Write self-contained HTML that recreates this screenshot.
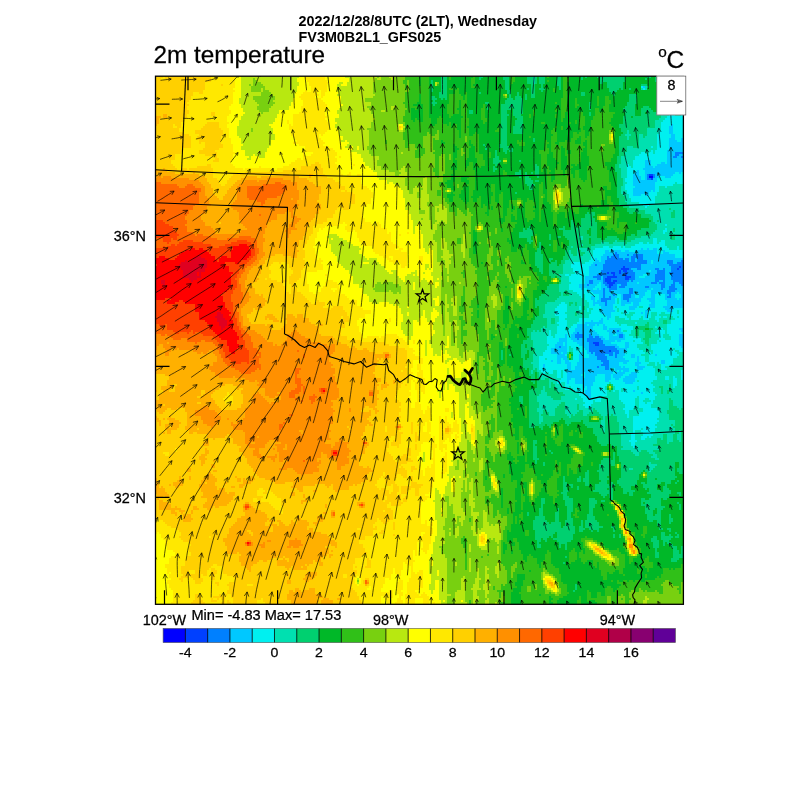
<!DOCTYPE html><html><head><meta charset="utf-8"><title>2m temperature</title><style>
html,body{margin:0;padding:0;background:#fff}body{width:800px;height:800px;overflow:hidden}svg{display:block}text{font-family:"Liberation Sans",sans-serif;fill:#000}
</style></head><body>
<svg width="800" height="800" viewBox="0 0 800 800">
<rect width="800" height="800" fill="#fff"/>
<defs><clipPath id="c"><rect x="155.5" y="76.2" width="527.9" height="528.1"/></clipPath></defs>
<g clip-path="url(#c)">
<g transform="translate(155 76)" shape-rendering="crispEdges">
<path fill="#0000ff" d="M494 100h4v2h-4z"/>
<path fill="#0040ff" d="M494 98h4v2h-4zM496 102h2v2h-2zM468 190h2v2h-2zM524 190h2v2h-2zM522 192h2v2h-2zM466 192h8v2h-8zM468 194h4v2h-4zM464 194h2v4h-2zM456 196h4v2h-4zM452 196h2v2h-2zM470 196h2v4h-2zM458 198h2v2h-2zM470 200h6v2h-6zM452 200h10v2h-10zM470 202h4v2h-4zM450 202h6v4h-6zM458 204h4v2h-4zM452 206h8v2h-8zM454 208h4v2h-4zM454 210h2v2h-2zM438 266h6v2h-6zM440 268h4v2h-4zM454 274h2v2h-2z"/>
<path fill="#0080ff" d="M520 76h8v2h-8zM520 78h4v2h-4zM518 80h4v2h-4zM526 80h2v2h-2zM498 98h2v4h-2zM492 98h2v4h-2zM492 102h4v2h-4zM460 176h2v2h-2zM478 178h10v2h-10zM458 178h6v2h-6zM472 178h2v2h-2zM456 180h8v2h-8zM452 180h2v2h-2zM476 180h12v2h-12zM452 182h16v2h-16zM470 182h4v2h-4zM482 182h6v2h-6zM476 182h4v4h-4zM450 184h24v2h-24zM526 184h4v2h-4zM482 184h10v2h-10zM512 184h6v4h-6zM522 186h8v2h-8zM450 186h42v2h-42zM448 188h38v2h-38zM440 188h2v2h-2zM514 188h16v2h-16zM516 190h8v2h-8zM526 190h4v2h-4zM448 190h20v2h-20zM470 190h16v2h-16zM482 192h4v2h-4zM448 192h18v2h-18zM500 192h4v2h-4zM508 192h2v2h-2zM516 192h6v2h-6zM524 192h6v2h-6zM474 192h2v2h-2zM446 194h18v2h-18zM472 194h6v2h-6zM516 194h14v2h-14zM466 194h2v2h-2zM502 194h8v4h-8zM466 196h4v2h-4zM446 196h6v2h-6zM454 196h2v2h-2zM460 196h4v2h-4zM514 196h16v2h-16zM472 196h8v4h-8zM460 198h10v2h-10zM442 198h16v2h-16zM448 200h4v2h-4zM476 200h4v2h-4zM462 200h8v2h-8zM438 200h8v2h-8zM516 198h14v6h-14zM500 198h10v6h-10zM442 202h4v2h-4zM456 202h14v2h-14zM474 202h6v2h-6zM448 202h2v4h-2zM500 204h4v2h-4zM456 204h2v2h-2zM508 204h2v2h-2zM518 204h12v2h-12zM462 204h12v2h-12zM476 204h2v2h-2zM434 204h4v4h-4zM496 206h6v2h-6zM448 206h4v2h-4zM518 206h2v2h-2zM460 206h12v2h-12zM504 206h6v2h-6zM524 206h4v2h-4zM526 208h4v2h-4zM450 208h4v2h-4zM458 208h4v2h-4zM432 208h2v2h-2zM466 208h6v2h-6zM516 208h4v2h-4zM506 208h4v4h-4zM514 210h6v2h-6zM528 210h2v2h-2zM452 210h2v2h-2zM456 210h6v2h-6zM464 210h6v2h-6zM490 210h4v2h-4zM506 212h2v2h-2zM514 212h8v2h-8zM454 212h8v2h-8zM454 214h2v2h-2zM512 214h8v2h-8zM474 212h4v6h-4zM512 216h4v2h-4zM458 218h2v2h-2zM514 218h2v2h-2zM448 212h2v10h-2zM468 218h8v4h-8zM454 220h2v2h-2zM512 220h4v2h-4zM468 222h6v2h-6zM446 222h10v2h-10zM446 224h6v2h-6zM472 224h2v2h-2zM450 226h2v4h-2zM462 254h2v2h-2zM422 256h2v2h-2zM434 258h2v2h-2zM464 258h4v4h-4zM420 258h8v4h-8zM434 260h4v2h-4zM440 260h4v2h-4zM432 262h14v2h-14zM422 262h2v2h-2zM432 264h16v2h-16zM434 266h4v2h-4zM444 266h4v2h-4zM444 268h6v2h-6zM434 268h6v2h-6zM434 270h26v2h-26zM404 270h2v2h-2zM434 272h28v2h-28zM456 274h8v2h-8zM434 274h20v2h-20zM436 276h2v2h-2zM440 276h18v2h-18zM460 276h4v2h-4zM440 278h10v2h-10zM454 278h4v2h-4zM460 278h2v4h-2zM442 280h10v4h-10zM446 284h8v2h-8zM448 286h6v2h-6zM446 288h8v2h-8zM442 290h2v2h-2zM450 290h4v4h-4z"/>
<path fill="#00c8ff" d="M488 10h2v2h-2zM516 48h2v2h-2zM514 50h4v8h-4zM516 58h4v4h-4zM514 62h6v2h-6zM526 62h4v4h-4zM514 64h8v2h-8zM514 66h16v8h-16zM512 74h18v2h-18zM528 76h2v2h-2zM512 76h8v4h-8zM524 78h6v2h-6zM528 80h2v2h-2zM522 80h4v2h-4zM512 80h6v2h-6zM512 82h18v6h-18zM506 86h4v2h-4zM490 84h6v6h-6zM502 88h28v2h-28zM500 90h30v2h-30zM490 90h8v2h-8zM488 92h42v2h-42zM482 94h2v2h-2zM490 94h40v2h-40zM524 96h2v2h-2zM480 96h4v2h-4zM490 96h30v2h-30zM478 98h6v2h-6zM500 98h18v2h-18zM500 100h4v2h-4zM510 100h6v2h-6zM490 98h2v6h-2zM478 100h8v4h-8zM498 102h4v2h-4zM478 104h24v2h-24zM478 106h22v4h-22zM480 110h20v2h-20zM478 112h22v2h-22zM478 114h18v2h-18zM498 114h2v2h-2zM478 116h16v2h-16zM478 118h8v2h-8zM490 118h4v2h-4zM498 172h4v2h-4zM492 172h2v2h-2zM486 172h2v2h-2zM508 174h2v2h-2zM470 174h4v2h-4zM450 174h4v2h-4zM480 174h22v2h-22zM456 174h10v2h-10zM508 176h6v2h-6zM462 176h40v2h-40zM450 176h10v2h-10zM448 178h10v2h-10zM464 178h8v2h-8zM474 178h4v2h-4zM488 178h32v4h-32zM464 180h12v2h-12zM454 180h2v2h-2zM446 180h6v4h-6zM468 182h2v2h-2zM440 182h2v2h-2zM488 182h42v2h-42zM474 182h2v4h-2zM480 182h2v4h-2zM446 184h4v2h-4zM518 184h8v2h-8zM440 184h4v2h-4zM498 184h14v4h-14zM492 184h4v4h-4zM438 186h12v2h-12zM518 186h4v2h-4zM436 188h4v2h-4zM486 188h28v2h-28zM442 188h6v2h-6zM486 190h30v2h-30zM434 190h14v4h-14zM476 192h6v2h-6zM486 192h14v2h-14zM504 192h4v2h-4zM510 192h6v4h-6zM478 194h16v2h-16zM496 194h6v2h-6zM434 194h12v4h-12zM480 196h22v2h-22zM510 196h4v2h-4zM492 198h8v2h-8zM480 198h8v2h-8zM434 198h8v2h-8zM430 200h8v2h-8zM490 200h10v2h-10zM480 200h4v2h-4zM510 198h6v6h-6zM446 200h2v4h-2zM430 202h12v2h-12zM480 202h20v2h-20zM438 204h10v2h-10zM474 204h2v2h-2zM478 204h22v2h-22zM504 204h4v2h-4zM510 204h8v4h-8zM430 204h4v4h-4zM438 206h6v2h-6zM528 206h2v2h-2zM484 206h12v2h-12zM472 206h10v2h-10zM502 206h2v2h-2zM520 206h4v2h-4zM446 206h2v2h-2zM462 208h4v2h-4zM424 208h8v2h-8zM520 208h6v2h-6zM446 208h4v2h-4zM434 208h8v2h-8zM472 208h34v2h-34zM510 208h6v2h-6zM510 210h4v2h-4zM470 210h20v2h-20zM424 210h16v2h-16zM494 210h12v2h-12zM462 210h2v2h-2zM520 210h8v2h-8zM446 210h6v2h-6zM478 212h18v2h-18zM426 212h2v2h-2zM508 212h6v2h-6zM522 212h8v2h-8zM462 212h12v2h-12zM432 212h6v2h-6zM498 212h8v2h-8zM442 212h2v2h-2zM446 212h2v2h-2zM450 212h4v4h-4zM436 214h12v2h-12zM456 214h18v2h-18zM520 214h10v2h-10zM496 214h16v2h-16zM478 214h14v2h-14zM438 216h10v2h-10zM516 216h6v2h-6zM478 216h12v2h-12zM524 216h6v2h-6zM450 216h24v2h-24zM496 216h6v2h-6zM504 216h8v2h-8zM510 218h4v2h-4zM450 218h8v2h-8zM484 218h6v2h-6zM460 218h2v2h-2zM476 218h4v4h-4zM496 218h4v4h-4zM444 218h4v4h-4zM516 218h4v4h-4zM526 218h4v4h-4zM484 220h4v2h-4zM450 220h4v2h-4zM456 220h6v2h-6zM510 220h2v2h-2zM466 218h2v6h-2zM436 220h4v4h-4zM492 222h8v2h-8zM524 222h6v2h-6zM510 222h12v2h-12zM456 222h4v2h-4zM444 222h2v2h-2zM474 222h12v4h-12zM442 224h4v2h-4zM466 224h6v2h-6zM494 224h6v2h-6zM438 224h2v2h-2zM452 224h8v4h-8zM496 226h4v2h-4zM466 226h10v2h-10zM438 226h12v2h-12zM512 224h18v6h-18zM478 226h6v4h-6zM444 228h6v2h-6zM466 228h4v2h-4zM452 228h6v2h-6zM438 228h2v2h-2zM494 228h6v4h-6zM508 230h20v2h-20zM474 230h8v2h-8zM446 230h12v4h-12zM510 232h8v2h-8zM474 232h6v2h-6zM446 234h14v2h-14zM490 234h4v2h-4zM512 234h6v2h-6zM446 236h10v2h-10zM486 236h2v2h-2zM450 238h6v2h-6zM490 236h2v6h-2zM452 240h4v2h-4zM452 242h2v2h-2zM446 242h2v2h-2zM444 244h4v2h-4zM436 244h2v2h-2zM430 246h18v2h-18zM434 248h6v2h-6zM422 248h10v2h-10zM448 248h2v2h-2zM442 248h2v2h-2zM422 250h16v2h-16zM448 250h4v4h-4zM420 252h18v2h-18zM524 252h4v2h-4zM454 252h12v2h-12zM464 254h2v2h-2zM452 254h10v2h-10zM420 254h20v2h-20zM526 254h2v2h-2zM454 256h14v2h-14zM418 256h4v2h-4zM424 256h18v2h-18zM436 258h8v2h-8zM454 258h4v2h-4zM462 258h2v2h-2zM410 258h2v4h-2zM416 258h4v4h-4zM524 258h4v4h-4zM428 258h6v4h-6zM468 258h2v4h-2zM454 260h10v2h-10zM444 260h4v2h-4zM438 260h2v2h-2zM424 262h8v2h-8zM446 262h4v2h-4zM454 262h16v2h-16zM416 262h6v2h-6zM404 262h8v4h-8zM462 264h4v2h-4zM448 264h12v2h-12zM418 264h14v2h-14zM448 266h8v2h-8zM402 266h6v2h-6zM422 266h12v2h-12zM524 262h6v8h-6zM410 266h2v4h-2zM450 268h12v2h-12zM400 268h8v2h-8zM424 268h10v2h-10zM470 266h4v6h-4zM460 270h4v2h-4zM400 270h4v2h-4zM526 270h4v2h-4zM428 270h6v2h-6zM406 270h6v2h-6zM528 272h2v2h-2zM430 272h4v2h-4zM462 272h10v2h-10zM396 272h16v4h-16zM432 274h2v2h-2zM464 274h8v2h-8zM432 276h4v2h-4zM426 276h2v2h-2zM464 276h6v2h-6zM408 276h4v2h-4zM396 276h10v2h-10zM438 276h2v2h-2zM458 276h2v4h-2zM434 278h6v2h-6zM402 278h8v2h-8zM450 278h4v2h-4zM462 278h8v2h-8zM500 278h2v2h-2zM424 278h4v4h-4zM476 278h4v4h-4zM402 280h10v2h-10zM452 280h8v2h-8zM434 280h8v2h-8zM462 280h6v2h-6zM452 282h18v2h-18zM408 282h4v2h-4zM424 282h18v2h-18zM482 280h2v6h-2zM424 284h22v2h-22zM410 284h4v2h-4zM396 284h2v2h-2zM454 284h20v2h-20zM402 282h4v6h-4zM506 284h4v4h-4zM468 286h4v2h-4zM410 286h6v2h-6zM480 286h6v2h-6zM422 286h26v2h-26zM454 286h10v4h-10zM480 288h4v2h-4zM422 288h24v2h-24zM388 288h2v4h-2zM420 290h22v2h-22zM454 290h12v2h-12zM444 290h6v2h-6zM482 290h8v2h-8zM468 290h2v2h-2zM412 288h4v6h-4zM460 292h14v2h-14zM482 292h6v2h-6zM420 292h30v2h-30zM454 292h2v2h-2zM464 294h2v2h-2zM412 294h46v2h-46zM460 294h2v2h-2zM468 294h6v2h-6zM412 296h16v2h-16zM460 296h10v2h-10zM430 296h28v2h-28zM476 296h6v2h-6zM430 298h12v2h-12zM412 298h14v2h-14zM474 298h8v2h-8zM458 298h10v2h-10zM412 300h16v2h-16zM470 300h12v2h-12zM458 300h8v2h-8zM430 300h10v2h-10zM450 298h6v6h-6zM460 302h4v2h-4zM412 302h4v2h-4zM420 302h20v4h-20zM468 302h12v4h-12zM450 304h4v2h-4zM412 304h2v4h-2zM470 306h8v2h-8zM420 306h18v2h-18zM428 308h10v2h-10zM428 310h2v2h-2zM432 310h4v4h-4zM478 314h2v2h-2zM486 316h2v2h-2zM430 314h6v6h-6zM432 320h4v2h-4zM434 322h2v2h-2z"/>
<path fill="#00f0f0" d="M486 10h2v2h-2zM488 12h2v2h-2zM516 36h2v2h-2zM514 38h6v2h-6zM526 38h2v2h-2zM512 40h18v2h-18zM510 42h20v2h-20zM508 44h22v2h-22zM506 46h24v2h-24zM506 48h10v2h-10zM506 50h8v4h-8zM518 48h12v10h-12zM504 54h10v4h-10zM520 58h10v4h-10zM502 58h14v4h-14zM520 62h6v2h-6zM522 64h4v2h-4zM496 70h2v2h-2zM502 62h12v12h-12zM496 74h2v2h-2zM500 74h12v4h-12zM486 76h4v2h-4zM494 76h4v2h-4zM494 78h18v2h-18zM484 78h8v2h-8zM480 80h32v4h-32zM496 84h16v2h-16zM510 86h2v2h-2zM496 86h10v2h-10zM496 88h6v2h-6zM472 88h2v2h-2zM478 84h12v8h-12zM472 90h4v2h-4zM498 90h2v2h-2zM472 92h16v2h-16zM472 94h10v2h-10zM472 96h8v2h-8zM520 96h4v2h-4zM526 96h4v2h-4zM484 94h6v6h-6zM518 98h12v2h-12zM472 98h6v4h-6zM516 100h14v2h-14zM504 100h6v2h-6zM486 100h4v4h-4zM502 102h28v4h-28zM470 102h8v4h-8zM472 106h6v2h-6zM500 106h20v2h-20zM522 106h6v2h-6zM500 108h18v2h-18zM470 108h8v2h-8zM510 110h2v2h-2zM470 110h10v2h-10zM470 112h8v2h-8zM500 110h4v6h-4zM496 114h2v2h-2zM472 114h6v4h-6zM494 116h8v4h-8zM474 118h4v2h-4zM486 118h4v2h-4zM474 120h26v2h-26zM476 122h24v4h-24zM484 126h16v2h-16zM488 128h6v2h-6zM490 130h2v2h-2zM510 148h2v2h-2zM510 152h2v2h-2zM508 154h4v2h-4zM508 156h2v2h-2zM506 164h4v2h-4zM498 162h4v6h-4zM492 166h2v2h-2zM504 166h6v2h-6zM484 166h4v2h-4zM480 168h30v2h-30zM458 170h8v2h-8zM448 170h6v2h-6zM476 170h36v2h-36zM468 170h2v2h-2zM522 170h2v4h-2zM502 172h12v2h-12zM440 172h46v2h-46zM528 172h2v2h-2zM494 172h4v2h-4zM488 172h4v2h-4zM474 174h6v2h-6zM510 174h20v2h-20zM466 174h4v2h-4zM454 174h2v2h-2zM438 174h12v4h-12zM502 174h6v4h-6zM514 176h16v2h-16zM438 178h10v2h-10zM520 178h10v4h-10zM436 180h10v2h-10zM436 182h4v2h-4zM442 182h4v2h-4zM444 184h2v2h-2zM434 184h6v2h-6zM496 184h2v4h-2zM418 186h8v2h-8zM430 186h8v2h-8zM416 188h20v2h-20zM416 190h18v2h-18zM418 192h16v4h-16zM494 194h2v2h-2zM420 196h14v2h-14zM410 198h4v2h-4zM416 198h18v2h-18zM488 198h4v2h-4zM484 200h6v2h-6zM414 200h16v6h-16zM482 206h2v2h-2zM444 206h2v2h-2zM416 206h14v2h-14zM442 208h4v2h-4zM414 208h10v4h-10zM440 210h6v2h-6zM428 212h4v2h-4zM438 212h4v2h-4zM444 212h2v2h-2zM496 212h2v2h-2zM414 212h12v2h-12zM418 214h18v2h-18zM492 214h4v2h-4zM522 216h2v2h-2zM502 216h2v2h-2zM422 216h16v2h-16zM490 216h6v4h-6zM430 218h14v2h-14zM424 218h4v2h-4zM520 218h6v4h-6zM462 218h4v4h-4zM480 218h4v4h-4zM488 220h8v2h-8zM426 220h2v2h-2zM500 218h10v6h-10zM430 220h6v4h-6zM440 220h4v4h-4zM522 222h2v2h-2zM486 222h6v2h-6zM440 224h2v2h-2zM432 224h6v2h-6zM486 224h8v2h-8zM460 222h2v6h-2zM464 222h2v6h-2zM476 226h2v2h-2zM406 226h4v2h-4zM484 226h12v2h-12zM500 224h12v6h-12zM434 226h4v4h-4zM458 228h8v2h-8zM484 228h10v2h-10zM404 228h8v2h-8zM440 228h4v2h-4zM470 228h8v2h-8zM482 230h2v2h-2zM402 230h10v2h-10zM458 230h2v2h-2zM488 230h6v2h-6zM434 230h12v2h-12zM528 230h2v2h-2zM500 230h8v2h-8zM462 230h12v2h-12zM424 230h2v4h-2zM480 232h30v2h-30zM438 232h8v2h-8zM518 232h12v2h-12zM458 232h4v2h-4zM464 232h10v2h-10zM432 232h2v4h-2zM400 232h12v4h-12zM464 234h26v2h-26zM460 234h2v2h-2zM518 234h4v2h-4zM494 234h18v2h-18zM436 234h10v4h-10zM524 234h6v4h-6zM510 236h12v2h-12zM480 236h6v2h-6zM488 236h2v2h-2zM456 236h10v2h-10zM468 236h6v2h-6zM400 236h10v2h-10zM502 236h4v2h-4zM516 238h14v2h-14zM456 238h14v2h-14zM502 238h2v2h-2zM400 238h12v2h-12zM434 238h16v2h-16zM478 238h12v2h-12zM492 236h4v6h-4zM434 240h18v2h-18zM500 240h6v2h-6zM508 240h4v2h-4zM476 240h10v2h-10zM464 240h8v2h-8zM456 240h4v2h-4zM488 240h2v2h-2zM404 240h8v2h-8zM518 240h4v2h-4zM524 240h6v2h-6zM488 242h6v2h-6zM520 242h8v2h-8zM424 242h22v2h-22zM454 242h6v2h-6zM448 242h4v2h-4zM500 242h4v2h-4zM470 242h4v2h-4zM476 242h8v2h-8zM404 242h6v2h-6zM502 244h2v2h-2zM404 244h8v2h-8zM438 244h6v2h-6zM424 244h12v2h-12zM448 244h12v2h-12zM516 244h12v4h-12zM402 246h10v2h-10zM448 246h14v2h-14zM480 246h2v2h-2zM422 246h8v2h-8zM432 248h2v2h-2zM440 248h2v2h-2zM466 248h6v2h-6zM418 248h4v2h-4zM404 248h8v2h-8zM450 248h14v2h-14zM444 248h4v2h-4zM512 248h18v4h-18zM402 250h10v2h-10zM500 250h2v2h-2zM452 250h26v2h-26zM416 250h6v2h-6zM438 250h10v4h-10zM414 252h6v2h-6zM506 252h2v2h-2zM452 252h2v2h-2zM466 252h12v2h-12zM512 252h12v2h-12zM402 252h8v2h-8zM528 252h2v4h-2zM502 254h8v2h-8zM466 254h2v2h-2zM472 254h4v2h-4zM512 254h14v2h-14zM402 254h18v2h-18zM440 254h12v2h-12zM402 256h16v2h-16zM442 256h12v2h-12zM468 256h8v2h-8zM500 256h10v2h-10zM512 256h18v2h-18zM394 254h2v6h-2zM514 258h10v2h-10zM444 258h10v2h-10zM470 258h4v2h-4zM458 258h4v2h-4zM504 258h4v4h-4zM528 258h2v4h-2zM400 258h10v4h-10zM448 260h6v2h-6zM470 260h8v2h-8zM392 260h6v2h-6zM412 258h4v6h-4zM516 260h8v4h-8zM504 262h6v2h-6zM450 262h4v2h-4zM470 262h16v2h-16zM392 262h12v4h-12zM412 264h6v2h-6zM502 264h2v2h-2zM480 264h6v2h-6zM460 264h2v2h-2zM466 264h12v2h-12zM506 264h18v2h-18zM392 266h10v2h-10zM412 266h10v2h-10zM456 266h14v2h-14zM474 266h14v2h-14zM502 266h22v2h-22zM408 266h2v4h-2zM496 268h28v2h-28zM412 268h12v2h-12zM394 268h6v2h-6zM462 268h8v2h-8zM474 268h8v4h-8zM496 270h30v2h-30zM416 270h12v2h-12zM392 270h8v2h-8zM464 270h6v2h-6zM418 272h12v2h-12zM392 272h4v2h-4zM520 272h8v2h-8zM472 272h12v2h-12zM496 272h22v2h-22zM412 270h2v6h-2zM498 274h22v2h-22zM418 274h14v2h-14zM390 274h6v2h-6zM472 274h16v2h-16zM524 274h6v2h-6zM428 276h4v2h-4zM470 276h20v2h-20zM494 276h2v2h-2zM406 276h2v2h-2zM418 276h8v2h-8zM498 276h24v2h-24zM388 276h8v2h-8zM528 276h2v4h-2zM410 278h2v2h-2zM470 278h6v2h-6zM388 278h14v2h-14zM480 278h6v2h-6zM494 278h6v2h-6zM502 278h22v2h-22zM428 278h6v4h-6zM468 280h8v2h-8zM384 280h18v2h-18zM494 280h28v2h-28zM480 280h2v2h-2zM418 278h6v6h-6zM392 282h10v2h-10zM384 282h6v2h-6zM494 282h24v2h-24zM406 282h2v2h-2zM470 282h12v2h-12zM484 280h6v6h-6zM414 284h10v2h-10zM494 284h12v2h-12zM474 284h8v2h-8zM384 284h12v2h-12zM398 284h4v2h-4zM510 284h8v4h-8zM406 284h4v4h-4zM504 286h2v2h-2zM384 286h18v2h-18zM472 286h8v2h-8zM464 286h4v2h-4zM486 286h8v2h-8zM500 286h2v4h-2zM416 286h6v4h-6zM464 288h16v2h-16zM484 288h8v2h-8zM506 288h10v2h-10zM384 288h4v4h-4zM390 288h22v4h-22zM466 290h2v2h-2zM490 290h8v2h-8zM506 290h4v2h-4zM470 290h12v2h-12zM416 290h4v4h-4zM488 292h12v2h-12zM456 292h4v2h-4zM474 292h8v2h-8zM506 292h6v2h-6zM384 292h28v2h-28zM466 294h2v2h-2zM462 294h2v2h-2zM386 294h12v2h-12zM474 294h26v2h-26zM458 294h2v4h-2zM394 296h4v2h-4zM388 296h2v2h-2zM470 296h6v2h-6zM428 296h2v2h-2zM482 296h18v4h-18zM442 298h8v2h-8zM426 298h4v2h-4zM468 298h6v2h-6zM408 294h4v8h-4zM402 294h4v8h-4zM456 298h2v4h-2zM518 300h2v2h-2zM428 300h2v2h-2zM466 300h4v2h-4zM482 300h20v2h-20zM526 294h4v10h-4zM510 300h4v4h-4zM416 302h4v2h-4zM456 302h4v2h-4zM464 302h4v2h-4zM406 302h6v2h-6zM480 302h22v2h-22zM440 300h10v6h-10zM402 304h10v2h-10zM484 304h14v2h-14zM480 304h2v2h-2zM528 304h2v2h-2zM454 304h14v2h-14zM414 304h6v4h-6zM410 306h2v2h-2zM456 306h14v2h-14zM438 306h16v2h-16zM402 306h4v2h-4zM478 306h18v2h-18zM518 302h4v8h-4zM410 308h18v2h-18zM458 308h40v2h-40zM438 308h14v2h-14zM484 310h16v2h-16zM518 310h2v2h-2zM416 310h12v2h-12zM430 310h2v2h-2zM460 310h22v2h-22zM436 310h14v4h-14zM410 310h4v4h-4zM418 312h14v2h-14zM484 312h14v2h-14zM460 312h6v2h-6zM468 312h14v2h-14zM458 314h2v2h-2zM468 314h10v2h-10zM464 314h2v2h-2zM480 314h18v2h-18zM420 314h10v2h-10zM488 316h12v2h-12zM464 316h22v2h-22zM436 314h16v6h-16zM424 316h6v4h-6zM464 318h38v2h-38zM484 320h16v2h-16zM464 320h18v2h-18zM426 320h6v2h-6zM436 320h10v4h-10zM484 322h6v2h-6zM428 322h6v2h-6zM494 322h6v2h-6zM464 322h16v2h-16zM420 322h2v2h-2zM440 324h6v2h-6zM466 324h14v2h-14zM496 324h2v2h-2zM428 324h10v2h-10zM484 324h4v2h-4zM468 326h12v2h-12zM484 326h6v2h-6zM492 326h6v2h-6zM430 326h8v2h-8zM428 328h8v2h-8zM470 328h10v4h-10zM484 328h12v4h-12zM430 330h6v2h-6zM488 332h14v2h-14zM468 332h10v2h-10zM488 334h16v2h-16zM470 334h4v4h-4zM484 336h20v4h-20zM472 338h2v4h-2zM478 340h26v2h-26zM478 342h24v2h-24zM478 344h26v2h-26zM478 346h24v2h-24zM478 348h22v2h-22zM478 350h24v2h-24zM488 352h12v2h-12zM478 352h8v2h-8zM486 354h14v2h-14zM478 354h2v4h-2zM488 356h8v2h-8zM488 358h10v2h-10zM494 360h2v2h-2zM486 360h6v2h-6zM476 358h4v6h-4zM486 362h4v2h-4zM474 364h8v2h-8zM476 366h4v4h-4zM478 370h2v2h-2z"/>
<path fill="#00e0b0" d="M378 0h2v8h-2zM490 10h2v4h-2zM486 12h2v2h-2zM514 28h6v2h-6zM510 30h20v2h-20zM508 32h22v4h-22zM518 36h12v2h-12zM506 36h10v2h-10zM528 38h2v2h-2zM506 38h8v2h-8zM520 38h6v2h-6zM506 40h6v2h-6zM504 42h6v2h-6zM500 44h8v2h-8zM500 46h6v6h-6zM492 52h14v2h-14zM472 54h2v4h-2zM492 54h12v4h-12zM492 58h10v2h-10zM470 58h6v2h-6zM484 58h4v4h-4zM490 60h12v2h-12zM472 60h2v4h-2zM484 62h18v8h-18zM484 70h12v2h-12zM472 70h6v2h-6zM498 70h4v2h-4zM472 72h30v2h-30zM472 74h24v2h-24zM498 74h2v4h-2zM470 76h16v2h-16zM490 76h4v2h-4zM470 78h14v2h-14zM492 78h2v2h-2zM466 80h14v4h-14zM466 84h12v4h-12zM474 88h4v2h-4zM464 88h8v4h-8zM476 90h2v2h-2zM466 92h6v10h-6zM468 102h2v4h-2zM528 106h2v2h-2zM468 106h4v2h-4zM520 106h2v2h-2zM468 108h2v2h-2zM518 108h12v2h-12zM512 110h18v2h-18zM504 110h6v2h-6zM466 110h4v4h-4zM504 112h26v4h-26zM466 114h6v4h-6zM502 116h28v4h-28zM468 118h6v2h-6zM470 120h4v2h-4zM470 122h6v4h-6zM500 120h30v8h-30zM472 126h12v2h-12zM472 128h16v2h-16zM494 128h36v2h-36zM474 130h16v2h-16zM492 130h38v2h-38zM484 132h30v2h-30zM516 132h14v2h-14zM490 134h28v2h-28zM490 136h26v2h-26zM496 138h20v2h-20zM520 134h10v8h-10zM498 140h18v2h-18zM498 142h32v2h-32zM504 144h26v2h-26zM498 144h4v2h-4zM500 146h30v2h-30zM512 148h18v2h-18zM502 148h8v2h-8zM502 150h28v2h-28zM502 152h8v2h-8zM512 152h6v4h-6zM520 152h10v4h-10zM500 154h8v2h-8zM498 156h10v2h-10zM510 156h20v2h-20zM496 158h20v2h-20zM424 160h4v2h-4zM486 160h30v2h-30zM520 158h10v6h-10zM502 162h14v2h-14zM426 162h2v2h-2zM480 162h18v2h-18zM460 164h2v2h-2zM476 164h22v2h-22zM502 164h4v2h-4zM472 166h12v2h-12zM446 166h8v2h-8zM488 166h4v2h-4zM494 166h4v2h-4zM458 166h12v2h-12zM502 166h2v2h-2zM510 164h20v6h-20zM440 168h40v2h-40zM426 168h2v2h-2zM416 170h2v2h-2zM524 170h6v2h-6zM466 170h2v2h-2zM436 170h12v2h-12zM454 170h4v2h-4zM512 170h10v2h-10zM470 170h6v2h-6zM422 172h12v2h-12zM514 172h8v2h-8zM436 172h4v2h-4zM524 172h4v2h-4zM426 174h12v2h-12zM414 174h2v4h-2zM430 176h8v2h-8zM422 174h2v6h-2zM414 178h4v2h-4zM428 178h10v2h-10zM414 180h22v4h-22zM410 184h24v2h-24zM410 186h8v2h-8zM426 186h4v2h-4zM408 188h8v4h-8zM408 192h10v4h-10zM408 196h12v2h-12zM404 198h6v2h-6zM414 198h2v2h-2zM406 200h8v6h-8zM406 206h10v2h-10zM404 208h10v6h-10zM404 214h6v2h-6zM412 214h6v2h-6zM414 216h8v2h-8zM406 216h2v4h-2zM414 218h10v2h-10zM428 218h2v4h-2zM404 220h22v2h-22zM402 222h28v2h-28zM400 224h32v2h-32zM462 222h2v6h-2zM410 226h4v2h-4zM418 226h2v2h-2zM392 226h14v2h-14zM422 226h12v4h-12zM390 228h14v2h-14zM412 228h2v2h-2zM416 228h4v2h-4zM430 230h4v2h-4zM460 230h2v2h-2zM484 230h4v2h-4zM390 230h12v2h-12zM412 230h12v4h-12zM426 230h2v4h-2zM434 232h4v2h-4zM430 232h2v2h-2zM462 232h2v4h-2zM412 234h20v2h-20zM434 234h2v2h-2zM390 232h10v6h-10zM522 234h2v4h-2zM410 236h10v2h-10zM422 236h4v2h-4zM506 236h4v2h-4zM428 236h8v2h-8zM466 236h2v2h-2zM474 236h6v2h-6zM496 236h6v4h-6zM412 238h8v2h-8zM422 238h12v2h-12zM504 238h12v2h-12zM470 238h8v2h-8zM388 238h12v2h-12zM472 240h4v2h-4zM506 240h2v2h-2zM496 240h4v2h-4zM388 240h16v2h-16zM460 240h4v2h-4zM512 240h6v2h-6zM486 240h2v2h-2zM412 240h22v2h-22zM522 240h2v2h-2zM410 242h14v2h-14zM494 242h6v2h-6zM484 242h4v2h-4zM460 242h10v2h-10zM504 242h16v2h-16zM474 242h2v2h-2zM400 242h4v4h-4zM412 244h12v2h-12zM460 244h42v2h-42zM504 244h4v2h-4zM392 242h4v6h-4zM528 242h2v6h-2zM512 244h4v4h-4zM400 246h2v2h-2zM462 246h18v2h-18zM494 246h14v2h-14zM412 246h10v2h-10zM482 246h10v2h-10zM392 248h12v2h-12zM464 248h2v2h-2zM412 248h6v2h-6zM494 248h18v2h-18zM472 248h18v2h-18zM412 250h4v2h-4zM494 250h6v2h-6zM502 250h10v2h-10zM392 250h10v2h-10zM388 250h2v2h-2zM478 250h2v4h-2zM386 252h16v2h-16zM410 252h4v2h-4zM508 252h4v2h-4zM498 252h8v2h-8zM386 254h8v2h-8zM496 254h6v2h-6zM382 254h2v2h-2zM484 254h4v2h-4zM468 254h4v2h-4zM378 254h2v2h-2zM510 254h2v4h-2zM476 254h4v4h-4zM396 254h6v4h-6zM496 256h4v2h-4zM484 256h6v4h-6zM376 256h18v4h-18zM396 258h4v2h-4zM508 258h6v2h-6zM474 258h6v2h-6zM496 258h8v4h-8zM398 260h2v2h-2zM508 260h8v2h-8zM478 260h12v2h-12zM376 260h16v4h-16zM494 262h10v2h-10zM510 262h6v2h-6zM486 262h2v2h-2zM486 264h4v2h-4zM504 264h2v2h-2zM478 264h2v2h-2zM494 264h8v4h-8zM378 264h14v4h-14zM488 266h2v2h-2zM378 268h16v2h-16zM482 268h10v2h-10zM494 268h2v2h-2zM414 270h2v2h-2zM378 270h14v2h-14zM482 270h14v2h-14zM484 272h12v2h-12zM380 272h12v2h-12zM518 272h2v2h-2zM414 272h4v4h-4zM380 274h10v2h-10zM520 274h4v2h-4zM488 274h10v2h-10zM496 276h2v2h-2zM412 276h2v2h-2zM380 276h8v2h-8zM490 276h4v2h-4zM522 276h6v2h-6zM486 278h8v2h-8zM524 278h4v2h-4zM378 278h10v2h-10zM522 280h8v2h-8zM390 282h2v2h-2zM412 282h2v2h-2zM518 282h12v2h-12zM378 280h6v6h-6zM490 280h4v6h-4zM518 284h10v4h-10zM494 286h6v2h-6zM376 286h8v2h-8zM502 286h2v2h-2zM492 288h8v2h-8zM502 288h4v2h-4zM516 288h14v2h-14zM378 288h6v4h-6zM510 290h20v2h-20zM498 290h8v2h-8zM512 292h18v2h-18zM382 292h2v2h-2zM378 292h2v2h-2zM500 292h6v2h-6zM382 294h4v2h-4zM376 294h2v4h-2zM398 294h4v4h-4zM384 296h4v2h-4zM390 296h4v2h-4zM500 294h26v6h-26zM406 294h2v8h-2zM384 298h18v4h-18zM520 300h6v2h-6zM514 300h4v4h-4zM502 300h8v4h-8zM522 302h4v2h-4zM386 302h4v2h-4zM394 302h12v2h-12zM498 304h20v2h-20zM482 304h2v2h-2zM394 304h8v2h-8zM522 304h6v2h-6zM454 306h2v2h-2zM496 306h22v2h-22zM398 306h4v2h-4zM406 306h4v2h-4zM522 306h8v4h-8zM498 308h16v2h-16zM394 306h2v6h-2zM400 308h10v4h-10zM516 308h2v4h-2zM500 310h4v2h-4zM508 310h6v2h-6zM414 310h2v2h-2zM520 310h10v2h-10zM450 310h2v4h-2zM458 310h2v4h-2zM482 310h2v4h-2zM388 310h2v4h-2zM414 312h4v2h-4zM402 312h8v2h-8zM508 312h22v2h-22zM466 312h2v4h-2zM498 312h8v4h-8zM402 314h18v2h-18zM452 314h2v2h-2zM456 314h2v2h-2zM516 314h14v2h-14zM460 314h4v2h-4zM386 314h4v2h-4zM508 314h4v4h-4zM408 316h16v2h-16zM386 316h6v2h-6zM514 316h16v2h-16zM500 316h6v2h-6zM452 316h12v4h-12zM410 318h14v2h-14zM502 318h28v2h-28zM384 318h8v2h-8zM500 320h30v2h-30zM482 320h2v2h-2zM382 320h14v2h-14zM406 320h20v2h-20zM446 320h18v4h-18zM500 322h14v2h-14zM382 322h16v2h-16zM406 322h14v2h-14zM516 322h14v2h-14zM490 322h4v2h-4zM422 322h6v2h-6zM446 324h20v2h-20zM438 324h2v2h-2zM382 324h46v2h-46zM488 324h8v2h-8zM498 324h16v4h-16zM438 326h30v2h-30zM384 326h22v2h-22zM490 326h2v2h-2zM410 326h20v2h-20zM518 324h12v6h-12zM424 328h4v2h-4zM384 328h20v2h-20zM480 322h4v10h-4zM496 328h18v4h-18zM436 328h34v4h-34zM522 330h8v2h-8zM384 330h18v2h-18zM424 330h6v2h-6zM410 328h12v6h-12zM424 332h14v2h-14zM478 332h10v2h-10zM528 332h2v2h-2zM524 332h2v2h-2zM502 332h12v2h-12zM382 332h18v2h-18zM440 332h28v2h-28zM474 334h14v2h-14zM442 334h28v2h-28zM410 334h14v2h-14zM428 334h10v2h-10zM392 334h8v2h-8zM382 334h6v2h-6zM504 334h8v4h-8zM428 336h6v2h-6zM384 336h4v2h-4zM410 336h12v2h-12zM444 336h26v2h-26zM394 336h6v4h-6zM474 336h10v4h-10zM412 338h4v2h-4zM458 338h14v2h-14zM446 338h6v2h-6zM454 338h2v2h-2zM418 338h2v2h-2zM384 338h2v2h-2zM428 338h4v2h-4zM504 338h10v4h-10zM462 340h10v2h-10zM474 340h4v2h-4zM414 340h2v2h-2zM448 340h2v4h-2zM502 342h12v2h-12zM384 340h4v6h-4zM528 340h2v6h-2zM462 342h16v4h-16zM504 344h16v2h-16zM502 346h18v2h-18zM384 346h2v2h-2zM446 344h4v6h-4zM500 348h16v2h-16zM518 348h2v2h-2zM502 350h16v2h-16zM486 352h2v2h-2zM448 350h2v6h-2zM500 352h20v4h-20zM480 354h6v2h-6zM464 346h14v12h-14zM524 354h2v4h-2zM496 356h24v2h-24zM480 356h8v4h-8zM498 358h10v2h-10zM496 360h12v2h-12zM492 360h2v2h-2zM522 358h4v6h-4zM466 358h10v6h-10zM480 360h6v4h-6zM506 362h2v2h-2zM490 362h12v2h-12zM512 358h6v8h-6zM466 364h8v2h-8zM524 364h2v2h-2zM482 364h20v2h-20zM480 366h22v2h-22zM512 366h2v2h-2zM466 366h10v4h-10zM480 368h18v2h-18zM480 370h24v2h-24zM468 370h10v2h-10zM466 372h38v2h-38zM492 374h6v2h-6zM476 374h10v2h-10zM494 376h6v2h-6zM478 376h6v2h-6zM480 378h4v2h-4zM498 378h4v2h-4zM496 380h6v2h-6zM500 382h4v2h-4zM494 386h2v2h-2zM494 388h8v2h-8zM494 390h6v2h-6zM474 392h4v2h-4zM494 392h4v2h-4zM494 394h2v2h-2z"/>
<path fill="#00d070" d="M492 0h4v2h-4zM430 0h2v2h-2zM506 0h4v2h-4zM442 0h28v2h-28zM324 0h4v2h-4zM348 0h6v4h-6zM500 0h4v4h-4zM426 0h2v4h-2zM506 2h2v2h-2zM490 2h2v2h-2zM324 2h2v2h-2zM522 0h8v6h-8zM512 0h6v6h-6zM444 2h26v4h-26zM500 4h2v2h-2zM384 0h6v8h-6zM380 0h2v8h-2zM372 0h6v8h-6zM506 4h4v4h-4zM514 6h4v2h-4zM444 6h4v2h-4zM520 6h10v2h-10zM402 0h4v10h-4zM520 8h6v2h-6zM486 8h6v2h-6zM452 6h16v6h-16zM386 8h2v4h-2zM506 8h2v4h-2zM492 10h2v2h-2zM350 4h4v10h-4zM512 8h6v6h-6zM404 10h2v4h-2zM454 12h10v2h-10zM474 12h2v2h-2zM466 12h2v2h-2zM384 12h6v2h-6zM372 12h2v2h-2zM286 0h6v16h-6zM276 4h2v12h-2zM386 14h2v2h-2zM516 14h2v2h-2zM454 14h8v2h-8zM352 14h4v4h-4zM324 16h2v2h-2zM456 16h4v2h-4zM514 16h4v4h-4zM362 16h2v4h-2zM426 16h4v4h-4zM458 18h2v2h-2zM376 8h4v14h-4zM284 16h8v6h-8zM354 18h2v4h-2zM276 20h4v2h-4zM360 20h6v2h-6zM512 20h8v2h-8zM370 18h2v6h-2zM528 22h2v2h-2zM276 22h6v2h-6zM360 22h8v2h-8zM508 22h14v2h-14zM290 22h2v2h-2zM286 22h2v2h-2zM352 22h6v2h-6zM474 18h8v8h-8zM278 24h2v2h-2zM506 24h24v4h-24zM350 24h18v4h-18zM276 26h6v2h-6zM472 26h10v2h-10zM330 26h4v2h-4zM278 28h2v2h-2zM520 28h10v2h-10zM506 28h8v2h-8zM472 28h8v2h-8zM346 28h22v4h-22zM504 30h6v2h-6zM470 30h10v2h-10zM488 30h6v2h-6zM434 26h2v8h-2zM332 28h2v6h-2zM486 32h10v2h-10zM346 32h10v2h-10zM468 32h12v4h-12zM502 32h6v4h-6zM486 34h12v2h-12zM358 32h10v6h-10zM314 34h4v4h-4zM346 34h6v4h-6zM486 36h4v2h-4zM492 36h14v2h-14zM434 36h2v4h-2zM470 36h10v4h-10zM358 38h8v2h-8zM346 38h8v2h-8zM486 38h20v2h-20zM360 40h8v2h-8zM468 40h8v2h-8zM478 40h28v2h-28zM468 42h36v2h-36zM362 42h6v2h-6zM468 44h32v4h-32zM360 44h8v6h-8zM464 48h36v4h-36zM466 52h26v2h-26zM466 54h6v2h-6zM358 50h10v8h-10zM474 54h18v4h-18zM468 56h4v2h-4zM476 58h8v2h-8zM488 58h4v2h-4zM466 58h4v2h-4zM488 60h2v2h-2zM474 60h10v4h-10zM464 60h8v4h-8zM378 62h2v4h-2zM346 40h6v28h-6zM464 64h20v6h-20zM344 68h8v2h-8zM328 68h2v2h-2zM344 70h10v2h-10zM478 70h6v2h-6zM330 70h2v4h-2zM348 72h6v2h-6zM356 72h2v2h-2zM464 70h8v6h-8zM354 74h4v2h-4zM348 74h4v2h-4zM350 76h2v2h-2zM340 74h2v6h-2zM464 76h6v4h-6zM340 80h4v2h-4zM338 82h6v2h-6zM338 84h8v2h-8zM364 84h2v2h-2zM462 80h4v8h-4zM338 86h6v2h-6zM340 88h2v2h-2zM380 88h2v2h-2zM460 88h4v4h-4zM338 90h2v2h-2zM338 92h4v2h-4zM460 92h6v4h-6zM338 94h2v2h-2zM364 94h2v2h-2zM376 96h2v2h-2zM380 90h4v10h-4zM370 96h2v4h-2zM360 96h6v4h-6zM462 96h4v6h-4zM382 100h2v2h-2zM370 100h4v2h-4zM364 100h2v2h-2zM370 102h6v2h-6zM380 104h4v2h-4zM370 104h8v4h-8zM462 102h6v8h-6zM372 108h8v2h-8zM374 110h4v4h-4zM462 110h4v8h-4zM360 116h2v2h-2zM462 118h6v2h-6zM462 120h8v2h-8zM464 122h6v4h-6zM464 126h8v4h-8zM468 130h6v2h-6zM514 132h2v2h-2zM472 132h12v2h-12zM518 134h2v2h-2zM472 134h18v2h-18zM432 136h2v2h-2zM436 136h4v2h-4zM474 136h4v2h-4zM482 136h8v2h-8zM430 138h10v2h-10zM486 138h10v2h-10zM516 136h4v6h-4zM486 140h12v2h-12zM430 140h8v2h-8zM494 142h4v2h-4zM426 142h14v4h-14zM416 144h2v2h-2zM502 144h2v2h-2zM496 144h2v2h-2zM494 146h6v2h-6zM416 146h4v4h-4zM426 146h16v4h-16zM494 148h8v4h-8zM416 150h6v2h-6zM374 150h2v2h-2zM408 150h2v2h-2zM424 150h18v2h-18zM372 152h4v2h-4zM404 152h6v2h-6zM416 152h18v2h-18zM486 152h16v2h-16zM368 152h2v2h-2zM518 152h2v4h-2zM482 154h18v2h-18zM368 154h10v2h-10zM408 154h24v4h-24zM482 156h16v2h-16zM436 152h6v8h-6zM364 156h14v4h-14zM476 158h4v2h-4zM408 158h26v2h-26zM482 158h14v2h-14zM402 160h4v2h-4zM452 160h10v2h-10zM472 160h14v2h-14zM364 160h12v2h-12zM410 160h14v2h-14zM428 160h14v2h-14zM516 158h4v6h-4zM394 158h2v6h-2zM450 162h14v2h-14zM372 162h4v2h-4zM412 162h14v2h-14zM472 162h8v2h-8zM428 162h6v2h-6zM436 162h10v2h-10zM372 164h6v2h-6zM436 164h24v2h-24zM462 164h14v2h-14zM414 164h20v4h-20zM374 166h2v2h-2zM470 166h2v2h-2zM454 166h4v2h-4zM436 166h10v2h-10zM414 168h12v2h-12zM428 168h12v2h-12zM394 168h2v2h-2zM384 166h2v6h-2zM418 170h18v2h-18zM412 170h4v2h-4zM434 172h2v2h-2zM412 172h10v2h-10zM382 172h4v4h-4zM424 174h2v2h-2zM416 174h6v4h-6zM380 176h6v2h-6zM424 176h6v2h-6zM410 174h4v6h-4zM424 178h4v2h-4zM418 178h4v2h-4zM408 180h6v4h-6zM394 182h4v2h-4zM400 184h2v2h-2zM394 184h2v2h-2zM406 184h4v4h-4zM396 186h6v2h-6zM380 178h8v12h-8zM394 188h8v2h-8zM404 188h4v2h-4zM382 190h6v2h-6zM384 192h4v4h-4zM394 190h14v8h-14zM386 196h2v2h-2zM394 198h10v2h-10zM402 200h4v2h-4zM396 200h4v2h-4zM404 202h2v2h-2zM404 206h2v2h-2zM394 208h10v2h-10zM392 210h12v4h-12zM410 214h2v2h-2zM390 214h14v2h-14zM390 216h16v2h-16zM408 216h6v4h-6zM386 218h20v2h-20zM384 220h20v2h-20zM380 222h2v2h-2zM384 222h18v2h-18zM380 224h20v2h-20zM380 226h12v2h-12zM414 226h4v2h-4zM420 226h2v4h-2zM414 228h2v2h-2zM380 228h10v2h-10zM380 230h2v2h-2zM428 230h2v4h-2zM384 230h6v8h-6zM426 236h2v2h-2zM420 236h2v4h-2zM384 238h4v2h-4zM380 240h8v2h-8zM380 242h12v2h-12zM396 242h4v6h-4zM378 244h14v4h-14zM508 244h4v4h-4zM492 246h2v2h-2zM376 248h16v2h-16zM490 248h4v2h-4zM480 250h14v2h-14zM390 250h2v2h-2zM376 250h12v2h-12zM494 252h4v2h-4zM372 252h14v2h-14zM480 252h10v2h-10zM384 254h2v2h-2zM488 254h8v2h-8zM380 254h2v2h-2zM372 254h6v2h-6zM480 254h4v6h-4zM372 256h4v4h-4zM490 256h6v6h-6zM374 260h2v2h-2zM372 262h4v2h-4zM488 262h6v2h-6zM490 264h4v4h-4zM368 264h10v4h-10zM492 268h2v2h-2zM372 268h6v4h-6zM366 268h4v4h-4zM366 272h14v2h-14zM366 274h6v4h-6zM374 274h6v4h-6zM416 276h2v2h-2zM354 278h2v2h-2zM412 278h2v4h-2zM374 278h4v4h-4zM366 278h4v4h-4zM346 274h2v10h-2zM416 280h2v4h-2zM372 282h6v2h-6zM368 282h2v2h-2zM368 284h10v2h-10zM528 284h2v4h-2zM368 286h8v2h-8zM368 288h10v4h-10zM370 292h2v2h-2zM380 292h2v2h-2zM374 292h4v2h-4zM378 294h4v2h-4zM374 294h2v4h-2zM378 296h2v2h-2zM374 298h6v2h-6zM382 296h2v6h-2zM384 302h2v2h-2zM390 302h4v2h-4zM376 300h4v6h-4zM378 306h2v2h-2zM396 306h2v2h-2zM382 304h12v6h-12zM452 308h2v2h-2zM456 308h2v2h-2zM514 308h2v4h-2zM396 308h4v4h-4zM382 310h6v2h-6zM390 310h4v2h-4zM504 310h4v2h-4zM380 312h8v2h-8zM376 312h2v2h-2zM390 312h12v4h-12zM454 314h2v2h-2zM512 314h4v2h-4zM506 312h2v6h-2zM374 314h12v4h-12zM392 316h16v2h-16zM512 316h2v2h-2zM374 318h10v2h-10zM392 318h18v2h-18zM396 320h10v2h-10zM398 322h8v2h-8zM514 322h2v2h-2zM364 320h4v6h-4zM374 320h8v6h-8zM366 326h2v2h-2zM406 326h4v2h-4zM514 324h4v6h-4zM404 328h6v2h-6zM374 326h10v6h-10zM402 330h8v2h-8zM514 330h8v2h-8zM422 328h2v6h-2zM438 332h2v2h-2zM526 332h2v2h-2zM514 332h10v2h-10zM374 332h8v4h-8zM424 334h4v2h-4zM438 334h4v2h-4zM388 334h4v2h-4zM400 332h10v6h-10zM512 334h18v4h-18zM434 336h10v2h-10zM422 336h6v2h-6zM388 336h6v2h-6zM452 338h2v2h-2zM456 338h2v2h-2zM514 338h16v2h-16zM386 338h8v2h-8zM400 338h12v2h-12zM420 338h8v2h-8zM432 338h14v2h-14zM416 338h2v2h-2zM388 340h26v2h-26zM416 340h18v2h-18zM444 340h4v2h-4zM514 340h14v4h-14zM446 342h2v2h-2zM408 342h26v2h-26zM388 342h18v2h-18zM450 340h12v6h-12zM410 344h16v2h-16zM388 344h16v2h-16zM428 344h6v2h-6zM444 344h2v2h-2zM520 344h8v2h-8zM374 336h10v12h-10zM428 346h18v2h-18zM410 346h6v2h-6zM386 346h12v2h-12zM520 346h10v4h-10zM374 348h16v2h-16zM412 348h2v2h-2zM516 348h2v2h-2zM430 348h16v2h-16zM392 348h4v2h-4zM518 350h12v2h-12zM374 350h6v2h-6zM432 350h16v2h-16zM384 350h4v2h-4zM394 350h2v2h-2zM386 352h2v2h-2zM520 352h10v2h-10zM450 346h14v10h-14zM438 352h10v4h-10zM520 354h4v4h-4zM438 356h26v2h-26zM440 358h26v2h-26zM508 358h4v6h-4zM518 358h4v6h-4zM502 362h4v2h-4zM526 354h4v12h-4zM442 360h24v6h-24zM518 364h6v2h-6zM378 364h4v4h-4zM502 364h10v4h-10zM444 366h22v2h-22zM514 366h16v2h-16zM498 368h32v2h-32zM456 368h10v2h-10zM378 368h2v2h-2zM446 368h6v2h-6zM462 370h6v2h-6zM458 370h2v2h-2zM504 370h26v4h-26zM462 372h4v2h-4zM498 374h32v2h-32zM486 374h6v2h-6zM462 374h14v2h-14zM394 374h2v2h-2zM500 376h30v2h-30zM462 376h16v2h-16zM396 376h2v2h-2zM484 376h10v2h-10zM484 378h14v2h-14zM462 378h18v2h-18zM378 370h4v12h-4zM502 378h28v4h-28zM464 380h32v2h-32zM458 376h2v8h-2zM448 382h8v2h-8zM464 382h36v2h-36zM378 382h6v2h-6zM504 382h26v2h-26zM464 384h66v2h-66zM446 384h14v4h-14zM380 384h2v4h-2zM496 386h24v2h-24zM388 386h2v4h-2zM456 388h4v2h-4zM502 388h18v2h-18zM524 386h6v6h-6zM466 386h28v6h-28zM500 390h20v2h-20zM444 388h10v6h-10zM478 392h16v2h-16zM498 392h22v2h-22zM466 392h8v2h-8zM522 392h6v4h-6zM490 394h4v2h-4zM432 394h2v2h-2zM442 394h12v2h-12zM496 394h24v2h-24zM466 394h22v2h-22zM466 396h20v2h-20zM524 396h4v2h-4zM444 396h10v4h-10zM492 396h28v4h-28zM430 396h4v6h-4zM466 398h18v4h-18zM492 400h30v2h-30zM444 400h8v2h-8zM424 400h2v2h-2zM444 402h10v2h-10zM492 402h8v2h-8zM464 402h20v2h-20zM502 402h18v2h-18zM408 400h2v6h-2zM422 402h4v4h-4zM428 402h6v4h-6zM522 404h2v2h-2zM492 404h24v2h-24zM446 404h6v2h-6zM462 404h20v4h-20zM486 406h4v2h-4zM456 406h2v2h-2zM520 406h2v2h-2zM444 406h8v2h-8zM492 406h14v2h-14zM510 406h6v2h-6zM430 406h4v4h-4zM464 408h18v2h-18zM510 408h2v2h-2zM440 408h14v2h-14zM456 408h4v2h-4zM414 408h4v2h-4zM488 408h14v4h-14zM466 410h10v2h-10zM508 410h4v2h-4zM440 410h18v2h-18zM416 410h2v2h-2zM408 406h4v8h-4zM422 410h2v4h-2zM490 412h2v2h-2zM508 412h6v2h-6zM440 412h12v2h-12zM454 412h4v2h-4zM494 412h8v2h-8zM468 412h8v2h-8zM494 414h12v2h-12zM468 414h12v2h-12zM508 414h8v2h-8zM408 414h6v2h-6zM438 414h20v2h-20zM528 414h2v4h-2zM522 416h4v2h-4zM468 416h4v2h-4zM492 416h24v2h-24zM406 416h6v2h-6zM444 416h14v2h-14zM474 416h4v4h-4zM524 418h2v2h-2zM408 418h4v2h-4zM446 418h6v2h-6zM496 418h18v4h-18zM454 418h4v4h-4zM448 420h2v2h-2zM408 420h6v2h-6zM486 422h4v2h-4zM434 422h6v2h-6zM408 422h10v2h-10zM456 422h2v2h-2zM494 422h12v2h-12zM508 422h4v2h-4zM486 424h20v2h-20zM446 424h4v2h-4zM386 422h4v6h-4zM434 424h8v4h-8zM486 426h2v2h-2zM522 426h2v2h-2zM490 426h16v2h-16zM410 424h8v6h-8zM486 428h20v2h-20zM386 428h2v4h-2zM434 428h6v4h-6zM490 430h20v2h-20zM524 428h2v6h-2zM528 432h2v2h-2zM490 432h10v2h-10zM502 432h6v2h-6zM412 430h6v6h-6zM402 432h2v4h-2zM434 432h4v6h-4zM502 434h4v4h-4zM490 434h8v4h-8zM384 432h4v8h-4zM372 436h2v4h-2zM500 438h6v2h-6zM432 438h6v2h-6zM492 438h6v2h-6zM412 436h4v6h-4zM514 438h2v4h-2zM432 440h8v4h-8zM380 440h10v4h-10zM492 440h14v4h-14zM412 442h6v2h-6zM400 436h4v10h-4zM514 442h4v4h-4zM430 444h12v2h-12zM494 444h4v2h-4zM378 444h14v2h-14zM378 446h16v2h-16zM514 446h2v2h-2zM396 446h10v2h-10zM426 444h2v6h-2zM410 444h8v6h-8zM502 444h4v6h-4zM430 446h14v4h-14zM378 448h28v4h-28zM424 450h4v2h-4zM504 450h2v2h-2zM430 450h18v2h-18zM408 450h12v2h-12zM456 450h4v2h-4zM434 452h10v2h-10zM378 452h42v2h-42zM424 452h6v2h-6zM504 452h4v2h-4zM512 452h4v2h-4zM458 452h2v4h-2zM424 454h4v2h-4zM514 454h2v2h-2zM442 454h2v2h-2zM436 454h2v2h-2zM380 454h40v2h-40zM520 456h2v2h-2zM380 456h20v2h-20zM402 456h18v2h-18zM506 456h4v4h-4zM380 458h18v2h-18zM514 458h2v2h-2zM522 458h2v2h-2zM464 458h2v4h-2zM402 458h16v4h-16zM458 458h2v4h-2zM498 460h4v2h-4zM506 460h12v2h-12zM396 460h2v2h-2zM380 460h14v2h-14zM520 460h4v2h-4zM506 462h10v2h-10zM388 462h4v2h-4zM380 462h6v2h-6zM398 462h20v2h-20zM496 462h6v2h-6zM508 464h6v2h-6zM496 464h8v2h-8zM382 464h4v2h-4zM390 464h2v2h-2zM402 464h14v2h-14zM382 466h2v2h-2zM404 466h8v2h-8zM512 466h4v2h-4zM528 456h2v14h-2zM508 466h2v4h-2zM514 468h4v2h-4zM498 466h6v6h-6zM404 468h2v4h-2zM382 468h4v4h-4zM516 470h6v2h-6zM410 468h2v6h-2zM518 472h4v2h-4zM500 472h2v4h-2zM526 470h4v8h-4zM518 474h6v4h-6zM518 478h12v2h-12zM500 476h4v6h-4zM410 480h2v2h-2zM518 480h10v2h-10zM516 482h8v2h-8zM516 484h6v2h-6zM408 486h2v2h-2zM420 508h2v6h-2zM418 514h2v2h-2z"/>
<path fill="#00b828" d="M296 0h22v2h-22zM328 0h20v2h-20zM412 0h14v2h-14zM394 0h8v2h-8zM390 0h2v2h-2zM510 0h2v2h-2zM432 0h10v2h-10zM428 0h2v2h-2zM470 0h22v2h-22zM496 0h4v2h-4zM504 0h2v4h-2zM320 0h4v4h-4zM274 0h12v4h-12zM292 0h2v4h-2zM470 2h20v2h-20zM326 2h22v2h-22zM390 2h12v2h-12zM428 2h16v2h-16zM508 2h4v2h-4zM296 2h20v2h-20zM492 2h8v2h-8zM414 2h12v2h-12zM360 0h12v6h-12zM518 0h4v6h-4zM394 4h8v2h-8zM390 4h2v2h-2zM510 4h2v2h-2zM278 4h8v2h-8zM414 4h30v2h-30zM470 4h30v2h-30zM502 4h4v2h-4zM354 0h2v8h-2zM382 0h2v8h-2zM320 4h30v4h-30zM412 6h32v2h-32zM390 6h12v2h-12zM468 6h38v2h-38zM358 6h14v2h-14zM448 6h4v2h-4zM510 6h4v2h-4zM264 0h2v10h-2zM518 6h2v4h-2zM278 6h2v4h-2zM284 6h2v4h-2zM388 8h14v2h-14zM492 8h14v2h-14zM526 8h4v2h-4zM318 8h32v2h-32zM292 4h24v8h-24zM412 8h40v4h-40zM380 8h6v4h-6zM508 8h4v4h-4zM354 8h22v4h-22zM468 8h18v4h-18zM388 10h16v2h-16zM494 10h12v2h-12zM320 10h30v2h-30zM406 0h2v14h-2zM390 12h8v2h-8zM492 12h20v2h-20zM400 12h4v2h-4zM476 12h10v2h-10zM304 12h46v2h-46zM354 12h18v2h-18zM468 12h6v2h-6zM298 12h4v2h-4zM292 12h2v2h-2zM374 12h2v2h-2zM464 12h2v2h-2zM380 12h4v2h-4zM274 4h2v12h-2zM278 10h8v6h-8zM412 12h42v4h-42zM304 14h48v2h-48zM380 14h6v2h-6zM400 14h8v2h-8zM462 14h54v2h-54zM388 14h10v2h-10zM356 14h20v2h-20zM292 14h8v4h-8zM326 16h26v2h-26zM312 16h12v2h-12zM364 16h12v2h-12zM430 16h26v2h-26zM460 16h54v2h-54zM304 16h6v2h-6zM518 10h12v10h-12zM412 16h14v4h-14zM274 16h10v4h-10zM356 16h6v4h-6zM430 18h28v2h-28zM482 18h32v2h-32zM306 18h4v2h-4zM364 18h6v2h-6zM460 18h14v2h-14zM380 16h28v6h-28zM352 18h2v4h-2zM312 18h36v4h-36zM372 18h4v4h-4zM356 20h4v2h-4zM520 20h10v2h-10zM366 20h4v2h-4zM412 20h30v2h-30zM280 20h4v2h-4zM482 20h30v2h-30zM292 18h2v6h-2zM308 20h2v4h-2zM274 20h2v4h-2zM454 20h20v4h-20zM312 22h40v2h-40zM288 22h2v2h-2zM358 22h2v2h-2zM368 22h2v2h-2zM522 22h6v2h-6zM482 22h26v2h-26zM282 22h4v2h-4zM372 22h34v2h-34zM264 18h2v8h-2zM422 22h20v4h-20zM274 24h4v2h-4zM368 24h38v2h-38zM456 24h18v2h-18zM280 24h14v2h-14zM312 24h38v2h-38zM482 24h24v4h-24zM282 26h12v2h-12zM312 26h18v2h-18zM262 26h4v2h-4zM368 26h32v2h-32zM456 26h16v2h-16zM274 26h2v2h-2zM402 26h4v2h-4zM422 26h12v2h-12zM334 26h16v2h-16zM444 20h6v10h-6zM436 26h6v4h-6zM274 28h4v2h-4zM480 28h26v2h-26zM424 28h10v2h-10zM280 28h12v2h-12zM258 28h10v2h-10zM454 28h18v2h-18zM412 22h8v10h-8zM304 24h2v8h-2zM368 28h38v4h-38zM312 28h16v4h-16zM480 30h8v2h-8zM436 30h12v2h-12zM454 30h16v2h-16zM494 30h10v2h-10zM422 30h12v2h-12zM334 28h12v6h-12zM330 28h2v6h-2zM262 30h6v4h-6zM436 32h4v2h-4zM412 32h22v2h-22zM368 32h32v2h-32zM496 32h6v2h-6zM356 32h2v2h-2zM312 32h14v2h-14zM256 32h4v2h-4zM302 32h4v2h-4zM444 32h4v4h-4zM402 32h4v4h-4zM454 32h14v4h-14zM498 34h4v2h-4zM380 34h20v2h-20zM412 34h28v2h-28zM274 30h18v8h-18zM318 34h8v4h-8zM352 34h6v4h-6zM304 34h2v4h-2zM368 34h10v4h-10zM312 34h2v4h-2zM490 36h2v2h-2zM380 36h26v2h-26zM460 36h10v2h-10zM480 32h6v8h-6zM436 36h4v4h-4zM428 36h6v4h-6zM458 38h12v2h-12zM380 38h20v2h-20zM274 38h20v2h-20zM366 38h8v2h-8zM298 38h8v2h-8zM376 38h2v2h-2zM354 38h4v2h-4zM256 34h12v8h-12zM330 34h16v8h-16zM410 36h14v6h-14zM402 38h4v4h-4zM312 38h14v4h-14zM376 40h24v2h-24zM286 40h8v2h-8zM476 40h2v2h-2zM368 40h6v2h-6zM296 40h12v2h-12zM458 40h10v2h-10zM274 40h10v2h-10zM352 40h8v2h-8zM430 40h8v4h-8zM408 42h16v2h-16zM314 42h12v2h-12zM352 42h10v2h-10zM262 42h6v2h-6zM256 42h4v2h-4zM368 42h38v4h-38zM332 42h14v4h-14zM288 42h18v4h-18zM456 42h12v4h-12zM408 44h12v2h-12zM258 44h2v2h-2zM264 44h4v2h-4zM276 42h6v6h-6zM314 44h14v4h-14zM422 44h2v4h-2zM416 46h4v2h-4zM390 46h24v2h-24zM330 46h16v2h-16zM368 46h18v2h-18zM296 46h10v2h-10zM454 46h14v2h-14zM288 46h6v2h-6zM430 44h6v6h-6zM352 44h8v6h-8zM368 48h56v2h-56zM314 48h32v2h-32zM296 48h4v2h-4zM276 48h4v2h-4zM456 48h8v2h-8zM292 48h2v2h-2zM408 50h16v2h-16zM312 50h34v2h-34zM296 50h2v2h-2zM368 50h32v2h-32zM458 50h6v2h-6zM402 50h4v2h-4zM302 48h4v6h-4zM428 50h8v4h-8zM408 52h18v2h-18zM400 52h6v2h-6zM368 52h30v2h-30zM314 52h28v2h-28zM344 52h2v4h-2zM460 52h6v4h-6zM430 54h6v2h-6zM400 54h26v2h-26zM314 54h26v2h-26zM352 50h6v8h-6zM368 54h28v4h-28zM460 56h8v2h-8zM322 56h24v2h-24zM314 56h6v2h-6zM422 56h2v2h-2zM430 56h4v4h-4zM352 58h46v2h-46zM314 58h4v2h-4zM460 58h6v2h-6zM304 54h2v8h-2zM402 56h16v6h-16zM424 60h2v2h-2zM352 60h22v2h-22zM376 60h20v2h-20zM430 60h2v2h-2zM380 62h16v2h-16zM402 62h14v2h-14zM422 62h4v2h-4zM352 62h26v2h-26zM286 64h2v2h-2zM412 64h4v2h-4zM380 64h10v2h-10zM392 64h4v2h-4zM368 64h10v2h-10zM364 64h2v2h-2zM402 64h8v2h-8zM430 64h2v2h-2zM324 58h22v10h-22zM352 64h10v4h-10zM314 64h2v4h-2zM420 64h6v4h-6zM400 66h4v2h-4zM394 66h2v2h-2zM286 66h4v2h-4zM370 66h20v4h-20zM428 66h4v4h-4zM330 68h14v2h-14zM352 68h12v2h-12zM402 68h2v2h-2zM298 68h2v2h-2zM314 68h4v2h-4zM324 68h4v2h-4zM392 68h4v4h-4zM406 70h2v2h-2zM332 70h12v2h-12zM354 70h36v2h-36zM298 70h4v2h-4zM316 70h4v2h-4zM430 70h2v2h-2zM324 70h6v4h-6zM358 72h32v2h-32zM298 72h6v2h-6zM354 72h2v2h-2zM332 72h16v2h-16zM428 72h4v4h-4zM394 72h2v4h-2zM342 74h6v2h-6zM352 74h2v2h-2zM358 74h26v2h-26zM324 74h16v2h-16zM460 60h4v18h-4zM412 74h4v4h-4zM324 76h10v2h-10zM394 76h4v2h-4zM352 76h32v2h-32zM342 76h8v2h-8zM406 72h4v8h-4zM426 76h6v4h-6zM458 78h6v2h-6zM342 78h44v2h-44zM314 72h6v10h-6zM298 74h4v8h-4zM336 76h4v6h-4zM392 78h6v4h-6zM328 78h6v4h-6zM344 80h42v2h-42zM458 80h4v2h-4zM352 82h34v2h-34zM298 82h2v2h-2zM328 82h10v2h-10zM312 82h10v2h-10zM392 82h8v2h-8zM344 82h4v2h-4zM426 80h8v6h-8zM456 82h6v4h-6zM392 84h10v2h-10zM352 84h12v2h-12zM310 84h12v2h-12zM346 84h2v2h-2zM366 84h20v2h-20zM330 84h8v4h-8zM450 86h12v2h-12zM352 86h34v2h-34zM424 86h10v2h-10zM392 86h12v2h-12zM344 86h4v2h-4zM298 84h4v6h-4zM318 86h4v4h-4zM310 86h4v4h-4zM330 88h10v2h-10zM392 88h10v2h-10zM416 88h4v2h-4zM382 88h4v2h-4zM422 88h12v2h-12zM450 88h10v2h-10zM342 88h38v2h-38zM418 90h14v2h-14zM394 90h8v2h-8zM326 90h12v2h-12zM390 90h2v2h-2zM340 90h40v2h-40zM310 90h2v2h-2zM318 90h6v2h-6zM406 80h6v14h-6zM452 90h8v4h-8zM296 90h6v4h-6zM416 92h16v2h-16zM318 92h20v2h-20zM394 92h6v2h-6zM342 92h38v2h-38zM384 90h2v6h-2zM388 92h4v4h-4zM320 94h18v2h-18zM366 94h14v2h-14zM350 94h14v2h-14zM340 94h8v2h-8zM396 94h4v2h-4zM454 94h6v2h-6zM416 94h4v4h-4zM298 94h2v4h-2zM378 96h2v2h-2zM394 96h6v2h-6zM372 96h4v2h-4zM408 94h2v6h-2zM320 96h28v4h-28zM352 96h8v4h-8zM372 98h8v2h-8zM424 94h8v8h-8zM366 96h4v6h-4zM384 96h8v6h-8zM418 98h2v4h-2zM374 100h8v2h-8zM306 100h8v2h-8zM320 100h44v2h-44zM296 98h4v6h-4zM396 98h4v6h-4zM306 102h6v2h-6zM376 102h16v2h-16zM426 102h6v2h-6zM454 96h8v10h-8zM378 104h2v2h-2zM396 104h2v2h-2zM292 104h8v2h-8zM428 104h2v2h-2zM384 104h8v2h-8zM306 104h8v2h-8zM320 102h50v6h-50zM310 106h4v2h-4zM378 106h8v2h-8zM290 106h8v2h-8zM340 108h32v2h-32zM310 108h2v2h-2zM292 108h6v2h-6zM380 108h4v2h-4zM292 110h8v2h-8zM456 106h6v8h-6zM320 108h16v6h-16zM378 110h6v4h-6zM308 110h6v4h-6zM448 110h4v4h-4zM340 110h34v4h-34zM296 112h4v2h-4zM298 114h2v2h-2zM340 114h44v2h-44zM318 114h18v2h-18zM388 106h4v12h-4zM306 114h8v4h-8zM340 116h6v2h-6zM348 116h12v2h-12zM362 116h22v2h-22zM296 116h2v2h-2zM450 114h12v6h-12zM318 116h20v4h-20zM292 118h8v2h-8zM390 118h2v4h-2zM304 118h10v4h-10zM348 118h36v4h-36zM292 120h6v2h-6zM456 120h6v2h-6zM316 120h8v2h-8zM450 120h2v4h-2zM374 122h10v2h-10zM348 122h14v2h-14zM306 122h8v2h-8zM366 122h6v2h-6zM340 118h4v8h-4zM318 122h4v4h-4zM456 122h8v4h-8zM388 122h4v4h-4zM294 122h4v4h-4zM368 124h4v2h-4zM378 124h6v2h-6zM308 124h6v2h-6zM326 120h10v8h-10zM446 124h6v4h-6zM342 126h2v2h-2zM388 126h6v2h-6zM310 126h2v2h-2zM368 126h2v4h-2zM458 126h6v4h-6zM380 126h4v4h-4zM446 128h8v2h-8zM330 128h4v2h-4zM356 128h2v2h-2zM426 128h2v2h-2zM348 124h6v8h-6zM326 128h2v4h-2zM378 130h6v2h-6zM460 130h8v2h-8zM366 130h4v2h-4zM424 130h18v2h-18zM444 130h10v2h-10zM388 128h8v6h-8zM356 130h4v4h-4zM336 130h2v4h-2zM414 132h2v2h-2zM380 132h4v2h-4zM424 132h30v2h-30zM332 130h2v6h-2zM460 132h12v4h-12zM378 134h6v2h-6zM424 134h28v2h-28zM356 134h2v2h-2zM414 134h4v2h-4zM386 134h10v2h-10zM464 136h10v2h-10zM330 136h4v2h-4zM412 136h8v2h-8zM478 136h4v2h-4zM434 136h2v2h-2zM440 136h12v2h-12zM424 136h8v2h-8zM404 136h6v2h-6zM348 132h4v8h-4zM332 138h2v2h-2zM440 138h2v2h-2zM356 138h2v2h-2zM362 132h8v10h-8zM380 136h4v6h-4zM412 138h18v4h-18zM464 138h22v4h-22zM402 138h8v4h-8zM438 140h4v2h-4zM348 140h2v2h-2zM356 140h4v4h-4zM378 142h6v2h-6zM402 142h24v2h-24zM440 142h2v2h-2zM362 142h10v2h-10zM462 142h32v2h-32zM386 136h12v10h-12zM344 142h6v4h-6zM374 144h10v2h-10zM462 144h34v2h-34zM418 144h8v2h-8zM356 144h16v2h-16zM440 144h4v2h-4zM472 146h8v2h-8zM346 146h2v2h-2zM362 146h36v2h-36zM482 146h12v2h-12zM402 144h14v6h-14zM442 146h10v4h-10zM420 146h6v4h-6zM360 148h38v2h-38zM462 146h2v6h-2zM472 148h22v4h-22zM442 150h8v2h-8zM376 150h32v2h-32zM360 150h14v2h-14zM422 150h2v2h-2zM410 150h6v4h-6zM370 152h2v2h-2zM376 152h28v2h-28zM472 152h14v2h-14zM442 152h10v2h-10zM456 152h2v2h-2zM434 152h2v2h-2zM358 152h10v4h-10zM346 152h2v4h-2zM318 154h2v2h-2zM442 154h18v2h-18zM472 154h10v2h-10zM378 154h30v4h-30zM432 154h4v4h-4zM442 156h20v2h-20zM468 156h14v2h-14zM396 158h12v2h-12zM378 158h2v2h-2zM442 158h34v2h-34zM480 158h2v2h-2zM434 158h2v2h-2zM356 156h8v6h-8zM396 160h6v2h-6zM462 160h10v2h-10zM442 160h10v2h-10zM406 160h4v2h-4zM382 158h12v6h-12zM376 160h2v4h-2zM396 162h16v2h-16zM446 162h4v2h-4zM352 162h2v2h-2zM464 162h8v2h-8zM356 162h16v2h-16zM352 164h20v2h-20zM382 164h16v2h-16zM402 164h12v2h-12zM434 162h2v6h-2zM354 166h20v2h-20zM386 166h12v2h-12zM376 166h2v2h-2zM408 166h6v4h-6zM396 168h2v2h-2zM386 168h8v2h-8zM402 166h4v6h-4zM382 166h2v6h-2zM372 168h6v4h-6zM356 168h14v4h-14zM408 170h4v2h-4zM364 172h4v2h-4zM402 172h10v2h-10zM372 172h8v2h-8zM386 170h12v6h-12zM356 172h6v4h-6zM374 174h8v2h-8zM402 174h8v2h-8zM318 156h4v22h-4zM386 176h24v2h-24zM366 174h2v6h-2zM388 178h22v2h-22zM388 180h20v2h-20zM398 182h10v2h-10zM388 182h6v4h-6zM396 184h4v2h-4zM366 184h2v2h-2zM374 176h6v12h-6zM402 184h4v4h-4zM366 186h4v2h-4zM326 186h2v2h-2zM388 186h8v2h-8zM402 188h2v2h-2zM376 188h4v2h-4zM376 190h6v2h-6zM376 192h8v2h-8zM378 194h6v2h-6zM388 188h6v10h-6zM382 196h4v2h-4zM382 198h12v2h-12zM400 200h2v2h-2zM384 200h4v4h-4zM392 200h4v6h-4zM384 204h6v2h-6zM404 204h2v2h-2zM402 206h2v2h-2zM382 206h16v2h-16zM384 208h10v2h-10zM350 210h2v2h-2zM382 210h10v4h-10zM378 214h12v4h-12zM378 218h8v2h-8zM370 220h2v2h-2zM378 220h6v2h-6zM382 222h2v2h-2zM370 222h4v4h-4zM378 222h2v10h-2zM322 228h2v4h-2zM382 230h2v2h-2zM350 220h4v14h-4zM368 226h6v8h-6zM368 234h4v4h-4zM378 232h6v8h-6zM368 238h6v2h-6zM322 234h2v8h-2zM378 240h2v2h-2zM360 240h2v2h-2zM366 240h6v2h-6zM360 242h12v2h-12zM376 242h4v2h-4zM348 234h6v14h-6zM358 244h20v4h-20zM356 248h4v2h-4zM350 248h2v4h-2zM364 248h12v4h-12zM356 250h6v2h-6zM490 252h4v2h-4zM348 252h2v2h-2zM354 252h18v6h-18zM364 258h8v2h-8zM336 258h2v2h-2zM354 258h8v4h-8zM364 260h10v2h-10zM336 260h4v2h-4zM336 262h2v2h-2zM354 262h18v2h-18zM354 264h14v4h-14zM354 268h12v2h-12zM344 266h4v6h-4zM370 268h2v4h-2zM344 272h6v2h-6zM352 270h14v8h-14zM372 274h2v4h-2zM414 276h2v2h-2zM352 278h2v2h-2zM416 278h2v2h-2zM356 278h10v2h-10zM370 278h4v4h-4zM352 280h14v2h-14zM344 274h2v10h-2zM348 274h2v10h-2zM414 282h2v2h-2zM370 282h2v2h-2zM344 284h6v4h-6zM352 282h16v8h-16zM344 288h4v2h-4zM358 290h10v2h-10zM354 290h2v2h-2zM372 292h2v2h-2zM358 292h12v2h-12zM358 294h16v2h-16zM368 296h6v4h-6zM360 296h4v4h-4zM380 296h2v6h-2zM380 302h4v2h-4zM368 300h8v6h-8zM360 300h6v6h-6zM380 304h2v4h-2zM368 306h10v2h-10zM358 306h8v2h-8zM360 308h22v2h-22zM362 310h20v2h-20zM378 312h2v2h-2zM360 312h16v2h-16zM452 312h2v2h-2zM456 312h2v2h-2zM360 314h14v2h-14zM358 316h16v4h-16zM356 320h8v2h-8zM354 322h10v4h-10zM368 320h6v8h-6zM356 326h10v2h-10zM354 328h20v2h-20zM356 330h14v2h-14zM356 332h6v2h-6zM364 332h6v2h-6zM356 334h14v4h-14zM372 330h2v12h-2zM358 338h12v4h-12zM434 340h2v4h-2zM406 342h2v2h-2zM444 342h2v2h-2zM356 342h18v4h-18zM426 344h2v2h-2zM404 344h6v2h-6zM434 344h10v2h-10zM398 346h12v2h-12zM416 346h12v2h-12zM358 346h16v4h-16zM408 348h4v2h-4zM396 348h2v2h-2zM390 348h2v2h-2zM400 348h6v2h-6zM414 348h16v2h-16zM358 350h6v2h-6zM388 350h6v2h-6zM368 350h6v2h-6zM408 350h24v2h-24zM380 350h4v2h-4zM408 352h30v2h-30zM368 352h18v2h-18zM388 352h8v2h-8zM408 354h8v2h-8zM368 354h28v2h-28zM418 354h2v2h-2zM422 354h16v2h-16zM360 352h4v6h-4zM392 356h4v2h-4zM428 356h10v2h-10zM368 356h22v2h-22zM400 350h4v10h-4zM408 356h6v4h-6zM418 356h6v4h-6zM358 358h6v2h-6zM428 358h12v2h-12zM368 358h28v2h-28zM370 360h20v2h-20zM408 360h16v2h-16zM392 360h4v2h-4zM400 360h2v2h-2zM428 360h14v2h-14zM360 360h4v4h-4zM392 362h6v2h-6zM372 362h18v2h-18zM408 362h34v4h-34zM382 364h8v4h-8zM392 364h8v4h-8zM406 366h38v2h-38zM406 368h8v2h-8zM392 368h10v2h-10zM452 368h4v2h-4zM420 368h26v2h-26zM380 368h10v2h-10zM392 370h22v2h-22zM382 370h8v2h-8zM460 370h2v2h-2zM424 370h34v2h-34zM372 364h6v10h-6zM426 372h36v2h-36zM382 372h34v2h-34zM428 374h34v2h-34zM374 374h4v2h-4zM382 374h12v2h-12zM396 374h22v2h-22zM362 366h2v12h-2zM382 376h14v2h-14zM354 376h2v2h-2zM398 376h22v2h-22zM460 376h2v4h-2zM456 376h2v4h-2zM430 376h16v4h-16zM352 378h4v2h-4zM368 378h2v2h-2zM382 378h8v2h-8zM392 378h26v2h-26zM382 380h36v2h-36zM428 380h30v2h-30zM352 380h6v2h-6zM372 376h6v8h-6zM362 380h8v4h-8zM384 382h32v2h-32zM428 382h20v2h-20zM456 382h2v2h-2zM352 382h8v2h-8zM460 380h4v6h-4zM382 384h18v2h-18zM402 384h14v2h-14zM364 384h6v2h-6zM428 384h18v2h-18zM372 384h8v2h-8zM354 384h4v2h-4zM438 386h8v2h-8zM362 386h18v2h-18zM406 386h10v2h-10zM354 386h6v2h-6zM460 386h6v2h-6zM382 386h6v2h-6zM428 386h8v4h-8zM402 386h2v4h-2zM390 386h10v4h-10zM374 388h14v2h-14zM424 388h2v2h-2zM454 388h2v2h-2zM438 388h6v2h-6zM520 386h4v6h-4zM424 390h20v2h-20zM374 390h26v2h-26zM454 390h6v2h-6zM414 392h2v2h-2zM454 392h8v2h-8zM422 392h22v2h-22zM378 392h22v2h-22zM464 392h2v2h-2zM354 388h16v8h-16zM520 392h2v4h-2zM422 394h10v2h-10zM434 394h8v2h-8zM488 394h2v2h-2zM528 392h2v6h-2zM402 394h2v4h-2zM414 394h4v4h-4zM380 394h18v4h-18zM486 396h2v2h-2zM354 396h12v2h-12zM520 396h4v2h-4zM422 396h8v2h-8zM406 388h6v12h-6zM454 394h12v6h-12zM484 398h2v2h-2zM520 398h10v2h-10zM380 398h6v2h-6zM388 398h10v2h-10zM414 398h16v2h-16zM356 398h12v4h-12zM348 398h2v4h-2zM382 400h14v2h-14zM426 400h4v2h-4zM404 400h4v2h-4zM410 400h14v2h-14zM484 400h4v2h-4zM522 400h8v2h-8zM452 400h14v2h-14zM434 396h10v8h-10zM330 400h2v4h-2zM500 402h2v2h-2zM520 402h10v2h-10zM382 402h12v2h-12zM356 402h10v2h-10zM484 402h8v2h-8zM454 402h10v2h-10zM426 402h2v4h-2zM410 402h12v4h-12zM482 404h10v2h-10zM356 404h2v2h-2zM434 404h12v2h-12zM452 404h10v2h-10zM516 404h6v2h-6zM524 404h6v2h-6zM386 404h6v4h-6zM506 406h4v2h-4zM412 406h18v2h-18zM452 406h4v2h-4zM434 406h10v2h-10zM516 406h4v2h-4zM482 406h4v2h-4zM490 406h2v2h-2zM522 406h8v2h-8zM458 406h4v2h-4zM502 408h8v2h-8zM460 408h4v2h-4zM482 408h6v2h-6zM418 408h12v2h-12zM454 408h2v2h-2zM434 408h6v2h-6zM412 408h2v2h-2zM362 404h4v8h-4zM368 406h4v6h-4zM512 408h18v4h-18zM388 408h4v4h-4zM458 410h8v2h-8zM412 410h4v2h-4zM418 410h4v2h-4zM476 410h12v2h-12zM402 402h6v12h-6zM424 410h16v4h-16zM502 410h6v4h-6zM492 412h2v2h-2zM514 412h16v2h-16zM476 412h14v2h-14zM452 412h2v2h-2zM412 412h10v2h-10zM386 412h6v4h-6zM414 414h24v2h-24zM404 414h4v2h-4zM516 414h12v2h-12zM506 414h2v2h-2zM480 414h14v2h-14zM370 412h2v6h-2zM458 412h10v6h-10zM478 416h14v2h-14zM384 416h8v2h-8zM402 416h4v2h-4zM472 416h2v2h-2zM516 416h6v2h-6zM526 416h2v2h-2zM412 416h32v2h-32zM368 418h4v2h-4zM384 418h10v2h-10zM458 418h16v2h-16zM404 418h4v2h-4zM514 418h10v2h-10zM412 418h34v2h-34zM526 418h4v2h-4zM452 418h2v2h-2zM478 418h18v2h-18zM458 420h38v2h-38zM514 420h16v2h-16zM402 420h6v2h-6zM382 420h16v2h-16zM414 420h34v2h-34zM450 420h4v2h-4zM360 412h6v12h-6zM440 422h16v2h-16zM490 422h4v2h-4zM400 422h8v2h-8zM458 422h28v2h-28zM512 422h18v2h-18zM506 422h2v2h-2zM370 420h4v6h-4zM380 422h6v4h-6zM462 424h24v2h-24zM450 424h6v2h-6zM362 424h4v2h-4zM506 424h24v2h-24zM442 424h4v2h-4zM390 422h8v6h-8zM400 424h10v4h-10zM442 426h12v2h-12zM464 426h22v2h-22zM506 426h16v2h-16zM488 426h2v2h-2zM524 426h6v2h-6zM368 426h8v4h-8zM378 426h8v4h-8zM440 428h16v2h-16zM388 428h22v2h-22zM466 428h20v2h-20zM506 428h18v2h-18zM346 412h2v20h-2zM418 422h16v10h-16zM526 428h4v4h-4zM388 430h24v2h-24zM440 430h18v2h-18zM510 430h14v2h-14zM368 430h18v2h-18zM360 426h6v8h-6zM468 430h22v4h-22zM368 432h16v2h-16zM500 432h2v2h-2zM508 432h16v2h-16zM422 432h12v2h-12zM438 432h20v2h-20zM526 432h2v2h-2zM388 432h14v4h-14zM418 432h2v4h-2zM438 434h22v2h-22zM360 434h24v2h-24zM424 434h10v2h-10zM352 432h2v6h-2zM470 434h20v4h-20zM498 434h4v4h-4zM506 434h24v4h-24zM416 436h4v2h-4zM438 436h24v2h-24zM422 436h12v2h-12zM358 436h8v2h-8zM374 436h10v4h-10zM368 436h4v4h-4zM388 436h12v4h-12zM422 438h10v2h-10zM358 438h6v2h-6zM454 438h8v2h-8zM416 438h2v2h-2zM498 438h2v2h-2zM470 438h22v2h-22zM438 438h14v2h-14zM516 438h14v4h-14zM416 440h4v2h-4zM362 440h2v2h-2zM440 440h22v2h-22zM424 440h8v2h-8zM404 432h8v12h-8zM368 440h12v4h-12zM390 440h10v4h-10zM472 440h20v4h-20zM418 442h14v2h-14zM440 442h24v2h-24zM362 442h4v2h-4zM518 442h12v4h-12zM498 444h4v2h-4zM472 444h22v2h-22zM392 444h8v2h-8zM404 444h6v2h-6zM442 444h22v2h-22zM506 438h8v10h-8zM358 440h2v8h-2zM362 444h2v4h-2zM366 444h12v4h-12zM516 446h14v2h-14zM394 446h2v2h-2zM418 444h8v6h-8zM444 446h20v4h-20zM406 446h4v4h-4zM472 446h30v4h-30zM428 444h2v8h-2zM506 448h24v4h-24zM406 450h2v2h-2zM472 450h16v2h-16zM448 450h8v2h-8zM356 448h22v6h-22zM460 450h4v4h-4zM492 450h12v4h-12zM508 452h4v2h-4zM474 452h14v2h-14zM430 452h4v2h-4zM420 450h4v6h-4zM516 452h14v4h-14zM444 452h14v4h-14zM428 454h8v2h-8zM438 454h4v2h-4zM352 454h2v2h-2zM492 454h22v2h-22zM460 454h6v2h-6zM476 454h12v2h-12zM356 454h14v2h-14zM480 456h8v2h-8zM522 456h6v2h-6zM492 456h14v2h-14zM510 456h10v2h-10zM400 456h2v2h-2zM420 456h46v2h-46zM374 454h6v6h-6zM352 456h18v4h-18zM418 458h40v2h-40zM480 458h6v2h-6zM490 458h16v2h-16zM516 458h6v2h-6zM510 458h4v2h-4zM466 458h2v4h-2zM460 458h4v4h-4zM524 458h4v4h-4zM398 458h4v4h-4zM518 460h2v2h-2zM480 460h8v2h-8zM490 460h8v2h-8zM418 460h12v2h-12zM394 460h2v2h-2zM352 460h28v2h-28zM432 460h26v2h-26zM502 460h4v4h-4zM392 462h6v2h-6zM362 462h18v2h-18zM418 462h8v2h-8zM516 462h12v2h-12zM386 462h2v2h-2zM438 462h32v2h-32zM480 462h16v4h-16zM352 462h6v4h-6zM392 464h10v2h-10zM386 464h4v2h-4zM442 464h28v2h-28zM514 464h14v2h-14zM416 464h10v2h-10zM362 464h20v2h-20zM510 466h2v2h-2zM348 466h2v2h-2zM516 466h12v2h-12zM448 466h22v2h-22zM384 466h20v2h-20zM504 464h4v6h-4zM356 466h4v4h-4zM482 466h16v4h-16zM518 468h10v2h-10zM448 468h20v2h-20zM510 468h4v2h-4zM412 466h16v6h-16zM364 466h18v6h-18zM386 468h18v4h-18zM406 468h4v4h-4zM484 470h14v2h-14zM450 470h18v2h-18zM504 470h12v2h-12zM348 468h4v6h-4zM522 470h4v4h-4zM454 472h8v2h-8zM364 472h46v2h-46zM420 472h10v2h-10zM412 472h6v2h-6zM502 472h16v4h-16zM464 472h6v4h-6zM394 474h22v2h-22zM420 474h6v2h-6zM486 472h14v6h-14zM366 474h26v4h-26zM348 474h2v4h-2zM428 474h2v4h-2zM356 474h2v4h-2zM524 474h2v4h-2zM466 476h6v2h-6zM396 476h18v4h-18zM484 478h16v2h-16zM470 478h2v2h-2zM376 478h14v2h-14zM368 478h6v2h-6zM504 476h14v6h-14zM422 476h2v6h-2zM482 480h10v2h-10zM396 480h14v2h-14zM494 480h6v2h-6zM378 480h12v2h-12zM528 480h2v2h-2zM412 480h2v2h-2zM368 480h4v4h-4zM382 482h8v2h-8zM422 482h4v2h-4zM478 482h12v2h-12zM524 482h6v2h-6zM396 482h18v4h-18zM494 482h22v4h-22zM370 484h2v2h-2zM432 484h6v2h-6zM478 484h10v2h-10zM522 484h8v2h-8zM382 484h6v2h-6zM420 484h6v2h-6zM470 480h4v8h-4zM396 486h12v2h-12zM382 486h4v2h-4zM416 486h12v2h-12zM430 486h8v2h-8zM410 486h4v2h-4zM498 486h32v2h-32zM476 486h12v2h-12zM470 488h16v2h-16zM398 488h40v2h-40zM442 486h2v6h-2zM498 488h28v4h-28zM384 488h2v4h-2zM470 490h20v2h-20zM400 490h40v2h-40zM518 492h2v2h-2zM404 492h40v2h-40zM514 492h2v2h-2zM484 492h8v2h-8zM494 492h14v4h-14zM460 494h4v2h-4zM486 494h6v2h-6zM374 494h2v2h-2zM468 492h14v6h-14zM404 494h42v4h-42zM458 496h6v2h-6zM486 496h22v2h-22zM452 496h2v2h-2zM470 498h20v2h-20zM452 498h16v2h-16zM492 498h14v2h-14zM406 498h40v2h-40zM504 500h2v2h-2zM452 500h38v2h-38zM492 500h10v2h-10zM362 498h8v6h-8zM406 500h42v4h-42zM452 502h48v2h-48zM362 504h6v2h-6zM478 504h2v2h-2zM464 504h4v2h-4zM406 504h50v2h-50zM486 504h4v2h-4zM472 504h2v2h-2zM458 504h4v2h-4zM408 506h54v2h-54zM360 506h8v4h-8zM422 508h44v2h-44zM456 510h8v2h-8zM362 510h4v2h-4zM422 510h30v2h-30zM412 508h8v6h-8zM422 512h28v2h-28zM458 512h4v2h-4zM358 512h8v4h-8zM434 514h16v2h-16zM458 514h2v2h-2zM420 514h12v2h-12zM412 514h6v2h-6zM356 516h8v2h-8zM414 516h18v2h-18zM446 516h4v4h-4zM412 518h20v2h-20zM384 518h2v2h-2zM436 516h6v6h-6zM408 520h16v2h-16zM394 520h2v2h-2zM394 522h4v2h-4zM404 522h20v2h-20zM426 520h6v6h-6zM394 524h2v2h-2zM434 524h6v2h-6zM356 518h10v10h-10zM426 526h16v2h-16zM402 524h20v6h-20zM394 526h4v4h-4zM354 528h12v2h-12zM438 528h4v2h-4zM426 528h8v2h-8zM386 528h2v2h-2z"/>
<path fill="#30c018" d="M318 0h2v2h-2zM392 0h2v2h-2zM408 0h4v2h-4zM294 0h2v4h-2zM250 0h14v4h-14zM356 0h4v6h-4zM408 2h6v4h-6zM392 4h2v2h-2zM316 2h4v6h-4zM248 4h4v4h-4zM356 6h2v2h-2zM266 0h8v10h-8zM254 4h10v6h-10zM282 8h2v2h-2zM316 8h2v2h-2zM316 10h4v2h-4zM250 8h2v6h-2zM302 12h2v2h-2zM294 12h4v2h-4zM254 10h20v6h-20zM398 12h2v4h-2zM300 14h4v4h-4zM250 16h24v2h-24zM294 18h12v2h-12zM408 6h4v16h-4zM348 20h2v2h-2zM310 16h2v8h-2zM294 20h14v4h-14zM450 20h4v4h-4zM250 18h14v8h-14zM266 18h8v10h-8zM420 22h2v6h-2zM450 24h6v4h-6zM294 24h10v4h-10zM400 26h2v2h-2zM248 26h14v2h-14zM442 20h2v10h-2zM250 28h8v2h-8zM450 28h4v2h-4zM420 28h4v2h-4zM292 28h12v4h-12zM328 28h2v4h-2zM250 30h12v2h-12zM420 30h2v2h-2zM292 32h10v2h-10zM260 32h2v2h-2zM252 32h4v2h-4zM406 22h6v14h-6zM448 30h6v6h-6zM400 32h2v4h-2zM440 32h4v4h-4zM292 34h12v4h-12zM440 36h20v2h-20zM306 24h6v16h-6zM250 34h6v6h-6zM378 34h2v6h-2zM424 36h4v4h-4zM440 38h18v2h-18zM294 38h4v2h-4zM268 28h6v14h-6zM326 32h4v10h-4zM406 36h4v6h-4zM400 38h2v4h-2zM374 38h2v4h-2zM294 40h2v2h-2zM438 40h20v2h-20zM284 40h2v2h-2zM308 40h4v2h-4zM248 40h8v4h-8zM326 42h6v2h-6zM438 42h18v2h-18zM260 42h2v2h-2zM406 42h2v4h-2zM268 42h8v4h-8zM436 44h20v2h-20zM248 44h10v2h-10zM260 44h4v2h-4zM328 44h4v2h-4zM282 42h6v6h-6zM420 44h2v4h-2zM436 46h18v2h-18zM414 46h2v2h-2zM328 46h2v2h-2zM386 46h4v2h-4zM424 40h6v10h-6zM306 42h8v8h-8zM294 46h2v4h-2zM250 46h26v4h-26zM300 48h2v2h-2zM436 48h20v2h-20zM280 48h12v2h-12zM400 50h2v2h-2zM424 50h4v2h-4zM436 50h22v2h-22zM298 50h4v2h-4zM250 50h46v2h-46zM306 50h6v2h-6zM406 50h2v4h-2zM398 52h2v2h-2zM436 52h24v2h-24zM250 52h52v2h-52zM426 52h2v2h-2zM342 52h2v2h-2zM426 54h4v2h-4zM340 54h4v2h-4zM396 54h4v2h-4zM436 54h18v2h-18zM250 54h32v2h-32zM418 56h4v2h-4zM320 56h2v2h-2zM396 56h6v2h-6zM424 56h6v2h-6zM274 56h8v2h-8zM306 52h8v8h-8zM248 56h24v4h-24zM434 56h20v4h-20zM418 58h12v2h-12zM318 58h6v2h-6zM398 58h4v2h-4zM276 58h4v2h-4zM284 54h20v8h-20zM426 60h4v2h-4zM432 60h22v2h-22zM374 60h2v2h-2zM306 60h4v2h-4zM418 60h6v2h-6zM312 60h12v4h-12zM248 60h20v4h-20zM284 62h26v2h-26zM416 62h6v2h-6zM426 62h28v2h-28zM278 62h2v2h-2zM396 60h6v6h-6zM426 64h4v2h-4zM390 64h2v2h-2zM288 64h22v2h-22zM312 64h2v2h-2zM366 64h2v2h-2zM410 64h2v2h-2zM362 64h2v2h-2zM416 64h4v2h-4zM458 54h2v14h-2zM250 64h18v4h-18zM278 64h8v4h-8zM230 64h2v4h-2zM432 64h22v4h-22zM316 64h8v4h-8zM404 66h16v2h-16zM396 66h4v2h-4zM362 66h8v2h-8zM426 66h2v2h-2zM390 66h4v2h-4zM290 66h24v2h-24zM450 68h10v2h-10zM318 68h6v2h-6zM300 68h14v2h-14zM364 68h6v2h-6zM404 68h24v2h-24zM396 68h6v2h-6zM390 68h2v4h-2zM250 68h4v4h-4zM260 68h8v4h-8zM302 70h14v2h-14zM408 70h22v2h-22zM278 68h20v6h-20zM262 72h8v2h-8zM410 72h18v2h-18zM304 72h2v2h-2zM390 72h4v2h-4zM432 68h14v8h-14zM396 70h10v6h-10zM448 70h12v6h-12zM308 72h6v4h-6zM416 74h12v2h-12zM280 74h18v2h-18zM320 70h4v8h-4zM410 74h2v4h-2zM384 74h10v4h-10zM260 74h10v4h-10zM278 76h20v2h-20zM416 76h10v2h-10zM310 76h4v2h-4zM432 76h28v2h-28zM302 74h4v6h-4zM308 78h6v2h-6zM260 78h8v2h-8zM432 78h26v2h-26zM410 78h16v2h-16zM280 78h6v2h-6zM398 76h8v6h-8zM334 76h2v6h-2zM320 78h8v4h-8zM434 80h24v2h-24zM260 80h6v2h-6zM302 80h12v2h-12zM296 78h2v6h-2zM290 78h4v6h-4zM400 82h6v2h-6zM322 82h6v2h-6zM300 82h12v2h-12zM348 82h4v2h-4zM412 80h14v6h-14zM434 82h22v4h-22zM402 84h4v2h-4zM412 86h12v2h-12zM404 86h2v2h-2zM348 86h4v2h-4zM386 78h6v12h-6zM322 84h8v6h-8zM290 84h8v6h-8zM314 86h4v4h-4zM434 86h16v4h-16zM412 88h4v2h-4zM420 88h2v2h-2zM280 80h4v12h-4zM302 84h8v8h-8zM402 88h4v4h-4zM312 90h6v2h-6zM412 90h6v2h-6zM324 90h2v2h-2zM386 90h4v2h-4zM290 90h6v4h-6zM392 90h2v4h-2zM432 90h20v4h-20zM302 92h16v2h-16zM412 92h4v2h-4zM400 92h6v2h-6zM386 92h2v4h-2zM278 92h6v4h-6zM392 94h4v2h-4zM348 94h2v2h-2zM290 94h8v4h-8zM410 94h6v4h-6zM392 96h2v2h-2zM300 94h20v6h-20zM400 94h8v6h-8zM280 96h4v4h-4zM348 96h4v4h-4zM410 98h8v2h-8zM420 94h4v8h-4zM414 100h4v2h-4zM314 100h6v2h-6zM282 100h2v2h-2zM432 94h22v10h-22zM288 98h8v6h-8zM400 100h12v4h-12zM414 102h12v2h-12zM312 102h8v2h-8zM392 98h4v8h-4zM300 100h6v6h-6zM288 104h4v2h-4zM398 104h14v2h-14zM430 104h24v2h-24zM414 104h14v2h-14zM314 104h6v4h-6zM386 106h2v2h-2zM392 106h20v2h-20zM284 106h6v2h-6zM298 106h12v2h-12zM414 106h42v4h-42zM284 108h8v2h-8zM406 108h6v2h-6zM392 108h8v2h-8zM304 108h6v2h-6zM298 108h4v2h-4zM312 108h8v2h-8zM300 110h2v2h-2zM414 110h34v2h-34zM406 110h4v2h-4zM304 110h4v2h-4zM288 110h4v4h-4zM314 110h6v4h-6zM452 110h4v4h-4zM416 112h32v2h-32zM300 112h8v2h-8zM336 108h4v8h-4zM296 114h2v2h-2zM300 114h6v2h-6zM288 114h2v2h-2zM384 108h4v10h-4zM346 116h2v2h-2zM288 116h8v2h-8zM298 116h8v2h-8zM314 114h4v6h-4zM282 114h4v6h-4zM338 116h2v4h-2zM300 118h4v2h-4zM384 118h6v2h-6zM416 114h34v8h-34zM288 118h4v4h-4zM298 120h6v2h-6zM314 120h2v2h-2zM384 120h2v2h-2zM324 120h2v2h-2zM388 120h2v2h-2zM362 122h4v2h-4zM414 122h36v2h-36zM298 122h8v2h-8zM372 122h2v2h-2zM392 110h6v16h-6zM336 120h4v6h-4zM452 120h4v6h-4zM314 122h4v4h-4zM290 122h4v4h-4zM322 122h4v4h-4zM372 124h6v2h-6zM414 124h32v2h-32zM298 124h10v2h-10zM344 118h4v10h-4zM354 124h8v4h-8zM336 126h6v2h-6zM412 126h34v2h-34zM452 126h6v2h-6zM312 126h14v2h-14zM394 126h4v2h-4zM292 126h18v2h-18zM366 124h2v6h-2zM370 126h10v4h-10zM334 128h14v2h-14zM358 128h4v2h-4zM428 128h18v2h-18zM454 128h4v2h-4zM412 128h14v2h-14zM328 128h2v2h-2zM354 128h2v4h-2zM294 128h32v4h-32zM442 130h2v2h-2zM360 130h6v2h-6zM412 130h12v2h-12zM370 130h8v2h-8zM328 130h4v2h-4zM404 130h6v2h-6zM384 122h4v12h-4zM396 128h2v6h-2zM338 130h10v4h-10zM454 130h6v4h-6zM334 130h2v4h-2zM360 132h2v2h-2zM404 132h10v2h-10zM416 132h8v2h-8zM304 132h8v2h-8zM370 132h10v2h-10zM352 132h4v4h-4zM294 132h8v4h-8zM314 132h18v4h-18zM370 134h8v2h-8zM396 134h4v2h-4zM358 134h4v2h-4zM402 134h12v2h-12zM452 134h8v2h-8zM418 134h6v2h-6zM306 134h6v2h-6zM398 136h6v2h-6zM352 136h10v2h-10zM420 136h4v2h-4zM316 136h14v2h-14zM308 136h4v2h-4zM452 136h12v2h-12zM334 134h14v6h-14zM300 136h2v4h-2zM310 138h2v2h-2zM358 138h4v2h-4zM318 138h14v2h-14zM442 138h22v2h-22zM352 138h4v2h-4zM410 136h2v6h-2zM370 136h10v6h-10zM456 140h8v2h-8zM316 140h32v2h-32zM360 140h2v4h-2zM454 142h8v2h-8zM372 142h6v2h-6zM384 134h2v12h-2zM350 140h6v6h-6zM316 142h28v4h-28zM444 144h18v2h-18zM372 144h2v2h-2zM326 146h20v2h-20zM480 146h2v2h-2zM348 146h14v2h-14zM316 146h8v2h-8zM398 138h4v12h-4zM452 146h10v4h-10zM316 148h6v2h-6zM464 146h8v6h-8zM328 148h32v4h-32zM450 150h12v2h-12zM316 150h4v4h-4zM458 152h14v2h-14zM328 152h12v2h-12zM452 152h4v2h-4zM342 152h4v4h-4zM348 152h10v4h-10zM320 154h2v2h-2zM326 154h14v2h-14zM460 154h12v2h-12zM316 154h2v2h-2zM314 156h4v2h-4zM462 156h6v2h-6zM342 156h14v2h-14zM336 156h4v2h-4zM322 156h12v4h-12zM336 158h20v2h-20zM380 158h2v2h-2zM322 160h34v2h-34zM354 162h2v2h-2zM334 162h18v2h-18zM322 162h10v4h-10zM336 164h16v2h-16zM302 162h4v6h-4zM336 166h18v2h-18zM326 166h6v2h-6zM322 166h2v2h-2zM378 160h2v10h-2zM336 168h20v2h-20zM316 158h2v14h-2zM406 166h2v6h-2zM370 168h2v4h-2zM378 170h4v2h-4zM338 170h18v4h-18zM368 172h4v2h-4zM362 172h2v2h-2zM380 172h2v2h-2zM398 164h4v12h-4zM362 174h4v2h-4zM346 174h10v2h-10zM322 168h12v10h-12zM314 172h4v6h-4zM368 174h6v6h-6zM338 174h4v6h-4zM346 176h20v4h-20zM314 178h18v4h-18zM346 180h6v2h-6zM336 180h8v2h-8zM354 180h20v4h-20zM336 182h14v2h-14zM316 182h16v4h-16zM368 184h6v2h-6zM354 184h12v2h-12zM344 184h6v2h-6zM336 184h6v4h-6zM316 186h10v2h-10zM370 186h4v2h-4zM356 186h10v2h-10zM344 186h8v2h-8zM328 186h4v2h-4zM318 188h14v2h-14zM338 188h4v2h-4zM344 188h6v2h-6zM320 190h12v2h-12zM356 188h20v6h-20zM338 190h12v4h-12zM322 192h10v2h-10zM320 194h12v2h-12zM308 194h2v2h-2zM334 194h16v2h-16zM354 194h24v2h-24zM306 196h4v2h-4zM320 196h22v2h-22zM344 196h6v2h-6zM356 196h26v4h-26zM322 198h20v2h-20zM344 198h8v2h-8zM308 198h2v4h-2zM342 200h10v2h-10zM366 200h2v2h-2zM388 200h4v4h-4zM376 200h8v4h-8zM356 200h8v4h-8zM322 200h10v4h-10zM334 200h6v4h-6zM396 202h2v2h-2zM342 202h12v2h-12zM402 202h2v2h-2zM372 202h2v2h-2zM344 204h10v2h-10zM390 204h2v2h-2zM322 204h16v2h-16zM356 204h6v2h-6zM372 204h12v2h-12zM342 206h14v2h-14zM358 206h4v2h-4zM398 206h4v2h-4zM376 206h6v2h-6zM372 206h2v2h-2zM322 206h14v4h-14zM342 208h18v2h-18zM372 208h12v2h-12zM372 210h10v2h-10zM342 210h8v2h-8zM352 210h8v2h-8zM342 212h14v2h-14zM370 212h12v2h-12zM344 214h12v2h-12zM370 214h8v4h-8zM346 216h10v2h-10zM308 210h2v10h-2zM322 210h12v10h-12zM368 218h10v2h-10zM348 218h8v2h-8zM358 212h2v10h-2zM320 220h12v2h-12zM354 220h2v2h-2zM372 220h6v2h-6zM318 222h14v2h-14zM368 220h2v6h-2zM354 222h6v4h-6zM316 224h16v4h-16zM358 226h4v2h-4zM348 220h2v10h-2zM306 220h4v10h-4zM366 226h2v4h-2zM316 228h6v2h-6zM358 228h6v2h-6zM324 228h8v4h-8zM314 230h8v2h-8zM374 222h4v12h-4zM354 226h2v8h-2zM358 230h10v4h-10zM346 230h4v4h-4zM318 232h12v2h-12zM304 230h6v6h-6zM318 234h4v2h-4zM372 234h6v4h-6zM316 236h6v2h-6zM306 236h2v2h-2zM354 234h14v6h-14zM374 238h4v2h-4zM318 238h4v2h-4zM324 234h6v8h-6zM316 240h6v2h-6zM362 240h4v2h-4zM372 240h6v2h-6zM354 240h6v4h-6zM304 240h4v4h-4zM372 242h4v2h-4zM306 244h4v2h-4zM342 234h6v14h-6zM354 244h4v4h-4zM306 246h6v2h-6zM316 242h14v8h-14zM306 248h4v2h-4zM360 248h4v2h-4zM336 244h4v8h-4zM342 248h8v4h-8zM352 248h4v4h-4zM362 250h2v2h-2zM320 250h10v4h-10zM306 250h2v4h-2zM350 252h4v2h-4zM334 252h6v2h-6zM342 252h6v2h-6zM322 254h10v4h-10zM334 254h20v4h-20zM306 254h6v6h-6zM338 258h2v2h-2zM342 258h12v2h-12zM362 258h2v4h-2zM340 260h14v2h-14zM324 258h8v6h-8zM334 258h2v6h-2zM338 262h12v2h-12zM324 264h26v2h-26zM306 260h2v8h-2zM324 266h20v2h-20zM352 262h2v8h-2zM348 266h2v4h-2zM336 268h8v4h-8zM348 270h4v2h-4zM324 268h8v6h-8zM334 272h10v2h-10zM324 274h20v2h-20zM322 276h12v2h-12zM322 278h10v2h-10zM328 280h4v2h-4zM330 282h2v2h-2zM336 276h8v10h-8zM322 280h2v6h-2zM328 284h4v2h-4zM350 272h2v16h-2zM338 286h6v4h-6zM320 286h4v4h-4zM330 286h4v4h-4zM348 288h4v2h-4zM336 290h18v2h-18zM356 290h2v2h-2zM328 290h6v4h-6zM336 292h6v2h-6zM344 292h14v4h-14zM322 290h2v8h-2zM338 294h4v6h-4zM330 294h4v6h-4zM344 296h16v4h-16zM364 296h4v4h-4zM350 300h10v2h-10zM336 300h6v4h-6zM330 300h2v4h-2zM344 300h4v6h-4zM350 302h4v4h-4zM356 302h4v4h-4zM330 304h10v2h-10zM366 300h2v8h-2zM350 306h8v2h-8zM344 306h2v4h-2zM454 308h2v2h-2zM350 308h10v2h-10zM344 310h18v2h-18zM452 310h2v2h-2zM456 310h2v2h-2zM332 310h2v2h-2zM336 306h4v8h-4zM330 312h4v2h-4zM344 312h16v4h-16zM330 314h10v2h-10zM328 316h12v2h-12zM342 316h16v4h-16zM326 318h14v2h-14zM326 320h12v2h-12zM342 320h14v2h-14zM326 322h10v2h-10zM342 322h12v4h-12zM326 324h14v2h-14zM326 326h12v2h-12zM342 326h14v2h-14zM326 328h10v2h-10zM342 328h12v2h-12zM334 330h4v2h-4zM328 330h4v4h-4zM362 332h2v2h-2zM328 334h2v2h-2zM342 330h14v8h-14zM370 330h2v12h-2zM342 338h16v4h-16zM336 338h2v4h-2zM442 340h2v2h-2zM436 340h2v2h-2zM336 342h4v2h-4zM342 342h14v4h-14zM334 344h6v4h-6zM398 348h2v2h-2zM406 348h2v2h-2zM342 346h16v6h-16zM336 348h4v6h-4zM396 350h2v4h-2zM342 352h18v2h-18zM416 354h2v2h-2zM420 354h2v2h-2zM334 354h6v2h-6zM342 354h2v2h-2zM348 354h12v4h-12zM390 356h2v2h-2zM334 356h4v2h-4zM404 350h4v10h-4zM364 350h4v10h-4zM414 356h4v4h-4zM396 356h2v4h-2zM348 358h10v2h-10zM332 358h6v2h-6zM424 356h4v6h-4zM330 360h8v2h-8zM396 360h4v2h-4zM364 360h6v2h-6zM402 360h6v2h-6zM350 360h10v4h-10zM364 362h2v2h-2zM398 362h10v2h-10zM330 362h6v2h-6zM368 362h4v2h-4zM352 364h14v2h-14zM370 364h2v2h-2zM400 364h8v2h-8zM330 364h4v4h-4zM400 366h6v2h-6zM402 368h4v2h-4zM414 368h6v2h-6zM390 360h2v12h-2zM422 370h2v2h-2zM330 370h2v2h-2zM414 370h2v2h-2zM364 366h2v8h-2zM352 366h10v8h-10zM416 372h2v2h-2zM424 372h2v2h-2zM330 372h4v4h-4zM370 374h4v2h-4zM418 374h2v2h-2zM426 374h2v2h-2zM350 374h12v2h-12zM364 374h4v2h-4zM428 376h2v2h-2zM350 376h4v2h-4zM356 376h6v2h-6zM420 376h2v2h-2zM364 376h8v2h-8zM342 376h2v2h-2zM446 376h2v4h-2zM454 376h2v4h-2zM330 376h6v4h-6zM390 378h2v2h-2zM418 378h12v2h-12zM356 378h12v2h-12zM330 380h8v2h-8zM358 380h4v2h-4zM418 380h10v2h-10zM340 378h12v6h-12zM360 382h2v2h-2zM370 378h2v8h-2zM332 382h6v4h-6zM340 384h14v2h-14zM358 384h6v2h-6zM416 382h12v6h-12zM360 386h2v2h-2zM400 384h2v6h-2zM436 386h2v4h-2zM404 386h2v4h-2zM426 388h2v2h-2zM330 386h24v6h-24zM412 388h12v4h-12zM370 388h4v4h-4zM460 388h2v4h-2zM464 388h2v4h-2zM400 390h6v4h-6zM462 392h2v2h-2zM336 392h18v2h-18zM370 392h8v2h-8zM416 392h6v2h-6zM330 392h4v2h-4zM338 394h16v2h-16zM370 394h10v2h-10zM418 394h4v4h-4zM404 394h2v4h-2zM398 394h4v4h-4zM490 396h2v2h-2zM366 396h14v2h-14zM340 396h14v2h-14zM412 392h2v8h-2zM328 394h6v6h-6zM320 396h2v4h-2zM340 398h8v2h-8zM386 398h2v2h-2zM398 398h8v2h-8zM368 398h12v2h-12zM486 398h2v2h-2zM350 398h6v4h-6zM368 400h14v2h-14zM490 400h2v2h-2zM396 400h8v2h-8zM342 400h6v2h-6zM332 400h2v2h-2zM328 400h2v4h-2zM332 402h4v2h-4zM342 402h14v2h-14zM378 402h4v2h-4zM394 402h8v2h-8zM366 402h10v4h-10zM358 404h4v2h-4zM378 404h8v2h-8zM344 404h12v2h-12zM380 406h6v2h-6zM328 404h8v6h-8zM344 406h18v6h-18zM366 406h2v6h-2zM380 408h8v4h-8zM392 404h10v10h-10zM330 410h6v4h-6zM380 412h6v4h-6zM392 414h12v2h-12zM330 414h4v2h-4zM366 412h4v6h-4zM380 416h4v2h-4zM392 416h10v2h-10zM372 406h2v14h-2zM366 418h2v2h-2zM394 418h10v2h-10zM336 418h4v2h-4zM378 418h6v2h-6zM344 412h2v10h-2zM336 420h6v2h-6zM378 420h4v2h-4zM398 420h4v2h-4zM330 420h4v2h-4zM348 412h12v12h-12zM374 420h2v4h-2zM378 422h2v2h-2zM366 420h4v6h-4zM330 422h16v4h-16zM460 424h2v2h-2zM456 424h2v2h-2zM348 424h14v2h-14zM374 424h6v2h-6zM398 422h2v6h-2zM462 426h2v2h-2zM336 426h10v2h-10zM454 426h2v2h-2zM330 426h4v2h-4zM376 426h2v4h-2zM456 428h2v2h-2zM332 428h2v2h-2zM348 426h12v6h-12zM338 428h8v4h-8zM366 426h2v8h-2zM458 430h2v4h-2zM466 430h2v4h-2zM338 432h14v2h-14zM420 432h2v2h-2zM354 432h6v4h-6zM460 434h2v2h-2zM468 434h2v2h-2zM420 434h4v2h-4zM344 434h8v4h-8zM366 436h2v2h-2zM420 436h2v2h-2zM354 436h4v2h-4zM338 434h4v6h-4zM418 438h4v2h-4zM452 438h2v2h-2zM346 438h12v2h-12zM364 438h4v4h-4zM462 440h2v2h-2zM338 440h2v2h-2zM346 440h2v2h-2zM470 440h2v2h-2zM420 440h4v2h-4zM366 442h2v2h-2zM314 442h2v4h-2zM352 440h6v8h-6zM360 440h2v8h-2zM364 444h2v4h-2zM352 448h4v2h-4zM350 450h6v4h-6zM464 452h2v2h-2zM354 454h2v2h-2zM474 454h2v2h-2zM488 450h4v8h-4zM466 454h2v4h-2zM476 456h4v2h-4zM370 454h4v6h-4zM486 458h4v2h-4zM478 458h2v4h-2zM308 460h2v2h-2zM488 460h2v2h-2zM468 460h2v2h-2zM430 460h2v2h-2zM348 454h4v10h-4zM426 462h12v2h-12zM358 462h4v4h-4zM426 464h4v2h-4zM346 464h6v2h-6zM438 464h4v2h-4zM306 462h6v6h-6zM442 466h6v2h-6zM470 466h2v2h-2zM350 466h6v2h-6zM428 466h2v4h-2zM480 466h2v4h-2zM360 466h4v4h-4zM446 468h2v2h-2zM352 468h4v2h-4zM468 468h2v4h-2zM308 468h4v4h-4zM482 470h2v2h-2zM428 470h4v2h-4zM448 470h2v2h-2zM352 470h12v4h-12zM462 472h2v2h-2zM430 472h4v2h-4zM418 472h2v2h-2zM450 472h4v2h-4zM470 472h2v4h-2zM426 474h2v2h-2zM454 474h10v2h-10zM392 474h2v2h-2zM416 474h4v2h-4zM346 466h2v12h-2zM484 472h2v6h-2zM430 474h8v4h-8zM358 474h8v4h-8zM350 474h6v4h-6zM392 476h4v2h-4zM424 476h4v2h-4zM456 476h10v2h-10zM472 476h2v4h-2zM374 478h2v2h-2zM482 478h2v2h-2zM332 478h2v2h-2zM458 478h12v2h-12zM424 478h16v2h-16zM474 480h8v2h-8zM326 480h2v2h-2zM462 480h8v2h-8zM424 480h20v2h-20zM492 480h2v2h-2zM372 480h6v2h-6zM414 476h8v8h-8zM390 478h6v6h-6zM346 478h22v6h-22zM426 482h20v2h-20zM490 482h4v2h-4zM372 482h10v4h-10zM474 482h4v4h-4zM346 484h24v2h-24zM438 484h12v2h-12zM488 484h6v2h-6zM388 484h8v2h-8zM426 484h6v2h-6zM414 484h6v2h-6zM428 486h2v2h-2zM488 486h10v2h-10zM386 486h10v2h-10zM346 486h14v2h-14zM474 486h2v2h-2zM362 486h20v2h-20zM414 486h2v2h-2zM444 486h8v2h-8zM464 482h6v8h-6zM438 486h4v4h-4zM386 488h12v2h-12zM444 488h10v2h-10zM348 488h10v2h-10zM486 488h12v2h-12zM362 488h22v4h-22zM526 488h4v4h-4zM386 490h14v2h-14zM444 490h26v2h-26zM490 490h8v2h-8zM440 490h2v2h-2zM310 472h2v22h-2zM350 490h6v4h-6zM360 492h28v2h-28zM444 492h24v2h-24zM390 492h14v2h-14zM508 492h6v2h-6zM516 492h2v2h-2zM482 492h2v2h-2zM520 492h10v2h-10zM492 492h2v4h-2zM360 494h14v2h-14zM376 494h12v2h-12zM392 494h12v2h-12zM446 494h14v2h-14zM464 494h4v4h-4zM482 494h4v4h-4zM508 494h22v4h-22zM358 496h28v2h-28zM394 496h10v2h-10zM454 496h4v2h-4zM446 496h6v4h-6zM468 498h2v2h-2zM398 498h8v2h-8zM352 494h4v8h-4zM506 498h24v4h-24zM358 498h4v4h-4zM490 498h2v4h-2zM502 500h2v2h-2zM400 500h6v2h-6zM370 498h16v6h-16zM448 500h4v4h-4zM500 502h30v2h-30zM352 502h10v4h-10zM402 502h4v4h-4zM462 504h2v2h-2zM480 504h6v2h-6zM474 504h4v2h-4zM490 504h20v2h-20zM456 504h2v2h-2zM468 504h4v2h-4zM514 504h16v2h-16zM368 504h20v4h-20zM404 506h4v2h-4zM352 506h8v2h-8zM516 506h10v2h-10zM462 506h46v2h-46zM346 508h2v2h-2zM466 508h40v2h-40zM518 508h8v2h-8zM368 508h12v2h-12zM350 508h10v2h-10zM404 508h8v4h-8zM382 508h6v4h-6zM524 510h2v2h-2zM452 510h4v2h-4zM346 510h16v2h-16zM464 510h44v2h-44zM338 510h2v4h-2zM376 510h4v4h-4zM382 512h8v2h-8zM462 512h22v2h-22zM486 512h22v2h-22zM522 512h4v2h-4zM346 512h12v2h-12zM366 510h6v6h-6zM406 512h6v4h-6zM450 512h8v4h-8zM460 514h16v2h-16zM488 514h2v2h-2zM502 514h6v2h-6zM492 514h8v2h-8zM480 514h4v2h-4zM342 514h16v2h-16zM432 514h2v2h-2zM376 514h14v2h-14zM524 514h2v4h-2zM450 516h24v2h-24zM394 516h2v2h-2zM504 516h4v2h-4zM406 516h8v2h-8zM364 516h26v2h-26zM442 516h4v4h-4zM348 516h8v4h-8zM404 518h8v2h-8zM468 518h6v2h-6zM386 518h14v2h-14zM366 518h18v2h-18zM450 518h16v2h-16zM432 516h4v6h-4zM344 516h2v6h-2zM442 520h10v2h-10zM470 520h4v2h-4zM396 520h12v2h-12zM424 520h2v4h-2zM398 522h6v2h-6zM432 522h20v2h-20zM466 522h2v2h-2zM470 522h6v2h-6zM350 520h6v6h-6zM440 524h12v2h-12zM432 524h2v2h-2zM396 524h6v2h-6zM344 524h2v2h-2zM366 520h28v8h-28zM470 524h4v4h-4zM314 524h2v4h-2zM344 526h12v2h-12zM456 520h6v10h-6zM422 524h4v6h-4zM442 526h10v4h-10zM398 526h4v4h-4zM434 528h4v2h-4zM366 528h8v2h-8zM350 528h4v2h-4zM344 528h4v2h-4zM388 528h6v2h-6zM376 528h10v2h-10zM470 528h6v2h-6z"/>
<path fill="#78d010" d="M222 0h2v2h-2zM226 0h8v2h-8zM238 0h12v4h-12zM98 2h2v2h-2zM220 2h2v2h-2zM226 2h10v2h-10zM220 4h28v2h-28zM98 4h4v2h-4zM218 6h30v2h-30zM282 6h2v2h-2zM98 6h8v2h-8zM98 8h10v2h-10zM94 8h2v2h-2zM96 10h14v2h-14zM252 4h2v10h-2zM218 8h32v6h-32zM108 12h2v2h-2zM96 12h10v4h-10zM108 14h6v2h-6zM218 14h36v2h-36zM218 16h32v2h-32zM106 16h10v2h-10zM220 18h30v2h-30zM106 18h12v2h-12zM348 18h2v2h-2zM350 20h2v2h-2zM218 20h32v2h-32zM98 20h22v4h-22zM210 22h40v4h-40zM100 24h18v2h-18zM102 26h18v2h-18zM216 26h32v2h-32zM216 28h34v2h-34zM104 28h14v2h-14zM102 30h14v2h-14zM240 30h10v2h-10zM212 30h24v2h-24zM214 32h22v2h-22zM102 32h12v2h-12zM238 32h14v2h-14zM216 34h10v2h-10zM104 34h10v2h-10zM230 34h20v2h-20zM216 36h34v2h-34zM106 36h2v2h-2zM218 38h32v2h-32zM218 40h30v2h-30zM220 42h28v2h-28zM218 44h30v2h-30zM216 46h34v2h-34zM248 48h2v2h-2zM216 48h26v4h-26zM212 52h30v2h-30zM96 52h2v4h-2zM248 52h2v4h-2zM454 54h4v2h-4zM214 54h30v2h-30zM282 54h2v4h-2zM272 56h2v2h-2zM454 56h2v2h-2zM272 58h4v2h-4zM280 58h4v2h-4zM268 60h16v2h-16zM214 56h34v8h-34zM280 62h4v2h-4zM310 60h2v6h-2zM454 64h2v2h-2zM232 64h18v4h-18zM214 64h16v4h-16zM454 66h4v2h-4zM214 68h36v2h-36zM446 68h4v2h-4zM268 62h10v10h-10zM254 68h6v4h-6zM212 70h38v2h-38zM270 72h8v2h-8zM212 72h50v2h-50zM446 70h2v6h-2zM306 72h2v4h-2zM270 74h10v2h-10zM214 74h46v2h-46zM214 76h32v2h-32zM306 76h4v2h-4zM248 76h12v2h-12zM270 76h8v2h-8zM268 78h12v2h-12zM286 78h4v2h-4zM306 78h2v2h-2zM216 78h44v2h-44zM266 80h14v2h-14zM224 80h36v2h-36zM294 78h2v6h-2zM224 82h56v2h-56zM222 84h58v6h-58zM226 90h22v2h-22zM250 90h30v2h-30zM226 92h20v2h-20zM250 92h28v4h-28zM234 94h10v2h-10zM284 80h6v18h-6zM240 96h6v2h-6zM252 96h28v4h-28zM240 98h4v2h-4zM284 98h4v4h-4zM252 100h18v2h-18zM272 100h10v2h-10zM272 102h16v4h-16zM412 100h2v10h-2zM250 102h18v8h-18zM272 106h12v4h-12zM400 108h6v2h-6zM302 108h2v4h-2zM410 110h4v2h-4zM398 110h8v2h-8zM252 110h8v2h-8zM262 110h4v2h-4zM272 110h16v4h-16zM252 112h6v2h-6zM264 112h4v2h-4zM292 112h4v2h-4zM398 112h2v4h-2zM406 112h10v4h-10zM290 114h2v2h-2zM264 114h2v2h-2zM254 114h4v4h-4zM272 114h10v4h-10zM286 114h2v6h-2zM274 118h8v2h-8zM408 116h8v6h-8zM262 116h4v6h-4zM274 120h14v2h-14zM386 120h2v2h-2zM408 122h6v4h-6zM274 122h16v4h-16zM362 124h4v2h-4zM272 126h20v2h-20zM406 126h6v2h-6zM272 128h4v2h-4zM278 128h6v2h-6zM288 128h6v2h-6zM362 128h4v2h-4zM404 128h8v2h-8zM398 124h2v8h-2zM290 130h4v2h-4zM410 130h2v2h-2zM402 130h2v2h-2zM264 132h2v2h-2zM302 132h2v2h-2zM398 132h6v2h-6zM292 132h2v4h-2zM282 132h2v4h-2zM312 132h2v4h-2zM302 134h4v2h-4zM400 134h2v2h-2zM264 134h6v4h-6zM312 136h4v2h-4zM302 136h6v2h-6zM292 136h8v4h-8zM312 138h6v2h-6zM302 138h8v2h-8zM452 140h4v2h-4zM274 130h6v14h-6zM442 140h2v4h-2zM452 142h2v2h-2zM266 142h2v2h-2zM276 144h6v2h-6zM286 144h2v2h-2zM292 140h24v8h-24zM284 146h6v2h-6zM324 146h2v2h-2zM276 146h4v2h-4zM322 148h6v2h-6zM276 148h2v6h-2zM282 148h34v6h-34zM320 150h2v4h-2zM322 154h4v2h-4zM280 154h36v2h-36zM340 152h2v6h-2zM280 156h34v2h-34zM334 156h2v4h-2zM278 158h30v4h-30zM332 162h2v2h-2zM278 162h8v2h-8zM290 162h12v4h-12zM280 164h6v2h-6zM306 162h2v6h-2zM332 164h4v4h-4zM292 166h10v2h-10zM324 166h2v2h-2zM380 160h2v10h-2zM334 168h2v2h-2zM310 158h6v14h-6zM282 166h4v8h-4zM292 168h14v6h-14zM294 174h12v2h-12zM334 170h4v8h-4zM294 176h14v2h-14zM342 174h4v6h-4zM282 174h6v6h-6zM332 178h6v2h-6zM298 178h10v2h-10zM310 172h4v10h-4zM282 180h4v2h-4zM344 180h2v2h-2zM296 180h12v2h-12zM352 180h2v2h-2zM294 182h22v2h-22zM282 182h6v2h-6zM350 182h4v4h-4zM282 184h8v2h-8zM332 180h4v8h-4zM296 184h20v4h-20zM286 186h4v2h-4zM352 186h4v2h-4zM342 184h2v6h-2zM294 188h24v2h-24zM288 188h2v4h-2zM294 190h26v2h-26zM332 188h6v6h-6zM350 188h6v6h-6zM294 192h28v2h-28zM288 192h4v4h-4zM294 194h14v2h-14zM332 194h2v2h-2zM350 194h4v2h-4zM310 194h10v4h-10zM294 196h12v2h-12zM350 196h6v2h-6zM286 196h6v2h-6zM342 196h2v4h-2zM286 198h22v2h-22zM352 198h4v4h-4zM310 198h12v4h-12zM294 200h14v2h-14zM368 200h8v2h-8zM364 200h2v2h-2zM332 200h2v4h-2zM340 200h2v4h-2zM288 200h4v4h-4zM374 202h2v2h-2zM364 202h8v2h-8zM398 202h2v2h-2zM354 202h2v4h-2zM294 202h28v4h-28zM402 204h2v2h-2zM396 204h2v2h-2zM286 204h6v2h-6zM338 204h6v2h-6zM366 204h6v4h-6zM362 204h2v4h-2zM286 206h18v2h-18zM374 206h2v2h-2zM306 206h16v2h-16zM222 206h4v2h-4zM228 206h10v2h-10zM356 206h2v2h-2zM336 206h6v4h-6zM286 208h36v2h-36zM220 208h24v2h-24zM368 208h4v4h-4zM220 210h26v2h-26zM334 210h8v4h-8zM218 212h28v2h-28zM236 214h10v2h-10zM220 214h14v2h-14zM334 214h10v2h-10zM286 210h22v8h-22zM368 212h2v6h-2zM238 216h4v2h-4zM334 216h12v2h-12zM244 216h2v2h-2zM310 210h12v10h-12zM334 218h4v2h-4zM292 218h16v2h-16zM340 218h8v2h-8zM356 212h2v10h-2zM310 220h10v2h-10zM292 220h6v2h-6zM360 208h2v16h-2zM332 220h4v4h-4zM310 222h8v2h-8zM366 222h2v4h-2zM292 222h4v4h-4zM360 224h4v2h-4zM292 226h6v2h-6zM362 226h4v2h-4zM302 220h4v10h-4zM342 220h6v10h-6zM310 224h6v6h-6zM294 228h2v2h-2zM364 228h2v2h-2zM332 224h6v8h-6zM294 230h4v2h-4zM340 230h6v2h-6zM310 230h4v2h-4zM356 226h2v8h-2zM330 232h16v2h-16zM302 230h2v6h-2zM292 232h6v4h-6zM310 232h8v4h-8zM286 218h4v20h-4zM302 236h4v2h-4zM308 236h8v2h-8zM294 236h4v4h-4zM302 238h16v2h-16zM330 234h12v8h-12zM308 240h8v4h-8zM294 240h10v4h-10zM334 242h8v2h-8zM330 242h2v4h-2zM310 244h6v2h-6zM294 244h4v2h-4zM334 244h2v2h-2zM312 246h4v2h-4zM302 244h4v6h-4zM310 248h6v2h-6zM330 246h6v6h-6zM340 244h2v10h-2zM308 250h12v4h-12zM304 250h2v4h-2zM330 252h4v2h-4zM296 246h2v10h-2zM312 254h10v4h-10zM288 238h2v22h-2zM302 254h4v6h-4zM296 256h4v4h-4zM340 258h2v2h-2zM312 258h12v2h-12zM296 260h10v2h-10zM332 254h2v10h-2zM308 260h16v8h-16zM302 262h4v6h-4zM296 262h4v8h-4zM350 262h2v8h-2zM302 268h22v4h-22zM332 268h4v4h-4zM332 272h2v2h-2zM304 272h20v2h-20zM304 274h6v2h-6zM318 274h6v2h-6zM312 274h2v2h-2zM334 276h2v2h-2zM304 276h4v4h-4zM414 278h2v4h-2zM306 280h2v2h-2zM324 280h4v2h-4zM320 276h2v8h-2zM324 282h6v2h-6zM332 278h4v8h-4zM318 284h4v2h-4zM324 284h4v2h-4zM334 286h4v4h-4zM324 286h6v4h-6zM318 286h2v4h-2zM334 290h2v4h-2zM324 290h4v4h-4zM318 290h4v8h-4zM324 294h6v4h-6zM334 294h4v6h-4zM342 292h2v12h-2zM332 300h4v4h-4zM316 298h14v8h-14zM348 300h2v6h-2zM354 302h2v4h-2zM346 306h4v4h-4zM316 306h20v4h-20zM316 310h16v2h-16zM334 310h2v4h-2zM454 312h2v2h-2zM340 304h4v12h-4zM316 312h14v4h-14zM316 316h12v2h-12zM340 316h2v4h-2zM338 320h4v2h-4zM336 322h6v2h-6zM340 324h2v2h-2zM338 326h4v2h-4zM316 318h10v12h-10zM336 328h6v2h-6zM338 330h4v2h-4zM332 330h2v2h-2zM318 330h10v4h-10zM332 332h10v2h-10zM320 334h8v2h-8zM330 334h12v2h-12zM320 336h4v2h-4zM326 336h16v2h-16zM338 338h4v4h-4zM438 340h4v2h-4zM326 338h10v6h-10zM436 342h2v2h-2zM442 342h2v2h-2zM326 344h8v4h-8zM398 350h2v2h-2zM328 348h8v6h-8zM340 342h2v14h-2zM344 354h4v2h-4zM396 354h2v2h-2zM322 354h2v4h-2zM328 354h6v4h-6zM398 356h2v4h-2zM338 356h10v4h-10zM328 358h4v2h-4zM322 358h4v2h-4zM348 360h2v2h-2zM338 360h6v2h-6zM366 362h2v2h-2zM336 362h6v2h-6zM366 364h4v2h-4zM312 364h2v2h-2zM322 360h8v8h-8zM334 364h6v4h-6zM366 366h6v2h-6zM322 368h18v2h-18zM370 368h2v4h-2zM332 370h10v2h-10zM322 370h8v2h-8zM416 370h6v2h-6zM350 364h2v10h-2zM312 366h4v8h-4zM366 372h6v2h-6zM334 372h10v4h-10zM368 374h2v2h-2zM348 374h2v2h-2zM320 372h10v6h-10zM312 374h6v4h-6zM426 376h2v2h-2zM422 376h2v2h-2zM344 376h6v2h-6zM336 376h6v2h-6zM452 376h2v4h-2zM336 378h4v2h-4zM312 378h18v4h-18zM320 382h6v2h-6zM338 380h2v6h-2zM312 382h6v4h-6zM328 382h4v4h-4zM320 384h4v2h-4zM310 386h14v2h-14zM302 384h2v6h-2zM312 388h12v4h-12zM328 386h2v8h-2zM300 390h4v4h-4zM310 392h14v2h-14zM334 392h2v2h-2zM334 394h4v2h-4zM326 394h2v2h-2zM308 394h16v2h-16zM308 396h12v2h-12zM334 396h6v2h-6zM488 396h2v2h-2zM322 396h6v4h-6zM490 398h2v2h-2zM314 398h6v2h-6zM308 398h4v2h-4zM334 398h2v4h-2zM340 400h2v2h-2zM314 400h14v2h-14zM308 400h2v2h-2zM488 400h2v2h-2zM376 402h2v2h-2zM312 402h4v4h-4zM342 404h2v4h-2zM374 406h2v2h-2zM318 402h10v8h-10zM308 404h2v8h-2zM312 406h2v8h-2zM336 410h2v4h-2zM306 412h4v2h-4zM318 410h12v6h-12zM312 414h4v2h-4zM334 414h6v2h-6zM308 414h2v2h-2zM378 406h2v12h-2zM318 416h26v2h-26zM306 416h10v2h-10zM374 418h2v2h-2zM318 418h18v2h-18zM340 418h4v2h-4zM334 420h2v2h-2zM342 420h2v2h-2zM318 420h12v2h-12zM376 420h2v4h-2zM320 422h10v2h-10zM290 420h4v6h-4zM318 424h12v2h-12zM458 424h2v2h-2zM320 426h10v2h-10zM334 426h2v2h-2zM460 426h2v2h-2zM306 418h8v12h-8zM292 426h2v4h-2zM464 428h2v2h-2zM334 428h4v2h-4zM320 428h12v2h-12zM296 428h2v2h-2zM458 428h2v2h-2zM320 430h18v2h-18zM306 430h10v2h-10zM318 432h20v2h-20zM308 432h8v4h-8zM318 434h10v2h-10zM330 434h8v2h-8zM292 430h6v8h-6zM342 434h2v4h-2zM468 436h2v4h-2zM310 436h6v4h-6zM324 436h4v4h-4zM342 438h4v2h-4zM462 438h2v2h-2zM332 436h6v6h-6zM292 438h8v4h-8zM302 440h4v2h-4zM340 440h6v2h-6zM348 440h4v2h-4zM310 440h8v2h-8zM310 442h4v2h-4zM322 440h6v6h-6zM332 442h20v4h-20zM316 442h2v4h-2zM302 442h2v4h-2zM308 444h6v2h-6zM290 442h10v6h-10zM464 444h2v4h-2zM302 446h4v2h-4zM334 446h18v2h-18zM308 446h10v4h-10zM344 448h8v2h-8zM290 448h16v2h-16zM334 448h2v2h-2zM338 448h2v2h-2zM470 442h2v10h-2zM320 446h8v6h-8zM288 450h14v2h-14zM346 450h4v4h-4zM304 450h12v4h-12zM472 452h2v2h-2zM288 452h6v2h-6zM324 452h2v2h-2zM296 452h4v2h-4zM320 452h2v4h-2zM290 454h10v2h-10zM474 456h2v2h-2zM304 454h14v6h-14zM290 456h4v4h-4zM296 456h4v4h-4zM476 458h2v2h-2zM310 460h12v2h-12zM290 460h10v2h-10zM302 460h6v2h-6zM346 454h2v10h-2zM334 462h2v2h-2zM288 462h18v2h-18zM338 462h2v2h-2zM478 462h2v4h-2zM430 464h8v2h-8zM470 464h2v2h-2zM332 464h8v2h-8zM312 462h10v6h-10zM290 464h16v4h-16zM344 464h2v4h-2zM440 466h2v2h-2zM332 466h10v2h-10zM430 466h2v4h-2zM288 468h20v2h-20zM442 468h4v2h-4zM332 468h14v2h-14zM316 468h6v2h-6zM470 468h2v4h-2zM284 470h24v2h-24zM316 470h8v2h-8zM432 470h2v2h-2zM480 470h2v2h-2zM446 470h2v2h-2zM332 470h10v4h-10zM434 472h2v2h-2zM482 472h2v2h-2zM448 472h2v2h-2zM316 472h10v2h-10zM312 468h2v8h-2zM452 474h2v2h-2zM472 474h2v2h-2zM316 474h26v2h-26zM344 470h2v8h-2zM286 472h24v6h-24zM438 476h2v2h-2zM312 476h30v2h-30zM454 476h2v2h-2zM440 478h4v2h-4zM456 478h2v2h-2zM474 478h2v2h-2zM334 478h12v2h-12zM312 478h20v2h-20zM290 478h20v4h-20zM312 480h14v2h-14zM458 480h4v2h-4zM444 480h2v2h-2zM328 480h18v2h-18zM446 482h4v2h-4zM316 482h30v4h-30zM292 482h18v4h-18zM450 484h4v2h-4zM460 482h4v6h-4zM452 486h4v2h-4zM344 486h2v2h-2zM360 486h2v2h-2zM316 486h26v4h-26zM302 486h8v4h-8zM292 486h8v4h-8zM344 488h4v2h-4zM454 488h10v2h-10zM358 488h4v2h-4zM316 490h14v2h-14zM356 490h6v2h-6zM332 490h8v2h-8zM312 482h2v12h-2zM292 490h18v4h-18zM344 490h6v4h-6zM334 492h6v2h-6zM388 492h2v2h-2zM356 492h4v4h-4zM316 492h6v4h-6zM292 494h22v2h-22zM388 494h4v2h-4zM332 494h8v4h-8zM390 496h4v2h-4zM292 496h30v4h-30zM394 498h4v2h-4zM324 492h6v10h-6zM344 494h8v8h-8zM356 496h2v6h-2zM334 498h8v4h-8zM310 500h12v2h-12zM398 500h2v2h-2zM292 500h16v2h-16zM386 496h2v8h-2zM326 502h4v2h-4zM400 502h2v4h-2zM510 504h4v2h-4zM202 504h2v2h-2zM310 502h10v6h-10zM334 502h18v6h-18zM324 504h6v4h-6zM508 506h8v2h-8zM402 506h2v4h-2zM506 508h12v2h-12zM388 508h2v2h-2zM336 508h10v2h-10zM348 508h2v2h-2zM310 508h8v4h-8zM324 508h4v4h-4zM508 510h16v2h-16zM388 510h4v2h-4zM292 502h14v12h-14zM380 508h2v6h-2zM334 510h4v4h-4zM340 510h6v4h-6zM310 512h6v2h-6zM508 512h14v2h-14zM484 512h2v2h-2zM390 512h2v2h-2zM326 512h2v2h-2zM372 510h4v6h-4zM404 512h2v4h-2zM490 514h2v2h-2zM476 514h4v2h-4zM484 514h4v2h-4zM334 514h8v2h-8zM292 514h10v2h-10zM500 514h2v2h-2zM390 514h6v2h-6zM526 506h4v12h-4zM508 514h16v4h-16zM396 516h4v2h-4zM474 516h30v2h-30zM390 516h4v2h-4zM334 516h10v2h-10zM292 516h8v2h-8zM402 516h4v2h-4zM322 514h8v6h-8zM346 516h2v4h-2zM474 518h56v2h-56zM466 518h2v2h-2zM296 518h4v2h-4zM400 518h4v2h-4zM332 518h12v4h-12zM474 520h16v2h-16zM346 520h4v2h-4zM462 520h8v2h-8zM324 520h6v2h-6zM492 520h38v2h-38zM310 514h8v10h-8zM468 522h2v2h-2zM494 522h36v2h-36zM324 522h8v2h-8zM462 522h4v2h-4zM334 522h16v2h-16zM476 522h14v2h-14zM346 524h4v2h-4zM310 524h4v2h-4zM334 524h10v2h-10zM322 524h8v2h-8zM316 524h2v4h-2zM474 524h14v4h-14zM320 526h10v2h-10zM312 526h2v2h-2zM452 520h4v10h-4zM292 520h8v10h-8zM462 524h8v6h-8zM492 524h36v6h-36zM334 526h6v4h-6zM342 526h2v4h-2zM374 528h2v2h-2zM312 528h18v2h-18zM476 528h14v2h-14zM348 528h2v2h-2z"/>
<path fill="#b8e810" d="M190 0h32v2h-32zM86 0h58v2h-58zM234 0h4v2h-4zM224 0h2v2h-2zM236 2h2v2h-2zM222 2h4v2h-4zM100 2h42v2h-42zM194 2h26v4h-26zM102 4h40v2h-40zM86 2h12v6h-12zM184 6h4v2h-4zM106 6h38v2h-38zM280 6h2v4h-2zM192 6h26v4h-26zM108 8h36v2h-36zM96 8h2v2h-2zM86 8h8v2h-8zM182 8h4v2h-4zM110 10h32v4h-32zM86 10h10v6h-10zM182 10h36v6h-36zM106 12h2v4h-2zM114 14h28v2h-28zM184 16h34v2h-34zM116 16h24v2h-24zM86 16h20v4h-20zM350 18h2v2h-2zM118 18h22v2h-22zM182 18h38v2h-38zM186 20h32v2h-32zM120 20h20v2h-20zM86 20h12v2h-12zM120 22h18v2h-18zM84 22h14v2h-14zM186 22h24v4h-24zM118 24h20v2h-20zM84 24h16v2h-16zM84 26h18v2h-18zM120 26h16v2h-16zM186 26h30v2h-30zM86 28h18v2h-18zM118 28h18v2h-18zM188 28h28v2h-28zM236 30h4v2h-4zM186 30h26v2h-26zM86 30h16v2h-16zM116 30h18v2h-18zM236 32h2v2h-2zM184 32h30v2h-30zM114 32h20v2h-20zM88 32h14v2h-14zM88 34h16v2h-16zM114 34h10v2h-10zM128 34h2v2h-2zM226 34h4v2h-4zM182 34h34v4h-34zM90 36h16v2h-16zM108 36h16v2h-16zM88 38h34v2h-34zM184 38h34v4h-34zM86 40h36v2h-36zM180 42h40v2h-40zM86 42h34v2h-34zM180 44h38v2h-38zM84 44h36v2h-36zM84 46h34v2h-34zM182 46h34v2h-34zM84 48h30v2h-30zM180 48h36v4h-36zM248 50h2v2h-2zM82 50h34v2h-34zM242 48h2v6h-2zM182 52h30v2h-30zM82 52h14v4h-14zM98 52h20v4h-20zM244 54h4v2h-4zM82 56h36v2h-36zM456 56h2v2h-2zM184 54h30v6h-30zM82 58h38v2h-38zM84 60h36v2h-36zM454 58h2v6h-2zM188 60h26v4h-26zM86 62h34v2h-34zM192 64h22v2h-22zM186 64h4v2h-4zM456 64h2v2h-2zM86 64h30v4h-30zM194 66h20v2h-20zM88 68h28v2h-28zM192 68h22v2h-22zM86 70h28v2h-28zM190 70h4v2h-4zM204 70h8v4h-8zM198 70h4v4h-4zM86 72h26v2h-26zM90 74h22v2h-22zM196 74h18v2h-18zM246 76h2v2h-2zM90 76h20v2h-20zM202 76h12v2h-12zM100 78h10v2h-10zM90 78h8v2h-8zM206 78h10v2h-10zM94 80h2v2h-2zM206 80h18v2h-18zM104 80h6v2h-6zM208 82h16v2h-16zM92 82h4v2h-4zM348 84h4v2h-4zM208 84h14v2h-14zM210 86h12v4h-12zM248 90h2v2h-2zM214 90h12v2h-12zM216 92h10v2h-10zM246 92h4v2h-4zM218 94h16v2h-16zM244 94h6v2h-6zM246 96h6v2h-6zM222 96h18v4h-18zM244 98h8v2h-8zM222 100h30v2h-30zM270 100h2v2h-2zM224 102h26v2h-26zM232 104h18v2h-18zM232 106h2v2h-2zM238 106h12v2h-12zM268 102h4v8h-4zM240 108h10v2h-10zM260 110h2v2h-2zM244 110h8v2h-8zM266 110h6v2h-6zM246 112h6v2h-6zM400 112h6v2h-6zM268 112h4v2h-4zM258 112h6v4h-6zM294 114h2v2h-2zM404 114h2v2h-2zM248 114h6v4h-6zM266 114h6v4h-6zM258 116h4v2h-4zM266 118h8v4h-8zM248 118h14v4h-14zM398 116h2v8h-2zM406 116h2v8h-2zM250 122h24v4h-24zM404 124h4v2h-4zM362 126h4v2h-4zM404 126h2v2h-2zM250 126h22v4h-22zM400 128h4v2h-4zM284 128h4v2h-4zM276 128h2v2h-2zM280 130h10v2h-10zM400 130h2v2h-2zM250 130h24v2h-24zM250 132h14v2h-14zM266 132h8v2h-8zM280 132h2v4h-2zM284 132h8v4h-8zM254 134h10v4h-10zM270 134h4v4h-4zM256 138h18v4h-18zM280 136h12v8h-12zM444 140h2v4h-2zM450 140h2v4h-2zM268 142h6v2h-6zM256 142h10v2h-10zM288 144h4v2h-4zM282 144h4v2h-4zM258 144h18v4h-18zM290 146h2v2h-2zM280 146h4v2h-4zM258 148h4v2h-4zM264 148h12v6h-12zM278 148h4v6h-4zM326 150h2v4h-2zM258 150h2v8h-2zM266 154h14v4h-14zM174 158h8v2h-8zM172 160h12v2h-12zM268 158h10v6h-10zM174 162h2v2h-2zM178 162h10v2h-10zM286 162h4v4h-4zM174 164h18v2h-18zM268 164h12v2h-12zM308 158h2v10h-2zM174 166h22v2h-22zM176 168h22v2h-22zM268 166h14v6h-14zM176 170h28v2h-28zM286 166h6v8h-6zM176 172h30v2h-30zM276 172h6v2h-6zM306 168h4v8h-4zM270 172h4v4h-4zM176 174h28v2h-28zM288 174h6v4h-6zM272 176h2v2h-2zM178 176h26v2h-26zM288 178h10v2h-10zM180 178h28v2h-28zM308 176h2v6h-2zM182 180h28v2h-28zM286 180h10v2h-10zM214 182h8v2h-8zM182 182h30v2h-30zM288 182h6v2h-6zM278 174h4v12h-4zM182 184h40v2h-40zM290 184h6v4h-6zM278 186h8v2h-8zM184 186h24v2h-24zM214 186h10v2h-10zM186 188h40v2h-40zM270 188h4v4h-4zM290 188h4v4h-4zM188 190h42v2h-42zM190 192h40v2h-40zM274 192h2v2h-2zM270 192h2v2h-2zM278 188h10v8h-10zM236 194h6v2h-6zM260 194h2v2h-2zM194 194h38v2h-38zM292 192h2v6h-2zM268 196h2v2h-2zM256 196h6v2h-6zM194 196h40v2h-40zM238 196h4v2h-4zM276 196h10v4h-10zM260 198h2v2h-2zM196 198h46v2h-46zM252 198h6v2h-6zM198 200h46v2h-46zM278 200h10v2h-10zM268 202h2v2h-2zM284 202h4v2h-4zM278 202h4v2h-4zM198 202h48v2h-48zM400 202h2v2h-2zM250 200h14v6h-14zM292 200h2v6h-2zM198 204h50v2h-50zM278 204h8v2h-8zM266 204h6v2h-6zM364 204h2v4h-2zM198 206h24v2h-24zM238 206h20v2h-20zM226 206h2v2h-2zM260 206h14v2h-14zM304 206h2v2h-2zM162 206h2v2h-2zM278 206h2v2h-2zM284 206h2v4h-2zM362 208h2v2h-2zM244 208h14v2h-14zM260 208h20v4h-20zM204 208h16v4h-16zM282 210h4v2h-4zM246 210h12v4h-12zM208 212h10v2h-10zM260 212h26v2h-26zM208 214h12v2h-12zM234 214h2v2h-2zM246 214h40v4h-40zM242 216h2v2h-2zM208 216h30v2h-30zM212 218h74v2h-74zM338 218h2v2h-2zM366 208h2v14h-2zM214 220h68v2h-68zM298 220h4v2h-4zM336 220h6v4h-6zM214 222h64v2h-64zM362 222h4v2h-4zM296 222h6v4h-6zM214 224h66v2h-66zM364 224h2v2h-2zM290 218h2v10h-2zM218 226h6v2h-6zM298 226h4v2h-4zM234 226h46v2h-46zM284 220h2v10h-2zM338 224h4v6h-4zM238 228h2v2h-2zM296 228h6v2h-6zM242 228h38v2h-38zM290 228h4v4h-4zM244 230h8v2h-8zM338 230h2v2h-2zM254 230h32v2h-32zM280 232h6v2h-6zM246 232h32v2h-32zM290 232h2v4h-2zM270 234h8v2h-8zM246 234h22v2h-22zM282 234h4v2h-4zM246 236h6v2h-6zM284 236h2v2h-2zM298 230h4v10h-4zM254 236h14v4h-14zM284 238h4v2h-4zM248 238h4v2h-4zM270 236h6v6h-6zM282 240h6v2h-6zM248 240h18v2h-18zM248 242h16v2h-16zM290 236h4v10h-4zM332 242h2v4h-2zM280 242h8v4h-8zM272 242h4v4h-4zM248 244h10v2h-10zM262 244h2v2h-2zM298 244h4v6h-4zM246 246h12v8h-12zM278 246h10v8h-10zM298 250h6v4h-6zM298 254h4v2h-4zM248 254h10v4h-10zM280 254h8v4h-8zM290 246h6v14h-6zM300 256h2v4h-2zM250 258h8v2h-8zM278 258h10v2h-10zM254 260h2v4h-2zM276 260h16v4h-16zM274 264h18v4h-18zM294 260h2v10h-2zM300 262h2v8h-2zM276 268h16v2h-16zM294 270h8v2h-8zM276 270h14v2h-14zM278 272h26v2h-26zM314 274h4v2h-4zM310 274h2v2h-2zM288 274h2v4h-2zM292 274h12v4h-12zM278 274h8v4h-8zM270 264h2v16h-2zM294 278h10v2h-10zM282 278h4v2h-4zM278 278h2v2h-2zM308 276h12v6h-12zM296 280h10v2h-10zM302 282h12v2h-12zM292 282h6v2h-6zM316 282h4v2h-4zM304 284h6v2h-6zM290 284h4v2h-4zM306 286h2v2h-2zM290 286h2v2h-2zM308 292h2v4h-2zM316 284h2v14h-2zM292 292h2v6h-2zM306 296h6v6h-6zM292 298h4v6h-4zM314 298h2v6h-2zM300 302h12v2h-12zM292 304h24v4h-24zM298 308h18v2h-18zM288 304h2v8h-2zM454 310h2v2h-2zM292 308h2v6h-2zM286 312h4v2h-4zM300 310h16v6h-16zM282 314h6v2h-6zM304 316h12v2h-12zM284 316h2v6h-2zM304 318h8v4h-8zM314 318h2v4h-2zM304 322h12v4h-12zM304 326h8v2h-8zM314 326h2v4h-2zM312 330h6v2h-6zM314 332h4v2h-4zM314 334h6v4h-6zM324 336h2v2h-2zM314 338h12v2h-12zM304 328h6v14h-6zM296 336h2v6h-2zM314 340h2v2h-2zM318 340h8v4h-8zM438 342h4v2h-4zM306 342h4v6h-4zM320 344h6v4h-6zM320 348h8v6h-8zM306 348h6v8h-6zM398 352h2v4h-2zM324 354h4v4h-4zM308 356h6v2h-6zM326 358h2v2h-2zM344 360h4v2h-4zM306 358h10v6h-10zM342 362h2v2h-2zM348 362h2v4h-2zM306 364h6v2h-6zM314 364h2v2h-2zM320 354h2v16h-2zM340 364h4v6h-4zM316 368h2v2h-2zM304 366h8v6h-8zM366 368h4v4h-4zM342 370h2v2h-2zM316 370h6v2h-6zM348 370h2v2h-2zM344 372h6v2h-6zM418 372h2v2h-2zM422 372h2v2h-2zM316 372h4v2h-4zM302 372h10v4h-10zM344 374h4v2h-4zM420 374h2v2h-2zM424 374h2v4h-2zM318 374h2v4h-2zM300 376h12v2h-12zM448 376h4v4h-4zM268 376h2v6h-2zM298 378h14v6h-14zM266 382h4v2h-4zM326 382h2v2h-2zM318 382h2v4h-2zM268 384h2v2h-2zM304 384h8v2h-8zM296 384h6v2h-6zM304 386h6v2h-6zM298 386h4v4h-4zM304 388h8v4h-8zM462 388h2v4h-2zM324 384h4v10h-4zM294 390h6v4h-6zM304 392h6v2h-6zM324 394h2v2h-2zM294 394h14v4h-14zM292 398h16v2h-16zM312 398h2v2h-2zM336 398h4v2h-4zM300 400h4v2h-4zM306 400h2v2h-2zM310 400h4v2h-4zM294 400h4v2h-4zM300 402h12v2h-12zM340 402h2v4h-2zM316 402h2v4h-2zM294 402h2v4h-2zM376 404h2v4h-2zM336 406h2v4h-2zM292 406h4v4h-4zM300 404h8v8h-8zM314 406h4v8h-4zM342 408h2v6h-2zM280 412h2v2h-2zM338 412h2v2h-2zM300 412h6v2h-6zM310 404h2v12h-2zM290 410h6v6h-6zM340 414h4v2h-4zM300 414h8v2h-8zM374 408h2v10h-2zM316 414h2v4h-2zM280 414h4v4h-4zM290 416h16v2h-16zM288 418h18v2h-18zM376 418h2v2h-2zM314 418h4v4h-4zM280 418h6v6h-6zM288 420h2v4h-2zM314 422h6v2h-6zM314 424h4v2h-4zM278 424h12v2h-12zM294 420h12v8h-12zM456 426h2v2h-2zM314 426h6v4h-6zM294 428h2v2h-2zM460 428h2v2h-2zM280 426h12v6h-12zM298 428h8v4h-8zM316 430h4v2h-4zM464 430h2v4h-2zM280 432h6v4h-6zM298 432h10v4h-10zM316 432h2v4h-2zM288 432h4v4h-4zM328 434h2v2h-2zM462 434h2v4h-2zM280 436h12v2h-12zM298 436h12v2h-12zM316 436h8v4h-8zM280 438h6v2h-6zM288 438h4v2h-4zM300 438h10v2h-10zM468 440h2v2h-2zM280 440h12v2h-12zM306 440h4v2h-4zM464 440h2v4h-2zM280 442h10v2h-10zM304 442h6v2h-6zM328 436h4v10h-4zM318 440h4v6h-4zM304 444h4v2h-4zM300 440h2v8h-2zM282 444h8v6h-8zM306 446h2v4h-2zM328 446h6v4h-6zM318 446h2v4h-2zM336 448h2v2h-2zM340 448h4v2h-4zM464 448h2v4h-2zM302 450h2v2h-2zM328 450h18v2h-18zM282 450h6v4h-6zM316 450h4v4h-4zM466 452h2v2h-2zM470 452h2v2h-2zM294 452h2v2h-2zM326 452h20v2h-20zM322 452h2v2h-2zM318 454h2v2h-2zM322 454h24v2h-24zM318 456h8v2h-8zM330 456h16v2h-16zM300 452h4v8h-4zM282 454h8v6h-8zM294 456h2v4h-2zM474 458h2v2h-2zM468 458h2v2h-2zM318 458h6v2h-6zM332 458h14v4h-14zM280 460h10v2h-10zM300 460h2v2h-2zM470 460h2v4h-2zM332 462h2v2h-2zM336 462h2v2h-2zM280 462h8v2h-8zM340 462h6v2h-6zM280 464h10v2h-10zM340 464h4v2h-4zM436 466h4v2h-4zM478 466h2v2h-2zM342 466h2v2h-2zM278 466h12v2h-12zM322 460h2v10h-2zM432 466h2v4h-2zM330 468h2v2h-2zM278 468h10v2h-10zM444 470h2v2h-2zM324 470h8v2h-8zM278 470h6v2h-6zM434 470h2v2h-2zM436 472h2v2h-2zM480 472h2v2h-2zM326 472h6v2h-6zM472 472h2v2h-2zM314 468h2v8h-2zM450 474h2v2h-2zM438 474h2v2h-2zM342 470h2v8h-2zM278 472h8v6h-8zM482 474h2v4h-2zM440 476h2v2h-2zM452 476h2v2h-2zM476 478h2v2h-2zM444 478h2v2h-2zM480 478h2v2h-2zM276 478h14v4h-14zM446 480h2v2h-2zM456 480h2v2h-2zM450 482h2v2h-2zM458 482h2v2h-2zM276 482h16v2h-16zM454 484h6v2h-6zM456 486h4v2h-4zM278 484h14v6h-14zM274 484h2v6h-2zM342 486h2v4h-2zM300 486h2v4h-2zM330 490h2v2h-2zM274 490h18v4h-18zM330 492h4v2h-4zM314 482h2v14h-2zM340 490h4v8h-4zM274 494h8v4h-8zM330 494h2v4h-2zM388 496h2v2h-2zM284 494h8v6h-8zM388 498h6v2h-6zM276 498h6v2h-6zM322 492h2v10h-2zM342 498h2v4h-2zM388 500h2v2h-2zM396 500h2v2h-2zM308 500h2v2h-2zM276 500h16v4h-16zM202 502h2v2h-2zM398 502h2v2h-2zM320 502h6v2h-6zM330 498h4v10h-4zM320 504h4v4h-4zM276 504h4v4h-4zM388 504h2v4h-2zM202 506h2v2h-2zM400 506h2v2h-2zM390 508h2v2h-2zM328 508h8v2h-8zM318 508h6v4h-6zM306 502h4v12h-4zM274 508h6v6h-6zM328 510h6v4h-6zM392 512h4v2h-4zM316 512h10v2h-10zM402 510h2v6h-2zM302 514h8v2h-8zM396 514h2v2h-2zM284 504h8v14h-8zM330 514h4v4h-4zM276 514h2v4h-2zM400 516h2v2h-2zM318 514h4v6h-4zM284 518h12v2h-12zM330 518h2v4h-2zM490 520h2v2h-2zM300 516h10v8h-10zM284 520h8v4h-8zM318 520h6v4h-6zM332 522h2v2h-2zM490 522h4v2h-4zM318 524h4v2h-4zM290 524h2v2h-2zM286 524h2v2h-2zM308 524h2v2h-2zM300 524h6v2h-6zM488 524h4v4h-4zM286 526h6v2h-6zM318 526h2v2h-2zM330 524h4v6h-4zM528 524h2v6h-2zM300 526h12v4h-12zM340 526h2v4h-2zM284 528h8v2h-8zM490 528h2v2h-2z"/>
<path fill="#ffff00" d="M144 0h6v2h-6zM170 0h20v2h-20zM142 2h8v2h-8zM170 2h24v2h-24zM142 4h10v2h-10zM172 4h22v2h-22zM188 6h4v2h-4zM174 6h10v2h-10zM144 6h10v4h-10zM186 8h6v2h-6zM80 0h6v12h-6zM142 10h14v4h-14zM78 12h8v2h-8zM172 8h10v8h-10zM142 14h8v2h-8zM80 14h6v2h-6zM152 14h4v2h-4zM164 14h2v2h-2zM170 16h14v2h-14zM162 16h4v2h-4zM140 16h8v2h-8zM170 18h12v2h-12zM140 18h6v2h-6zM164 18h2v2h-2zM78 16h8v6h-8zM160 20h6v2h-6zM168 20h18v2h-18zM140 20h4v2h-4zM138 22h8v2h-8zM166 22h20v2h-20zM168 24h18v2h-18zM138 24h10v2h-10zM78 22h6v6h-6zM170 26h16v2h-16zM136 26h12v4h-12zM76 28h10v2h-10zM172 28h16v2h-16zM74 30h12v2h-12zM172 30h14v2h-14zM134 30h12v4h-12zM172 32h12v2h-12zM74 32h14v2h-14zM130 34h16v2h-16zM76 34h12v2h-12zM124 34h4v2h-4zM170 34h12v4h-12zM124 36h20v2h-20zM76 36h14v2h-14zM170 38h14v2h-14zM74 38h14v2h-14zM122 38h16v4h-16zM172 40h12v2h-12zM72 40h14v4h-14zM170 42h10v2h-10zM120 42h18v2h-18zM72 44h12v2h-12zM172 44h8v2h-8zM120 44h12v2h-12zM134 44h4v4h-4zM74 46h10v2h-10zM118 46h14v2h-14zM174 46h8v2h-8zM72 48h12v2h-12zM136 48h2v2h-2zM244 48h4v2h-4zM114 48h20v2h-20zM174 48h6v4h-6zM72 50h10v2h-10zM116 50h18v2h-18zM118 52h16v2h-16zM174 52h8v2h-8zM246 52h2v2h-2zM172 54h12v2h-12zM118 54h18v4h-18zM170 56h14v2h-14zM74 52h8v8h-8zM168 58h16v2h-16zM120 58h16v2h-16zM456 58h2v2h-2zM164 58h2v2h-2zM74 60h10v2h-10zM120 60h18v2h-18zM164 60h24v2h-24zM120 62h20v2h-20zM456 62h2v2h-2zM166 62h22v2h-22zM168 64h18v2h-18zM190 64h2v2h-2zM116 64h26v2h-26zM76 62h10v6h-10zM170 66h24v2h-24zM116 66h22v2h-22zM168 68h24v2h-24zM116 68h28v2h-28zM78 68h10v2h-10zM194 70h4v2h-4zM114 70h36v2h-36zM174 70h16v2h-16zM78 70h8v4h-8zM202 70h2v4h-2zM178 72h20v2h-20zM112 72h38v2h-38zM112 74h36v2h-36zM180 74h16v2h-16zM78 74h12v2h-12zM80 76h10v2h-10zM182 76h20v2h-20zM150 76h8v2h-8zM98 78h2v2h-2zM78 78h12v2h-12zM150 78h6v2h-6zM182 78h24v2h-24zM110 76h38v6h-38zM180 80h4v2h-4zM172 80h2v2h-2zM78 80h16v2h-16zM96 80h8v2h-8zM186 80h20v2h-20zM78 82h14v2h-14zM146 82h2v2h-2zM96 82h46v2h-46zM182 82h26v4h-26zM76 84h64v2h-64zM180 86h30v2h-30zM76 86h60v2h-60zM200 88h10v2h-10zM78 88h56v2h-56zM182 88h16v2h-16zM80 90h24v2h-24zM106 90h22v2h-22zM182 90h2v2h-2zM186 90h28v2h-28zM88 92h2v2h-2zM182 92h34v2h-34zM118 92h4v2h-4zM186 94h32v2h-32zM186 96h8v2h-8zM196 96h26v2h-26zM188 98h4v2h-4zM196 98h6v2h-6zM206 98h16v4h-16zM208 102h16v2h-16zM206 104h26v4h-26zM234 106h4v2h-4zM208 108h32v2h-32zM212 110h32v2h-32zM214 112h32v2h-32zM216 114h32v2h-32zM292 114h2v2h-2zM400 114h4v2h-4zM400 116h2v2h-2zM218 116h30v6h-30zM404 116h2v8h-2zM400 124h2v2h-2zM216 122h34v6h-34zM400 126h4v2h-4zM212 128h38v2h-38zM208 130h42v4h-42zM208 134h46v4h-46zM208 138h48v4h-48zM446 140h4v4h-4zM210 142h46v2h-46zM210 144h48v2h-48zM224 146h34v2h-34zM188 146h2v2h-2zM216 146h6v2h-6zM262 148h2v2h-2zM218 148h4v2h-4zM184 148h8v2h-8zM226 148h32v4h-32zM170 150h20v2h-20zM260 150h4v4h-4zM322 150h4v4h-4zM168 152h22v2h-22zM164 152h2v2h-2zM232 152h26v4h-26zM198 154h2v2h-2zM164 154h28v2h-28zM260 154h6v4h-6zM254 156h4v2h-4zM232 156h2v2h-2zM162 156h40v2h-40zM236 156h16v2h-16zM162 158h12v2h-12zM236 158h8v2h-8zM246 158h22v2h-22zM182 158h20v2h-20zM162 160h10v2h-10zM184 160h18v2h-18zM188 162h16v2h-16zM176 162h2v2h-2zM236 160h32v6h-32zM192 164h12v2h-12zM160 162h14v6h-14zM196 166h10v2h-10zM238 166h30v2h-30zM242 168h26v2h-26zM198 168h10v2h-10zM160 168h16v2h-16zM204 170h14v2h-14zM244 170h24v2h-24zM158 170h18v2h-18zM206 172h12v2h-12zM240 172h4v2h-4zM274 172h2v2h-2zM248 172h22v2h-22zM160 172h16v4h-16zM204 174h14v2h-14zM246 174h24v2h-24zM274 174h4v4h-4zM252 176h20v2h-20zM160 176h18v2h-18zM204 176h16v2h-16zM162 178h18v2h-18zM208 178h16v2h-16zM252 178h26v2h-26zM162 180h20v2h-20zM210 180h18v2h-18zM234 180h4v2h-4zM212 182h2v2h-2zM162 182h2v2h-2zM222 182h10v2h-10zM236 182h2v2h-2zM166 182h16v2h-16zM268 180h10v6h-10zM222 184h12v2h-12zM168 184h14v2h-14zM252 180h12v8h-12zM240 186h4v2h-4zM266 186h12v2h-12zM166 186h18v2h-18zM224 186h14v2h-14zM208 186h6v2h-6zM168 188h18v2h-18zM252 188h18v2h-18zM226 188h20v2h-20zM274 188h4v4h-4zM230 190h16v2h-16zM168 190h20v2h-20zM250 190h20v2h-20zM276 192h2v2h-2zM230 192h40v2h-40zM168 192h22v2h-22zM272 192h2v2h-2zM232 194h4v2h-4zM262 194h16v2h-16zM162 194h32v2h-32zM242 194h18v2h-18zM234 196h4v2h-4zM262 196h6v2h-6zM270 196h6v2h-6zM242 196h14v2h-14zM152 196h42v2h-42zM258 198h2v2h-2zM152 198h18v2h-18zM172 198h24v2h-24zM262 198h14v2h-14zM242 198h10v2h-10zM244 200h6v2h-6zM264 200h14v2h-14zM152 200h46v4h-46zM270 202h8v2h-8zM246 202h4v2h-4zM264 202h4v2h-4zM282 202h2v2h-2zM248 204h2v2h-2zM152 204h20v2h-20zM178 204h20v2h-20zM398 204h4v2h-4zM272 204h6v2h-6zM264 204h2v2h-2zM152 206h10v2h-10zM182 206h16v2h-16zM274 206h4v2h-4zM164 206h6v2h-6zM280 206h4v4h-4zM154 208h16v2h-16zM364 208h2v2h-2zM184 208h20v4h-20zM154 210h14v2h-14zM280 210h2v2h-2zM362 210h2v2h-2zM258 206h2v8h-2zM176 212h6v2h-6zM154 212h12v4h-12zM178 214h2v2h-2zM186 212h22v6h-22zM158 216h4v2h-4zM190 218h22v2h-22zM362 218h2v2h-2zM362 220h4v2h-4zM192 220h22v2h-22zM282 220h2v2h-2zM278 222h6v2h-6zM194 222h20v2h-20zM202 224h12v2h-12zM202 226h16v2h-16zM224 226h10v2h-10zM280 224h4v6h-4zM202 228h36v2h-36zM240 228h2v2h-2zM206 230h38v2h-38zM252 230h2v2h-2zM278 232h2v2h-2zM208 232h38v2h-38zM278 234h4v2h-4zM216 234h30v4h-30zM268 234h2v6h-2zM276 236h8v4h-8zM252 236h2v4h-2zM210 238h38v4h-38zM276 240h6v2h-6zM266 240h4v2h-4zM204 242h30v2h-30zM236 242h12v4h-12zM264 242h8v4h-8zM276 242h4v4h-4zM202 244h32v2h-32zM258 244h4v2h-4zM202 246h44v4h-44zM258 246h20v8h-20zM204 250h42v4h-42zM204 254h44v2h-44zM258 254h22v4h-22zM206 256h42v2h-42zM258 258h20v2h-20zM242 258h8v2h-8zM208 258h22v2h-22zM208 260h4v2h-4zM224 260h2v2h-2zM244 260h10v2h-10zM256 260h20v4h-20zM248 262h6v2h-6zM250 264h8v2h-8zM272 264h2v4h-2zM260 264h10v4h-10zM252 266h6v2h-6zM292 260h2v10h-2zM272 268h4v4h-4zM254 268h16v4h-16zM290 270h4v2h-4zM258 272h12v2h-12zM260 274h10v2h-10zM286 274h2v4h-2zM290 274h2v4h-2zM258 276h12v2h-12zM272 272h6v8h-6zM280 278h2v2h-2zM286 278h8v2h-8zM260 278h10v2h-10zM264 280h32v2h-32zM298 282h4v2h-4zM314 282h2v2h-2zM268 282h24v2h-24zM294 284h10v2h-10zM310 284h6v2h-6zM268 284h22v4h-22zM258 284h6v4h-6zM308 286h8v2h-8zM292 286h14v2h-14zM266 288h50v4h-50zM258 288h4v4h-4zM256 292h6v2h-6zM266 292h26v2h-26zM310 292h6v4h-6zM294 292h14v4h-14zM256 294h8v2h-8zM312 296h4v2h-4zM294 296h12v2h-12zM258 296h4v2h-4zM256 298h6v2h-6zM268 294h24v8h-24zM296 298h10v4h-10zM312 298h2v6h-2zM258 300h4v4h-4zM296 302h4v2h-4zM270 302h22v2h-22zM256 304h2v2h-2zM260 304h2v2h-2zM294 308h4v2h-4zM270 304h18v8h-18zM290 304h2v10h-2zM256 306h4v8h-4zM294 310h6v4h-6zM270 312h16v2h-16zM264 312h2v4h-2zM270 314h12v2h-12zM288 314h12v2h-12zM254 314h8v2h-8zM264 316h4v2h-4zM270 316h14v2h-14zM256 316h6v4h-6zM286 316h18v6h-18zM312 318h2v4h-2zM264 318h20v4h-20zM254 320h8v2h-8zM256 322h6v4h-6zM264 322h40v6h-40zM312 326h2v2h-2zM266 328h38v2h-38zM310 328h4v2h-4zM256 326h4v6h-4zM310 330h2v2h-2zM274 330h30v2h-30zM266 330h6v4h-6zM294 332h10v4h-10zM276 332h14v4h-14zM268 334h2v4h-2zM276 336h20v4h-20zM310 332h4v10h-4zM298 336h6v6h-6zM292 340h4v2h-4zM316 340h2v2h-2zM276 340h8v4h-8zM286 340h4v4h-4zM292 342h14v2h-14zM310 342h8v2h-8zM292 344h8v2h-8zM274 344h10v2h-10zM310 344h10v4h-10zM302 344h4v4h-4zM294 346h4v2h-4zM270 346h2v4h-2zM318 348h2v2h-2zM296 348h2v4h-2zM276 346h8v10h-8zM304 348h2v8h-2zM312 348h4v8h-4zM268 350h4v6h-4zM274 356h10v2h-10zM298 356h4v2h-4zM314 356h2v2h-2zM304 356h4v2h-4zM276 358h8v2h-8zM302 358h4v2h-4zM304 360h2v2h-2zM276 360h2v2h-2zM296 358h4v6h-4zM292 362h2v2h-2zM344 362h4v2h-4zM302 362h4v2h-4zM274 364h2v2h-2zM290 364h4v2h-4zM296 364h10v2h-10zM344 364h2v2h-2zM280 360h4v8h-4zM316 364h4v4h-4zM268 366h8v2h-8zM288 366h16v2h-16zM348 366h2v4h-2zM318 368h2v2h-2zM292 368h12v4h-12zM282 368h2v4h-2zM344 370h4v2h-4zM266 368h10v6h-10zM280 372h4v2h-4zM420 372h2v2h-2zM292 372h10v2h-10zM288 372h2v2h-2zM422 374h2v2h-2zM280 374h6v2h-6zM288 374h14v2h-14zM266 374h12v2h-12zM292 376h8v2h-8zM264 376h4v4h-4zM280 376h10v4h-10zM270 376h8v6h-8zM280 380h8v2h-8zM262 380h6v2h-6zM292 378h6v6h-6zM262 382h4v2h-4zM270 382h6v2h-6zM280 382h6v2h-6zM270 384h8v2h-8zM264 384h4v2h-4zM292 384h4v2h-4zM264 386h14v2h-14zM292 386h6v4h-6zM266 388h10v2h-10zM274 390h2v2h-2zM266 390h6v2h-6zM266 392h4v2h-4zM280 384h8v12h-8zM292 390h2v6h-2zM290 396h4v2h-4zM280 396h6v2h-6zM268 394h2v6h-2zM488 398h2v2h-2zM280 398h12v2h-12zM304 400h2v2h-2zM336 400h4v2h-4zM298 400h2v2h-2zM280 400h14v6h-14zM336 402h2v4h-2zM340 406h2v2h-2zM278 406h14v4h-14zM376 408h2v2h-2zM338 410h2v2h-2zM278 410h12v2h-12zM282 412h8v2h-8zM340 412h2v2h-2zM296 402h4v14h-4zM276 412h4v4h-4zM284 414h6v4h-6zM274 416h6v2h-6zM376 416h2v2h-2zM270 418h10v2h-10zM274 420h6v2h-6zM286 418h2v6h-2zM272 422h8v2h-8zM270 424h8v2h-8zM458 426h2v2h-2zM462 428h2v2h-2zM460 432h2v2h-2zM286 432h2v4h-2zM466 434h2v2h-2zM286 438h2v2h-2zM266 426h14v18h-14zM272 444h10v2h-10zM266 444h4v4h-4zM468 446h2v2h-2zM278 446h4v4h-4zM272 446h4v4h-4zM276 450h6v2h-6zM468 452h2v2h-2zM472 454h2v2h-2zM278 452h4v6h-4zM2 456h2v2h-2zM266 456h4v2h-4zM326 456h4v2h-4zM266 458h2v2h-2zM276 458h6v2h-6zM324 458h2v2h-2zM0 458h6v4h-6zM476 460h2v2h-2zM0 462h8v2h-8zM276 460h4v6h-4zM264 462h2v4h-2zM330 458h2v10h-2zM472 466h2v2h-2zM276 466h2v2h-2zM324 466h2v2h-2zM0 464h10v6h-10zM434 466h2v4h-2zM324 468h6v2h-6zM440 468h2v2h-2zM478 468h2v2h-2zM262 466h6v6h-6zM436 470h2v2h-2zM274 468h4v6h-4zM0 470h12v4h-12zM262 472h4v2h-4zM446 472h2v2h-2zM262 474h6v2h-6zM0 474h18v2h-18zM474 474h2v4h-2zM272 474h6v4h-6zM262 476h8v2h-8zM442 476h2v2h-2zM258 474h2v6h-2zM0 476h20v4h-20zM262 478h14v2h-14zM478 478h2v2h-2zM454 478h2v4h-2zM0 480h16v2h-16zM448 480h4v2h-4zM258 480h18v4h-18zM452 482h6v2h-6zM260 484h14v2h-14zM0 482h14v6h-14zM248 486h2v2h-2zM276 484h2v6h-2zM248 488h4v2h-4zM0 488h10v4h-10zM258 486h16v8h-16zM248 490h8v4h-8zM258 494h6v2h-6zM0 492h12v6h-12zM238 492h2v6h-2zM268 494h6v4h-6zM14 496h2v2h-2zM260 496h2v2h-2zM282 494h2v6h-2zM246 494h10v6h-10zM236 498h6v2h-6zM0 498h14v4h-14zM390 500h6v2h-6zM236 500h20v2h-20zM202 500h2v2h-2zM0 502h16v2h-16zM236 502h8v2h-8zM396 502h2v2h-2zM246 502h8v2h-8zM230 502h4v2h-4zM388 502h2v2h-2zM398 504h2v2h-2zM248 504h6v2h-6zM230 504h14v2h-14zM268 498h8v10h-8zM204 502h2v6h-2zM200 502h2v6h-2zM0 504h12v4h-12zM230 506h12v2h-12zM390 506h2v2h-2zM202 508h2v2h-2zM0 508h14v4h-14zM268 508h6v4h-6zM228 508h14v4h-14zM214 510h2v2h-2zM392 510h2v2h-2zM280 504h4v10h-4zM248 506h4v8h-4zM400 508h2v6h-2zM264 512h10v2h-10zM0 512h16v2h-16zM212 512h4v2h-4zM226 512h16v2h-16zM396 512h2v2h-2zM246 514h6v2h-6zM260 514h16v2h-16zM398 514h4v2h-4zM226 514h8v2h-8zM238 514h4v4h-4zM278 514h6v4h-6zM262 516h6v2h-6zM270 516h6v2h-6zM248 516h4v2h-4zM248 518h2v2h-2zM272 518h12v2h-12zM264 518h2v2h-2zM238 518h6v4h-6zM226 520h2v2h-2zM274 520h10v4h-10zM246 520h4v4h-4zM226 522h4v2h-4zM0 514h18v12h-18zM236 522h6v4h-6zM274 524h12v2h-12zM288 524h2v2h-2zM306 524h2v2h-2zM260 522h8v6h-8zM226 524h6v4h-6zM236 526h4v2h-4zM0 526h16v2h-16zM280 526h6v2h-6zM274 526h4v2h-4zM248 524h2v6h-2zM266 528h2v2h-2zM280 528h4v2h-4zM276 528h2v2h-2zM0 528h14v2h-14zM218 528h12v2h-12zM260 528h2v2h-2z"/>
<path fill="#ffe800" d="M8 0h2v2h-2zM150 0h20v4h-20zM6 2h4v2h-4zM56 0h24v6h-24zM152 4h20v2h-20zM50 6h30v2h-30zM154 6h20v2h-20zM154 8h18v2h-18zM68 8h12v2h-12zM50 8h16v2h-16zM50 10h30v2h-30zM156 10h16v4h-16zM50 12h28v2h-28zM150 14h2v2h-2zM156 14h8v2h-8zM48 14h32v2h-32zM166 14h6v2h-6zM38 16h6v2h-6zM148 16h14v2h-14zM48 16h30v2h-30zM166 16h4v4h-4zM38 18h40v2h-40zM146 18h18v2h-18zM144 20h16v2h-16zM166 20h2v2h-2zM36 20h42v4h-42zM146 22h20v2h-20zM34 24h44v2h-44zM148 24h20v2h-20zM32 26h46v2h-46zM148 26h22v2h-22zM148 28h24v2h-24zM34 28h42v2h-42zM32 30h42v4h-42zM146 30h26v4h-26zM146 34h24v2h-24zM34 34h42v2h-42zM144 36h26v2h-26zM60 36h16v2h-16zM34 36h22v2h-22zM138 38h32v2h-32zM32 38h24v2h-24zM60 38h14v2h-14zM32 40h40v2h-40zM138 40h34v2h-34zM138 42h32v2h-32zM28 42h44v4h-44zM138 44h34v2h-34zM132 44h2v4h-2zM64 46h10v2h-10zM26 46h26v2h-26zM138 46h36v4h-36zM134 48h2v2h-2zM18 48h2v2h-2zM26 48h24v2h-24zM64 48h8v4h-8zM26 50h22v2h-22zM246 50h2v2h-2zM18 50h4v2h-4zM134 50h40v4h-40zM66 52h8v2h-8zM24 52h22v2h-22zM244 52h2v2h-2zM136 54h36v2h-36zM24 54h16v2h-16zM28 56h12v2h-12zM136 56h34v2h-34zM68 54h6v6h-6zM34 58h10v2h-10zM136 58h28v2h-28zM166 58h2v2h-2zM456 60h2v2h-2zM66 60h8v2h-8zM138 60h26v2h-26zM36 60h6v4h-6zM140 62h26v2h-26zM142 64h26v2h-26zM66 62h10v6h-10zM36 64h8v4h-8zM46 66h4v2h-4zM138 66h32v2h-32zM144 68h24v2h-24zM36 68h14v4h-14zM68 68h10v4h-10zM150 70h24v2h-24zM64 72h14v2h-14zM150 72h28v2h-28zM28 72h20v2h-20zM148 74h32v2h-32zM28 74h16v2h-16zM60 74h18v2h-18zM62 76h18v2h-18zM26 76h18v2h-18zM158 76h24v2h-24zM148 76h2v4h-2zM156 78h26v2h-26zM58 78h2v2h-2zM20 78h30v2h-30zM62 78h16v4h-16zM148 80h24v2h-24zM174 80h6v2h-6zM184 80h2v2h-2zM20 80h40v4h-40zM64 82h14v2h-14zM148 82h34v2h-34zM142 82h4v2h-4zM16 84h42v2h-42zM64 84h12v2h-12zM140 84h42v2h-42zM136 86h24v2h-24zM164 86h16v2h-16zM16 86h60v2h-60zM18 88h34v2h-34zM198 88h2v2h-2zM134 88h22v2h-22zM56 88h22v2h-22zM166 88h16v4h-16zM56 90h24v2h-24zM20 90h22v2h-22zM128 90h18v2h-18zM104 90h2v2h-2zM184 90h2v2h-2zM22 92h4v2h-4zM58 92h30v2h-30zM122 92h18v2h-18zM90 92h28v2h-28zM168 92h14v2h-14zM32 92h2v2h-2zM142 92h4v2h-4zM58 94h70v2h-70zM168 94h18v4h-18zM194 96h2v2h-2zM58 96h32v2h-32zM202 98h4v2h-4zM192 98h4v2h-4zM170 98h18v2h-18zM58 98h20v2h-20zM172 100h34v2h-34zM58 100h18v2h-18zM62 102h12v2h-12zM178 102h30v2h-30zM180 104h26v2h-26zM64 104h8v4h-8zM184 106h22v2h-22zM66 108h4v2h-4zM186 108h22v2h-22zM190 110h22v2h-22zM190 112h24v2h-24zM186 114h4v2h-4zM192 114h24v2h-24zM198 116h20v2h-20zM402 116h2v2h-2zM200 118h18v4h-18zM400 118h2v4h-2zM400 122h4v2h-4zM402 124h2v2h-2zM200 122h16v6h-16zM194 126h2v2h-2zM194 128h18v2h-18zM184 130h2v2h-2zM194 130h14v4h-14zM182 132h6v2h-6zM180 134h28v4h-28zM178 138h30v4h-30zM172 142h38v4h-38zM222 146h2v2h-2zM190 146h26v2h-26zM168 146h20v2h-20zM192 148h26v2h-26zM222 148h4v2h-4zM162 148h22v2h-22zM158 150h12v2h-12zM190 150h36v2h-36zM190 152h42v2h-42zM166 152h2v2h-2zM158 152h6v4h-6zM192 154h6v2h-6zM200 154h32v2h-32zM252 156h2v2h-2zM202 156h30v2h-30zM158 156h4v2h-4zM234 156h2v2h-2zM156 158h6v2h-6zM244 158h2v2h-2zM202 158h34v4h-34zM154 160h8v2h-8zM154 162h6v2h-6zM204 162h32v4h-32zM152 164h8v4h-8zM206 166h32v2h-32zM208 168h34v2h-34zM150 168h10v2h-10zM218 170h26v2h-26zM150 170h8v2h-8zM218 172h22v2h-22zM148 172h12v2h-12zM244 172h4v2h-4zM218 174h28v2h-28zM150 174h10v4h-10zM220 176h32v2h-32zM224 178h28v2h-28zM150 178h12v4h-12zM228 180h6v2h-6zM238 180h14v4h-14zM164 182h2v2h-2zM232 182h4v2h-4zM148 182h14v2h-14zM264 180h4v6h-4zM150 184h18v2h-18zM234 184h18v2h-18zM238 186h2v2h-2zM118 186h6v2h-6zM264 186h2v2h-2zM126 186h6v2h-6zM244 186h8v2h-8zM150 186h16v2h-16zM116 188h18v2h-18zM246 188h6v2h-6zM150 188h18v4h-18zM246 190h4v2h-4zM114 190h20v2h-20zM114 192h22v2h-22zM148 192h20v2h-20zM146 194h16v2h-16zM116 194h22v4h-22zM170 198h2v2h-2zM114 198h22v2h-22zM146 196h6v6h-6zM114 200h20v2h-20zM116 202h18v2h-18zM144 202h8v2h-8zM110 202h2v2h-2zM142 204h10v2h-10zM172 204h6v2h-6zM122 204h4v2h-4zM132 204h2v2h-2zM128 206h6v2h-6zM140 206h12v2h-12zM170 206h12v2h-12zM170 208h14v2h-14zM128 208h8v2h-8zM140 208h14v4h-14zM168 210h16v2h-16zM364 210h2v2h-2zM166 212h10v2h-10zM182 212h4v2h-4zM130 210h6v6h-6zM142 212h12v4h-12zM180 214h6v2h-6zM166 214h12v2h-12zM362 212h4v6h-4zM134 216h2v2h-2zM146 216h12v2h-12zM162 216h24v2h-24zM148 218h42v2h-42zM364 218h2v2h-2zM150 220h42v2h-42zM152 222h42v2h-42zM164 224h38v2h-38zM154 224h8v2h-8zM156 226h4v2h-4zM170 226h32v4h-32zM168 230h10v2h-10zM188 230h18v2h-18zM188 232h20v2h-20zM174 232h2v2h-2zM190 234h26v2h-26zM192 236h24v2h-24zM192 238h18v2h-18zM194 240h16v2h-16zM186 240h2v4h-2zM194 242h10v2h-10zM234 242h2v4h-2zM194 244h8v2h-8zM190 246h12v4h-12zM190 250h14v2h-14zM184 252h20v2h-20zM186 254h18v2h-18zM186 256h20v2h-20zM230 258h12v2h-12zM186 258h22v2h-22zM226 260h18v2h-18zM192 260h16v2h-16zM212 260h12v2h-12zM192 262h56v2h-56zM206 264h44v2h-44zM258 264h2v4h-2zM230 266h22v2h-22zM234 268h20v2h-20zM244 270h10v2h-10zM250 272h8v2h-8zM252 274h8v2h-8zM252 276h6v2h-6zM252 278h8v2h-8zM252 280h12v2h-12zM252 282h16v2h-16zM264 284h4v4h-4zM252 284h6v6h-6zM250 290h8v2h-8zM262 288h4v6h-4zM252 292h4v4h-4zM264 294h4v2h-4zM246 294h2v2h-2zM252 296h6v2h-6zM252 298h4v2h-4zM262 296h6v6h-6zM252 300h6v4h-6zM262 302h8v4h-8zM246 304h10v2h-10zM258 304h2v2h-2zM248 306h8v2h-8zM246 308h4v2h-4zM252 308h4v2h-4zM260 306h10v6h-10zM246 310h10v2h-10zM260 312h4v2h-4zM244 312h12v2h-12zM266 312h4v4h-4zM242 314h12v2h-12zM268 316h2v2h-2zM72 316h2v2h-2zM242 316h14v4h-14zM72 318h4v2h-4zM70 320h8v2h-8zM240 320h14v2h-14zM68 322h10v2h-10zM240 322h16v2h-16zM262 314h2v12h-2zM244 324h12v2h-12zM70 324h8v4h-8zM260 326h4v2h-4zM246 326h10v4h-10zM260 328h6v4h-6zM272 330h2v2h-2zM244 330h12v2h-12zM246 332h20v2h-20zM272 332h4v2h-4zM290 332h4v4h-4zM246 334h22v2h-22zM270 334h6v4h-6zM244 336h24v2h-24zM244 338h32v2h-32zM246 340h30v2h-30zM284 340h2v4h-2zM290 340h2v4h-2zM244 342h32v2h-32zM244 344h30v2h-30zM300 344h2v2h-2zM284 344h8v2h-8zM298 346h4v2h-4zM284 346h10v2h-10zM258 346h12v2h-12zM244 346h12v2h-12zM258 348h4v2h-4zM246 348h10v2h-10zM316 348h2v2h-2zM264 348h6v2h-6zM284 348h12v2h-12zM298 348h6v4h-6zM316 350h4v2h-4zM248 350h8v2h-8zM294 350h2v2h-2zM284 350h8v2h-8zM246 352h10v2h-10zM272 346h4v10h-4zM258 350h10v6h-10zM230 350h2v6h-2zM296 352h8v4h-8zM318 352h2v4h-2zM244 354h12v2h-12zM284 352h6v6h-6zM294 356h4v2h-4zM248 356h8v2h-8zM302 356h2v2h-2zM258 356h2v2h-2zM262 356h12v2h-12zM262 358h14v2h-14zM300 358h2v2h-2zM284 358h12v4h-12zM278 360h2v2h-2zM300 360h4v2h-4zM264 360h12v2h-12zM236 360h4v2h-4zM316 356h4v8h-4zM234 362h6v2h-6zM264 362h16v2h-16zM300 362h2v2h-2zM284 362h8v2h-8zM246 358h14v8h-14zM294 362h2v4h-2zM234 364h4v2h-4zM284 364h6v2h-6zM346 364h2v2h-2zM262 364h12v2h-12zM276 364h4v4h-4zM246 366h22v2h-22zM284 366h4v2h-4zM344 366h4v4h-4zM234 366h2v4h-2zM276 368h6v4h-6zM244 368h16v4h-16zM284 368h8v4h-8zM234 370h8v2h-8zM262 368h4v6h-4zM256 372h4v2h-4zM290 372h2v2h-2zM276 372h4v2h-4zM284 372h4v2h-4zM232 372h20v4h-20zM20 372h2v4h-2zM286 374h2v2h-2zM256 374h10v2h-10zM8 376h6v2h-6zM234 376h18v2h-18zM256 376h8v4h-8zM290 376h2v4h-2zM236 378h12v2h-12zM10 378h4v2h-4zM278 374h2v8h-2zM238 380h8v2h-8zM252 380h10v2h-10zM288 380h4v2h-4zM276 382h4v2h-4zM238 382h6v2h-6zM286 382h6v2h-6zM256 382h6v2h-6zM258 384h6v2h-6zM240 384h4v2h-4zM278 384h2v4h-2zM252 386h12v2h-12zM246 388h20v2h-20zM276 388h4v4h-4zM272 390h2v2h-2zM248 390h8v2h-8zM260 390h6v2h-6zM244 390h2v2h-2zM250 392h6v2h-6zM262 392h4v2h-4zM288 384h4v12h-4zM258 394h10v2h-10zM252 394h4v2h-4zM286 396h4v2h-4zM270 392h10v8h-10zM228 396h2v4h-2zM252 396h16v4h-16zM242 398h4v2h-4zM242 400h6v2h-6zM226 400h2v2h-2zM252 400h4v2h-4zM224 402h6v2h-6zM258 400h22v6h-22zM338 402h2v6h-2zM240 402h16v6h-16zM222 404h8v4h-8zM262 406h16v2h-16zM220 408h12v2h-12zM236 408h2v2h-2zM338 408h4v2h-4zM242 408h14v2h-14zM268 408h10v2h-10zM340 410h2v2h-2zM266 410h12v2h-12zM222 410h16v2h-16zM104 412h4v2h-4zM224 412h2v2h-2zM256 412h4v2h-4zM230 412h8v2h-8zM376 410h2v6h-2zM244 410h2v6h-2zM264 412h12v4h-12zM234 414h4v2h-4zM112 414h4v2h-4zM102 414h8v2h-8zM252 414h8v4h-8zM102 416h6v2h-6zM234 416h2v2h-2zM112 416h6v2h-6zM264 416h10v2h-10zM242 416h4v2h-4zM102 418h18v2h-18zM242 418h2v2h-2zM264 418h6v2h-6zM246 418h14v2h-14zM246 420h4v2h-4zM252 420h22v2h-22zM108 420h14v2h-14zM230 420h2v4h-2zM98 422h4v2h-4zM252 422h20v2h-20zM246 422h2v4h-2zM106 422h20v4h-20zM98 424h6v2h-6zM252 424h18v2h-18zM228 424h2v2h-2zM248 426h18v2h-18zM234 426h2v2h-2zM114 426h12v2h-12zM116 428h10v2h-10zM246 428h20v2h-20zM232 428h4v2h-4zM118 430h10v2h-10zM232 430h34v2h-34zM460 430h2v2h-2zM236 432h30v2h-30zM120 432h8v2h-8zM464 434h2v2h-2zM228 434h2v2h-2zM124 434h4v2h-4zM126 436h2v2h-2zM464 438h4v2h-4zM466 440h2v2h-2zM238 434h28v10h-28zM222 442h2v2h-2zM2 442h2v2h-2zM468 444h2v2h-2zM234 444h32v2h-32zM222 444h4v2h-4zM0 444h8v2h-8zM270 444h2v4h-2zM232 446h6v2h-6zM220 446h8v2h-8zM0 446h10v2h-10zM466 446h2v2h-2zM240 446h26v2h-26zM276 446h2v4h-2zM240 448h32v2h-32zM218 448h20v2h-20zM0 448h12v2h-12zM240 450h36v2h-36zM218 450h2v2h-2zM0 450h16v2h-16zM222 450h16v4h-16zM202 452h4v2h-4zM0 452h22v2h-22zM240 452h38v2h-38zM0 454h24v2h-24zM218 454h8v2h-8zM230 454h48v2h-48zM468 454h2v4h-2zM0 456h2v2h-2zM228 456h38v2h-38zM218 456h6v2h-6zM4 456h22v2h-22zM270 456h8v2h-8zM268 458h8v2h-8zM470 458h4v2h-4zM6 458h20v2h-20zM326 458h4v2h-4zM218 458h20v2h-20zM240 458h26v2h-26zM210 460h66v2h-66zM328 460h2v2h-2zM54 460h2v2h-2zM204 460h2v2h-2zM6 460h18v2h-18zM8 462h18v2h-18zM210 462h54v2h-54zM324 460h2v6h-2zM266 462h10v4h-10zM476 462h2v4h-2zM472 464h2v2h-2zM10 464h18v2h-18zM328 464h2v2h-2zM204 464h60v2h-60zM268 466h8v2h-8zM204 466h58v2h-58zM326 466h4v2h-4zM10 466h24v2h-24zM10 468h26v2h-26zM436 468h4v2h-4zM472 468h2v4h-2zM268 468h6v4h-6zM208 468h54v4h-54zM478 470h2v2h-2zM442 470h2v2h-2zM12 470h22v4h-22zM438 472h2v2h-2zM210 472h52v2h-52zM266 472h8v2h-8zM18 474h16v2h-16zM268 474h4v2h-4zM210 474h48v2h-48zM440 474h2v2h-2zM448 474h2v2h-2zM270 476h2v2h-2zM212 476h46v2h-46zM450 476h2v2h-2zM260 474h2v6h-2zM20 476h16v4h-16zM208 478h50v2h-50zM446 478h2v2h-2zM452 478h2v4h-2zM206 480h52v2h-52zM16 480h16v2h-16zM214 482h44v2h-44zM14 482h18v2h-18zM52 484h2v2h-2zM216 484h44v2h-44zM200 482h12v6h-12zM14 484h16v4h-16zM250 486h8v2h-8zM252 488h6v2h-6zM58 488h4v2h-4zM10 488h20v2h-20zM198 488h14v2h-14zM216 486h32v6h-32zM56 490h12v2h-12zM198 490h2v2h-2zM202 490h8v2h-8zM10 490h16v2h-16zM44 490h2v4h-2zM60 492h8v2h-8zM198 492h40v2h-40zM54 492h2v2h-2zM240 492h8v2h-8zM256 490h2v6h-2zM12 492h14v4h-14zM264 494h4v2h-4zM34 494h6v4h-6zM240 494h6v4h-6zM62 494h6v4h-6zM202 494h36v4h-36zM12 496h2v2h-2zM262 496h6v2h-6zM256 496h4v2h-4zM16 496h10v2h-10zM52 494h4v6h-4zM46 498h2v2h-2zM60 498h12v2h-12zM200 498h36v2h-36zM14 498h14v2h-14zM242 498h4v2h-4zM256 498h12v4h-12zM188 498h4v4h-4zM14 500h12v2h-12zM46 500h10v2h-10zM34 500h2v2h-2zM60 500h18v2h-18zM198 500h4v2h-4zM204 500h32v2h-32zM48 502h8v2h-8zM28 502h10v2h-10zM16 502h8v2h-8zM234 502h2v2h-2zM60 502h20v2h-20zM206 502h4v2h-4zM390 502h6v2h-6zM244 502h2v2h-2zM254 502h14v4h-14zM12 504h14v2h-14zM48 504h32v2h-32zM28 504h12v2h-12zM244 504h4v2h-4zM396 504h2v2h-2zM390 504h2v2h-2zM198 502h2v6h-2zM214 502h16v6h-16zM206 504h2v4h-2zM12 506h28v2h-28zM64 506h10v2h-10zM46 506h14v2h-14zM398 506h2v2h-2zM214 508h14v2h-14zM14 508h48v2h-48zM392 508h2v2h-2zM92 508h6v2h-6zM64 508h8v2h-8zM196 508h6v2h-6zM204 508h6v2h-6zM252 506h16v6h-16zM216 510h12v2h-12zM196 510h18v2h-18zM14 510h60v2h-60zM394 510h2v2h-2zM242 506h6v8h-6zM16 512h58v2h-58zM198 512h14v2h-14zM216 512h10v2h-10zM252 512h12v2h-12zM398 512h2v2h-2zM234 514h4v2h-4zM200 514h26v2h-26zM252 514h8v2h-8zM242 514h4v2h-4zM18 514h54v4h-54zM252 516h10v2h-10zM242 516h6v2h-6zM268 516h2v2h-2zM202 516h36v4h-36zM266 518h6v2h-6zM66 518h4v2h-4zM72 518h4v2h-4zM250 518h14v2h-14zM44 518h20v2h-20zM244 518h4v2h-4zM250 520h24v2h-24zM228 520h10v2h-10zM46 520h12v2h-12zM70 520h6v2h-6zM244 520h2v2h-2zM18 518h22v6h-22zM204 520h22v4h-22zM58 522h4v2h-4zM70 522h8v2h-8zM46 522h10v2h-10zM106 522h2v2h-2zM64 522h2v2h-2zM242 522h4v2h-4zM230 522h6v2h-6zM48 524h8v2h-8zM74 524h4v2h-4zM102 524h6v2h-6zM18 524h20v2h-20zM242 524h6v2h-6zM62 524h6v2h-6zM206 524h20v2h-20zM268 522h6v6h-6zM232 524h4v4h-4zM76 526h2v2h-2zM16 526h20v2h-20zM102 526h8v2h-8zM240 526h8v2h-8zM208 526h18v2h-18zM250 522h10v8h-10zM70 524h2v6h-2zM278 526h2v4h-2zM50 526h16v4h-16zM268 528h8v2h-8zM100 528h8v2h-8zM110 528h6v2h-6zM76 528h4v2h-4zM210 528h8v2h-8zM230 528h18v2h-18zM262 528h4v2h-4zM14 528h22v2h-22z"/>
<path fill="#ffd000" d="M0 0h8v2h-8zM10 0h46v4h-46zM0 2h6v2h-6zM0 4h56v2h-56zM66 8h2v2h-2zM0 6h50v8h-50zM0 14h48v2h-48zM44 16h4v2h-4zM0 16h38v4h-38zM0 20h36v4h-36zM0 24h34v2h-34zM0 26h32v2h-32zM0 28h34v2h-34zM0 30h32v4h-32zM0 34h34v4h-34zM56 36h4v4h-4zM0 38h8v2h-8zM12 38h20v4h-20zM6 40h2v2h-2zM4 42h24v4h-24zM52 46h12v2h-12zM4 46h22v2h-22zM2 48h16v2h-16zM20 48h6v2h-6zM50 48h14v2h-14zM0 50h18v2h-18zM244 50h2v2h-2zM22 50h4v2h-4zM48 50h16v2h-16zM46 52h20v2h-20zM0 52h24v4h-24zM40 54h28v4h-28zM0 56h28v2h-28zM44 58h24v2h-24zM0 58h34v2h-34zM42 60h24v4h-24zM44 64h22v2h-22zM44 66h2v2h-2zM50 66h16v2h-16zM0 60h36v12h-36zM50 68h18v4h-18zM48 72h16v2h-16zM0 72h28v4h-28zM44 74h16v2h-16zM0 76h26v2h-26zM44 76h18v2h-18zM50 78h8v2h-8zM60 78h2v4h-2zM0 78h20v6h-20zM60 82h4v2h-4zM58 84h6v2h-6zM0 84h16v4h-16zM160 86h4v2h-4zM0 88h18v2h-18zM156 88h10v2h-10zM52 88h4v2h-4zM0 90h20v2h-20zM146 90h20v2h-20zM42 90h14v2h-14zM10 92h12v2h-12zM0 92h8v2h-8zM146 92h22v2h-22zM140 92h2v2h-2zM34 92h24v2h-24zM26 92h6v2h-6zM128 94h40v2h-40zM12 94h46v2h-46zM20 96h18v2h-18zM40 96h18v2h-18zM90 96h78v2h-78zM158 98h12v2h-12zM78 98h50v2h-50zM44 98h14v2h-14zM134 98h20v2h-20zM50 100h8v2h-8zM102 100h4v2h-4zM76 100h14v2h-14zM144 100h10v2h-10zM156 100h16v2h-16zM52 102h10v2h-10zM74 102h12v2h-12zM152 102h26v2h-26zM52 104h12v2h-12zM154 104h26v2h-26zM72 104h10v2h-10zM158 106h26v2h-26zM72 106h8v2h-8zM54 106h10v2h-10zM160 108h26v2h-26zM56 108h10v2h-10zM70 108h8v2h-8zM56 110h20v2h-20zM166 110h24v4h-24zM58 112h16v2h-16zM190 114h2v2h-2zM166 114h20v2h-20zM58 114h14v4h-14zM166 116h32v2h-32zM60 118h10v2h-10zM402 118h2v4h-2zM62 120h6v2h-6zM164 118h36v6h-36zM64 122h4v2h-4zM162 124h38v2h-38zM164 126h30v2h-30zM196 126h4v2h-4zM166 128h28v2h-28zM166 130h18v2h-18zM186 130h8v2h-8zM166 132h16v2h-16zM188 132h6v2h-6zM164 134h16v4h-16zM160 138h18v4h-18zM158 142h14v2h-14zM156 144h16v2h-16zM154 146h14v2h-14zM64 146h2v2h-2zM154 148h8v2h-8zM152 150h6v6h-6zM150 156h8v2h-8zM150 158h6v2h-6zM148 160h6v4h-6zM144 164h8v4h-8zM144 168h6v2h-6zM142 170h8v2h-8zM142 172h6v2h-6zM144 174h6v2h-6zM120 178h8v2h-8zM142 176h8v6h-8zM116 180h20v2h-20zM112 182h36v2h-36zM110 184h40v2h-40zM110 186h8v2h-8zM124 186h2v2h-2zM132 186h18v2h-18zM108 188h8v2h-8zM134 188h16v4h-16zM106 190h8v4h-8zM136 192h12v2h-12zM106 194h10v4h-10zM138 194h8v4h-8zM104 198h10v2h-10zM136 198h10v2h-10zM102 200h12v2h-12zM134 200h12v2h-12zM104 202h6v2h-6zM134 202h10v2h-10zM112 202h4v2h-4zM126 204h6v2h-6zM134 204h8v2h-8zM102 204h20v2h-20zM134 206h6v2h-6zM98 206h30v2h-30zM96 208h32v2h-32zM136 208h4v4h-4zM98 210h32v2h-32zM100 212h30v4h-30zM136 212h6v4h-6zM100 216h34v2h-34zM136 216h10v2h-10zM104 218h2v2h-2zM108 218h40v2h-40zM108 220h42v2h-42zM110 222h42v2h-42zM112 224h42v2h-42zM162 224h2v2h-2zM160 226h10v2h-10zM110 226h46v2h-46zM110 228h60v2h-60zM108 230h60v2h-60zM178 230h10v2h-10zM106 232h68v2h-68zM176 232h12v2h-12zM98 232h2v2h-2zM98 234h92v2h-92zM96 236h96v2h-96zM118 238h14v2h-14zM138 238h4v2h-4zM148 238h44v2h-44zM92 238h20v2h-20zM92 240h18v2h-18zM120 240h12v2h-12zM140 240h2v2h-2zM148 240h38v2h-38zM188 240h6v4h-6zM112 242h2v2h-2zM94 242h16v2h-16zM154 242h32v2h-32zM122 242h8v2h-8zM94 244h24v2h-24zM124 244h8v2h-8zM154 244h40v2h-40zM96 246h36v2h-36zM156 246h34v2h-34zM116 248h14v2h-14zM160 248h4v2h-4zM110 248h2v2h-2zM168 248h22v2h-22zM116 250h12v2h-12zM164 250h26v2h-26zM164 252h20v2h-20zM116 252h10v2h-10zM164 254h22v4h-22zM166 258h20v2h-20zM178 260h14v2h-14zM180 262h12v2h-12zM182 264h24v2h-24zM186 266h44v2h-44zM192 268h42v2h-42zM200 270h44v2h-44zM194 270h4v2h-4zM212 272h38v2h-38zM202 272h6v2h-6zM214 274h38v2h-38zM234 276h18v2h-18zM220 276h8v2h-8zM236 278h16v4h-16zM226 282h2v2h-2zM234 282h18v2h-18zM222 282h2v2h-2zM224 284h28v2h-28zM222 286h30v4h-30zM220 290h30v2h-30zM220 292h32v2h-32zM248 294h4v2h-4zM220 294h26v2h-26zM218 296h34v2h-34zM0 298h10v2h-10zM220 298h32v4h-32zM0 300h14v4h-14zM226 302h26v2h-26zM226 304h12v2h-12zM240 304h6v2h-6zM222 306h8v2h-8zM240 306h8v2h-8zM232 306h6v2h-6zM0 304h12v6h-12zM18 308h4v2h-4zM234 308h12v2h-12zM224 308h2v2h-2zM70 308h8v2h-8zM250 308h2v2h-2zM18 310h2v2h-2zM66 310h16v2h-16zM232 310h14v2h-14zM222 310h4v4h-4zM0 310h6v4h-6zM64 312h18v2h-18zM16 312h4v2h-4zM84 312h4v2h-4zM228 312h16v2h-16zM14 314h6v2h-6zM2 314h6v2h-6zM60 314h26v2h-26zM224 314h18v4h-18zM46 314h4v4h-4zM0 316h8v2h-8zM58 316h14v2h-14zM74 316h12v2h-12zM76 318h12v2h-12zM222 318h20v2h-20zM56 318h16v2h-16zM46 318h2v2h-2zM222 320h18v2h-18zM42 320h4v2h-4zM56 320h14v2h-14zM0 318h4v6h-4zM58 322h10v2h-10zM224 322h16v2h-16zM222 324h22v2h-22zM78 320h10v8h-10zM60 324h10v4h-10zM42 326h4v2h-4zM222 326h24v4h-24zM62 328h24v2h-24zM8 328h2v2h-2zM64 330h22v2h-22zM220 330h24v2h-24zM210 330h4v2h-4zM12 332h4v2h-4zM208 332h10v2h-10zM222 332h24v2h-24zM22 332h8v2h-8zM66 332h16v2h-16zM224 334h22v2h-22zM10 334h20v2h-20zM206 334h8v2h-8zM0 334h2v2h-2zM216 334h4v4h-4zM222 336h22v2h-22zM0 336h4v2h-4zM8 336h24v2h-24zM0 338h32v2h-32zM216 338h28v2h-28zM2 340h12v2h-12zM16 340h16v2h-16zM214 340h32v2h-32zM20 342h12v2h-12zM10 342h2v2h-2zM212 342h32v2h-32zM4 342h4v2h-4zM24 344h8v2h-8zM214 344h30v2h-30zM0 344h2v2h-2zM6 344h8v4h-8zM216 346h28v2h-28zM26 346h6v2h-6zM0 346h4v4h-4zM24 348h8v2h-8zM212 348h2v2h-2zM218 348h24v2h-24zM6 348h4v2h-4zM262 348h2v2h-2zM14 348h2v4h-2zM192 350h2v2h-2zM246 350h2v2h-2zM232 350h8v2h-8zM24 350h6v2h-6zM292 350h2v2h-2zM0 350h10v4h-10zM194 352h2v2h-2zM42 352h2v2h-2zM244 352h2v2h-2zM22 352h8v2h-8zM232 352h10v2h-10zM210 350h20v6h-20zM316 352h2v4h-2zM294 352h2v4h-2zM0 354h12v2h-12zM232 354h12v2h-12zM256 346h2v12h-2zM16 354h18v4h-18zM38 356h4v2h-4zM0 356h8v2h-8zM10 356h2v2h-2zM208 356h40v2h-40zM290 356h4v2h-4zM260 356h2v4h-2zM208 358h38v2h-38zM72 358h2v2h-2zM0 358h52v4h-52zM206 360h30v2h-30zM70 360h6v2h-6zM260 360h4v4h-4zM240 360h6v4h-6zM0 362h58v2h-58zM60 362h18v2h-18zM208 362h26v2h-26zM260 364h2v2h-2zM0 364h50v2h-50zM212 364h22v2h-22zM238 364h8v2h-8zM54 364h24v4h-24zM236 366h10v2h-10zM0 366h48v4h-48zM214 366h20v4h-20zM54 368h28v2h-28zM236 368h8v2h-8zM242 370h2v2h-2zM0 370h86v2h-86zM212 370h22v2h-22zM260 368h2v6h-2zM52 372h32v2h-32zM22 372h28v4h-28zM0 372h20v4h-20zM210 372h22v4h-22zM54 374h30v2h-30zM252 372h4v6h-4zM54 376h34v2h-34zM0 376h8v2h-8zM14 376h36v2h-36zM210 376h24v2h-24zM0 378h10v2h-10zM248 378h8v2h-8zM206 378h30v2h-30zM14 378h32v2h-32zM52 378h36v2h-36zM50 380h40v2h-40zM246 380h6v2h-6zM0 380h44v4h-44zM206 380h32v4h-32zM244 382h12v2h-12zM52 382h40v2h-40zM50 384h8v2h-8zM60 384h32v2h-32zM204 384h36v2h-36zM244 384h14v2h-14zM204 386h48v2h-48zM50 386h42v2h-42zM0 384h46v6h-46zM204 388h42v2h-42zM48 388h8v2h-8zM60 388h34v2h-34zM246 390h2v2h-2zM214 390h30v2h-30zM60 390h36v2h-36zM0 390h56v2h-56zM208 390h4v2h-4zM256 390h4v2h-4zM256 392h6v2h-6zM216 392h34v2h-34zM36 392h62v2h-62zM0 392h32v4h-32zM36 394h22v2h-22zM218 394h34v2h-34zM256 394h2v2h-2zM62 394h36v2h-36zM56 396h44v2h-44zM214 396h14v2h-14zM0 396h54v2h-54zM230 396h22v2h-22zM212 398h16v2h-16zM230 398h12v2h-12zM246 398h6v2h-6zM0 398h52v2h-52zM58 398h44v2h-44zM248 400h4v2h-4zM82 400h14v2h-14zM60 400h20v2h-20zM228 400h14v2h-14zM212 400h14v2h-14zM36 400h14v2h-14zM0 400h24v2h-24zM98 400h6v2h-6zM26 400h8v4h-8zM100 402h10v2h-10zM212 402h12v2h-12zM36 402h12v2h-12zM90 402h4v2h-4zM2 402h22v2h-22zM256 400h2v6h-2zM86 402h2v4h-2zM62 402h20v4h-20zM98 404h18v2h-18zM216 404h6v2h-6zM2 404h20v2h-20zM210 404h4v2h-4zM92 404h2v2h-2zM230 402h10v6h-10zM28 404h18v4h-18zM96 406h24v2h-24zM206 406h16v2h-16zM4 406h14v2h-14zM60 406h10v2h-10zM50 406h2v2h-2zM72 406h16v2h-16zM256 406h6v2h-6zM130 406h8v2h-8zM256 408h12v2h-12zM60 408h24v2h-24zM4 408h10v2h-10zM90 408h48v2h-48zM28 408h16v2h-16zM16 408h2v2h-2zM232 408h4v2h-4zM160 408h10v2h-10zM176 408h2v2h-2zM202 408h18v2h-18zM238 408h4v2h-4zM198 408h2v2h-2zM4 410h2v2h-2zM246 410h20v2h-20zM148 410h24v2h-24zM80 410h4v2h-4zM88 410h48v2h-48zM194 410h28v2h-28zM24 410h20v2h-20zM8 410h12v2h-12zM62 410h14v2h-14zM174 410h4v2h-4zM70 412h34v2h-34zM246 412h10v2h-10zM62 412h2v2h-2zM108 412h34v2h-34zM148 412h30v2h-30zM194 412h30v2h-30zM226 412h4v2h-4zM238 410h6v6h-6zM10 412h36v4h-36zM148 414h10v2h-10zM110 414h2v2h-2zM184 414h50v2h-50zM70 414h32v2h-32zM116 414h28v2h-28zM162 414h18v2h-18zM246 414h6v4h-6zM236 416h6v2h-6zM108 416h4v2h-4zM72 416h2v2h-2zM140 416h94v2h-94zM118 416h18v2h-18zM12 416h36v2h-36zM260 412h4v8h-4zM80 416h22v4h-22zM140 418h8v2h-8zM150 418h92v2h-92zM244 418h2v2h-2zM120 418h16v2h-16zM14 418h34v2h-34zM150 420h80v2h-80zM14 420h32v2h-32zM78 420h30v2h-30zM8 420h2v2h-2zM122 420h26v2h-26zM250 420h2v2h-2zM0 418h2v6h-2zM232 420h14v4h-14zM78 422h20v2h-20zM152 422h78v2h-78zM126 422h24v2h-24zM102 422h4v2h-4zM4 422h48v2h-48zM248 422h4v4h-4zM104 424h2v2h-2zM8 424h44v2h-44zM230 424h16v2h-16zM152 424h76v2h-76zM76 424h22v2h-22zM126 424h20v4h-20zM74 426h16v2h-16zM148 426h54v2h-54zM14 426h36v2h-36zM210 426h24v2h-24zM236 426h12v2h-12zM94 426h20v2h-20zM236 428h10v2h-10zM96 428h20v2h-20zM36 428h12v2h-12zM172 428h30v2h-30zM72 428h16v2h-16zM126 428h44v2h-44zM16 428h18v2h-18zM210 428h22v4h-22zM172 430h32v2h-32zM16 430h4v2h-4zM58 430h2v2h-2zM98 430h20v2h-20zM42 430h6v2h-6zM22 430h16v2h-16zM64 430h24v2h-24zM128 430h42v2h-42zM0 424h4v10h-4zM26 432h12v2h-12zM462 432h2v2h-2zM100 432h20v2h-20zM44 432h8v2h-8zM128 432h108v2h-108zM56 432h32v4h-32zM20 434h4v2h-4zM230 434h8v2h-8zM128 434h48v2h-48zM180 434h48v2h-48zM38 434h16v2h-16zM106 434h18v2h-18zM30 434h6v2h-6zM0 434h16v4h-16zM128 436h40v2h-40zM28 436h8v2h-8zM172 436h4v2h-4zM38 436h52v2h-52zM110 436h16v2h-16zM22 436h4v2h-4zM112 438h64v2h-64zM22 438h6v2h-6zM0 438h20v2h-20zM36 438h54v2h-54zM30 438h2v2h-2zM180 436h58v6h-58zM168 440h8v2h-8zM36 440h50v2h-50zM112 440h30v2h-30zM144 440h18v2h-18zM0 440h28v2h-28zM4 442h24v2h-24zM224 442h14v2h-14zM170 442h52v2h-52zM38 442h44v2h-44zM114 442h28v2h-28zM468 442h2v2h-2zM0 442h2v2h-2zM146 442h16v2h-16zM466 444h2v2h-2zM226 444h8v2h-8zM112 444h2v2h-2zM126 444h10v2h-10zM138 444h4v2h-4zM36 444h46v2h-46zM152 444h10v2h-10zM8 444h20v2h-20zM120 444h2v2h-2zM168 444h54v2h-54zM164 446h56v2h-56zM118 446h6v2h-6zM154 446h4v2h-4zM128 446h8v2h-8zM228 446h4v2h-4zM140 446h2v2h-2zM110 446h6v2h-6zM10 446h70v2h-70zM110 448h4v2h-4zM12 448h66v2h-66zM122 448h2v2h-2zM162 448h56v2h-56zM130 448h4v2h-4zM154 448h6v2h-6zM466 448h4v4h-4zM16 450h60v2h-60zM116 450h2v2h-2zM152 450h66v2h-66zM220 450h2v2h-2zM238 446h2v8h-2zM206 452h16v2h-16zM152 452h2v2h-2zM22 452h52v2h-52zM158 452h44v2h-44zM114 452h4v4h-4zM158 454h60v2h-60zM92 454h4v2h-4zM24 454h50v2h-50zM226 454h4v2h-4zM166 456h52v2h-52zM26 456h48v2h-48zM224 456h4v2h-4zM94 456h4v2h-4zM472 456h2v2h-2zM238 458h2v2h-2zM96 458h2v2h-2zM26 458h46v2h-46zM172 458h46v2h-46zM24 460h30v2h-30zM206 460h4v2h-4zM472 460h4v2h-4zM326 460h2v2h-2zM56 460h16v2h-16zM174 460h30v2h-30zM326 462h4v2h-4zM176 462h34v2h-34zM26 462h42v2h-42zM326 464h2v2h-2zM180 464h24v2h-24zM28 464h40v2h-40zM182 466h22v2h-22zM474 466h4v2h-4zM34 466h36v2h-36zM36 468h34v2h-34zM174 468h2v2h-2zM182 468h26v4h-26zM438 470h4v2h-4zM170 470h10v2h-10zM478 472h2v2h-2zM444 472h2v2h-2zM174 472h36v2h-36zM474 472h2v2h-2zM34 470h38v6h-38zM174 474h2v2h-2zM442 474h2v2h-2zM446 474h2v2h-2zM178 474h32v2h-32zM480 474h2v4h-2zM174 476h38v2h-38zM448 476h2v2h-2zM476 476h2v2h-2zM444 476h2v2h-2zM82 476h2v2h-2zM36 476h36v2h-36zM178 478h30v2h-30zM36 478h50v2h-50zM448 478h4v2h-4zM172 478h2v2h-2zM176 480h30v2h-30zM122 480h2v2h-2zM168 480h6v2h-6zM128 480h2v2h-2zM32 480h52v4h-52zM116 482h12v2h-12zM212 482h2v2h-2zM130 482h4v2h-4zM166 482h34v4h-34zM54 484h30v2h-30zM30 484h22v2h-22zM112 484h10v2h-10zM158 484h2v2h-2zM132 484h2v2h-2zM104 484h4v2h-4zM30 486h56v2h-56zM102 486h20v2h-20zM158 486h6v2h-6zM168 486h32v2h-32zM212 484h4v6h-4zM168 488h30v2h-30zM62 488h24v2h-24zM150 488h2v2h-2zM154 488h10v2h-10zM98 488h24v2h-24zM30 488h28v2h-28zM96 490h34v2h-34zM46 490h10v2h-10zM200 490h2v2h-2zM210 490h6v2h-6zM136 490h2v2h-2zM146 490h2v2h-2zM68 490h22v2h-22zM152 490h46v4h-46zM26 490h18v4h-18zM68 492h24v2h-24zM134 492h4v2h-4zM46 492h8v2h-8zM56 492h4v2h-4zM96 492h36v2h-36zM96 494h106v2h-106zM68 494h26v2h-26zM56 494h6v4h-6zM26 494h8v4h-8zM40 494h12v4h-12zM68 496h84v2h-84zM162 496h40v2h-40zM28 498h18v2h-18zM162 498h26v2h-26zM72 498h60v2h-60zM48 498h4v2h-4zM134 498h16v2h-16zM192 498h8v2h-8zM78 500h72v2h-72zM26 500h8v2h-8zM192 500h6v2h-6zM160 500h28v2h-28zM36 500h10v2h-10zM56 498h4v6h-4zM38 502h10v2h-10zM80 502h68v2h-68zM158 502h40v2h-40zM210 502h4v2h-4zM24 502h4v2h-4zM154 504h44v2h-44zM136 504h14v2h-14zM80 504h52v2h-52zM392 504h4v2h-4zM26 504h2v2h-2zM40 504h8v2h-8zM208 504h2v4h-2zM392 506h2v2h-2zM40 506h6v2h-6zM136 506h62v2h-62zM74 506h58v2h-58zM60 506h4v2h-4zM212 508h2v2h-2zM72 508h20v2h-20zM62 508h2v2h-2zM398 508h2v2h-2zM394 508h2v2h-2zM98 508h98v2h-98zM396 510h4v2h-4zM74 510h122v2h-122zM160 512h38v2h-38zM74 512h66v2h-66zM144 512h10v2h-10zM138 514h2v2h-2zM160 514h40v2h-40zM146 514h2v2h-2zM72 514h62v4h-62zM160 516h42v2h-42zM70 518h2v2h-2zM40 518h4v2h-4zM64 518h2v2h-2zM166 518h36v2h-36zM76 518h56v4h-56zM58 520h12v2h-12zM168 520h36v2h-36zM40 520h6v4h-6zM56 522h2v2h-2zM108 522h24v2h-24zM174 522h8v2h-8zM78 522h28v2h-28zM62 522h2v2h-2zM186 522h18v2h-18zM66 522h4v2h-4zM162 522h6v2h-6zM56 524h6v2h-6zM38 524h10v2h-10zM108 524h28v2h-28zM164 524h2v2h-2zM68 524h2v2h-2zM72 524h2v2h-2zM178 524h28v2h-28zM78 524h24v4h-24zM110 526h26v2h-26zM162 526h4v2h-4zM178 526h30v2h-30zM72 526h4v4h-4zM36 526h14v4h-14zM66 526h4v4h-4zM80 528h20v2h-20zM116 528h20v2h-20zM180 528h30v2h-30zM162 528h6v2h-6zM108 528h2v2h-2z"/>
<path fill="#ffb000" d="M8 38h4v4h-4zM0 40h6v2h-6zM0 42h4v6h-4zM0 48h2v2h-2zM8 92h2v2h-2zM0 94h12v2h-12zM0 96h20v2h-20zM38 96h2v2h-2zM128 98h6v2h-6zM154 98h4v2h-4zM0 98h44v2h-44zM106 100h38v2h-38zM90 100h12v2h-12zM154 100h2v2h-2zM0 100h2v2h-2zM16 100h34v2h-34zM6 100h2v2h-2zM86 102h26v2h-26zM128 102h24v2h-24zM34 102h18v2h-18zM82 104h8v2h-8zM102 104h2v2h-2zM44 104h8v2h-8zM136 104h18v2h-18zM80 106h8v2h-8zM46 106h8v2h-8zM142 106h16v2h-16zM48 108h8v2h-8zM78 108h6v2h-6zM142 108h18v2h-18zM76 110h6v2h-6zM50 110h6v2h-6zM142 110h24v4h-24zM74 112h8v2h-8zM50 112h8v6h-8zM72 114h10v4h-10zM144 114h22v4h-22zM50 118h10v2h-10zM70 118h12v2h-12zM52 120h10v2h-10zM144 118h20v6h-20zM68 120h14v4h-14zM54 122h10v2h-10zM136 122h2v2h-2zM142 124h20v2h-20zM54 124h26v2h-26zM142 126h22v2h-22zM54 126h24v2h-24zM144 128h22v2h-22zM56 128h20v2h-20zM142 130h24v2h-24zM52 130h24v2h-24zM52 132h26v2h-26zM140 132h26v2h-26zM132 134h2v2h-2zM50 134h32v2h-32zM138 134h26v4h-26zM130 136h6v2h-6zM50 136h34v2h-34zM138 138h22v2h-22zM122 138h14v4h-14zM142 140h18v2h-18zM46 138h38v6h-38zM146 142h12v2h-12zM122 142h16v2h-16zM48 144h38v2h-38zM116 144h22v2h-22zM144 144h12v2h-12zM142 146h12v2h-12zM50 146h14v2h-14zM66 146h20v2h-20zM112 146h24v2h-24zM50 148h38v2h-38zM140 148h14v2h-14zM112 148h22v4h-22zM140 150h12v2h-12zM56 150h34v2h-34zM58 152h34v2h-34zM142 152h10v2h-10zM110 152h22v2h-22zM110 154h20v2h-20zM136 154h16v2h-16zM60 154h26v2h-26zM110 156h22v2h-22zM136 156h14v2h-14zM60 156h24v2h-24zM134 158h16v2h-16zM108 158h24v4h-24zM134 160h14v2h-14zM110 162h38v2h-38zM110 164h34v2h-34zM108 166h36v4h-36zM108 170h34v4h-34zM108 174h36v2h-36zM110 176h32v2h-32zM110 178h10v2h-10zM128 178h14v2h-14zM108 180h8v2h-8zM136 180h6v2h-6zM106 182h6v2h-6zM104 184h6v4h-6zM102 188h6v2h-6zM98 190h8v2h-8zM96 192h10v2h-10zM94 194h12v4h-12zM92 198h12v2h-12zM92 200h10v2h-10zM92 202h12v2h-12zM90 204h12v2h-12zM90 206h8v2h-8zM90 208h6v2h-6zM90 210h8v2h-8zM92 212h8v4h-8zM94 216h6v2h-6zM106 218h2v2h-2zM94 218h10v2h-10zM96 220h12v2h-12zM94 222h16v2h-16zM94 224h18v2h-18zM92 226h18v2h-18zM90 228h20v2h-20zM88 230h20v2h-20zM100 232h6v2h-6zM86 232h12v4h-12zM86 236h10v2h-10zM132 238h6v2h-6zM86 238h6v2h-6zM112 238h6v2h-6zM142 238h6v4h-6zM110 240h10v2h-10zM88 240h4v2h-4zM132 240h8v2h-8zM110 242h2v2h-2zM114 242h8v2h-8zM130 242h24v2h-24zM88 242h6v4h-6zM132 244h22v2h-22zM118 244h6v2h-6zM132 246h24v2h-24zM88 246h8v2h-8zM130 248h30v2h-30zM164 248h4v2h-4zM112 248h4v2h-4zM88 248h22v2h-22zM128 250h36v2h-36zM92 250h24v2h-24zM94 252h22v2h-22zM126 252h38v2h-38zM142 254h22v2h-22zM100 254h38v2h-38zM102 256h34v2h-34zM144 256h20v2h-20zM146 258h20v2h-20zM106 258h26v2h-26zM150 260h28v2h-28zM108 260h24v2h-24zM154 262h26v2h-26zM110 262h22v2h-22zM112 264h18v2h-18zM156 264h26v2h-26zM118 266h10v2h-10zM12 266h2v2h-2zM166 266h20v2h-20zM172 268h4v2h-4zM180 268h12v2h-12zM4 268h4v2h-4zM122 268h4v2h-4zM118 268h2v2h-2zM2 270h6v2h-6zM198 270h2v2h-2zM180 270h14v2h-14zM180 272h22v2h-22zM208 272h4v2h-4zM16 272h4v2h-4zM2 272h8v2h-8zM22 272h2v2h-2zM0 274h12v2h-12zM180 274h34v2h-34zM16 274h22v2h-22zM54 274h4v2h-4zM52 276h6v2h-6zM178 276h42v2h-42zM46 276h2v2h-2zM228 276h6v2h-6zM14 276h28v2h-28zM0 276h10v4h-10zM14 278h46v2h-46zM176 278h54v4h-54zM234 278h2v4h-2zM224 282h2v2h-2zM174 282h48v2h-48zM228 282h6v2h-6zM0 280h62v6h-62zM174 284h50v2h-50zM176 286h46v2h-46zM0 286h58v4h-58zM178 288h44v2h-44zM176 290h44v2h-44zM0 290h54v4h-54zM180 292h40v4h-40zM0 294h56v2h-56zM0 296h60v2h-60zM180 296h38v2h-38zM178 298h42v2h-42zM10 298h50v2h-50zM78 300h2v2h-2zM14 300h50v2h-50zM180 300h40v2h-40zM86 302h4v2h-4zM14 302h70v2h-70zM180 302h46v4h-46zM12 304h82v2h-82zM100 304h2v2h-2zM238 304h2v4h-2zM182 306h40v2h-40zM230 306h2v2h-2zM12 306h92v2h-92zM12 308h6v2h-6zM22 308h48v2h-48zM182 308h42v2h-42zM78 308h24v2h-24zM226 308h8v2h-8zM182 310h40v2h-40zM226 310h6v2h-6zM20 310h46v2h-46zM6 310h12v2h-12zM82 310h22v2h-22zM184 312h38v2h-38zM6 312h10v2h-10zM82 312h2v2h-2zM88 312h22v2h-22zM20 312h44v2h-44zM226 312h2v2h-2zM50 314h10v2h-10zM0 314h2v2h-2zM8 314h6v2h-6zM86 314h24v2h-24zM20 314h26v2h-26zM218 314h6v4h-6zM8 316h38v2h-38zM86 316h16v2h-16zM122 316h4v2h-4zM104 316h6v2h-6zM50 316h8v2h-8zM184 314h30v6h-30zM48 318h8v2h-8zM218 318h4v2h-4zM4 318h42v2h-42zM106 318h4v2h-4zM184 320h38v2h-38zM4 320h38v2h-38zM120 320h6v2h-6zM108 320h6v2h-6zM46 320h10v2h-10zM88 318h10v6h-10zM110 322h16v2h-16zM182 322h42v2h-42zM4 322h54v2h-54zM176 324h46v2h-46zM0 324h60v2h-60zM112 324h12v2h-12zM88 324h8v4h-8zM114 326h2v2h-2zM0 326h42v2h-42zM46 326h14v2h-14zM178 326h44v4h-44zM0 328h8v2h-8zM10 328h52v2h-52zM86 328h10v2h-10zM54 330h10v2h-10zM86 330h8v2h-8zM214 330h6v2h-6zM176 330h34v2h-34zM0 330h48v2h-48zM178 332h16v2h-16zM0 332h12v2h-12zM82 332h8v2h-8zM16 332h6v2h-6zM30 332h16v2h-16zM218 332h4v2h-4zM196 332h12v2h-12zM54 332h12v2h-12zM220 334h4v2h-4zM196 334h10v2h-10zM214 334h2v2h-2zM60 334h30v2h-30zM30 334h10v2h-10zM2 334h8v2h-8zM180 334h14v2h-14zM62 336h28v2h-28zM4 336h4v2h-4zM220 336h2v2h-2zM178 336h38v4h-38zM32 336h8v4h-8zM64 338h26v2h-26zM0 340h2v2h-2zM178 340h36v2h-36zM14 340h2v2h-2zM66 340h24v2h-24zM32 340h14v4h-14zM74 342h14v2h-14zM178 342h34v2h-34zM8 342h2v2h-2zM66 342h6v2h-6zM12 342h8v2h-8zM0 342h4v2h-4zM14 344h10v2h-10zM178 344h36v2h-36zM64 344h18v2h-18zM84 344h4v2h-4zM2 344h4v2h-4zM32 344h16v4h-16zM178 346h38v2h-38zM62 346h14v2h-14zM78 346h4v2h-4zM14 346h12v2h-12zM4 346h2v4h-2zM32 348h20v2h-20zM242 348h4v2h-4zM60 348h16v2h-16zM174 348h38v2h-38zM214 348h4v2h-4zM10 348h4v4h-4zM16 348h8v4h-8zM30 350h26v2h-26zM240 350h2v2h-2zM174 350h18v2h-18zM58 350h20v2h-20zM194 350h16v2h-16zM30 352h12v2h-12zM196 352h14v2h-14zM44 352h34v2h-34zM242 352h2v2h-2zM10 352h12v2h-12zM174 352h20v2h-20zM290 352h4v4h-4zM34 354h54v2h-54zM144 354h4v2h-4zM176 354h34v2h-34zM12 354h4v4h-4zM8 356h2v2h-2zM146 356h2v2h-2zM34 356h4v2h-4zM42 356h48v2h-48zM174 356h34v4h-34zM74 358h16v2h-16zM52 358h20v2h-20zM102 360h2v2h-2zM52 360h18v2h-18zM174 360h32v2h-32zM76 360h14v2h-14zM186 362h22v2h-22zM176 362h8v2h-8zM58 362h2v2h-2zM114 364h6v2h-6zM210 364h2v2h-2zM188 364h20v2h-20zM170 364h14v2h-14zM50 364h4v2h-4zM78 362h12v6h-12zM212 366h2v2h-2zM194 366h14v2h-14zM112 366h14v2h-14zM170 366h10v2h-10zM96 366h4v2h-4zM48 366h6v4h-6zM110 368h10v2h-10zM82 368h10v2h-10zM210 368h4v2h-4zM192 368h16v2h-16zM176 368h4v2h-4zM130 368h2v4h-2zM110 370h12v2h-12zM86 370h8v2h-8zM176 370h2v2h-2zM192 370h20v2h-20zM128 372h4v2h-4zM104 372h14v2h-14zM50 372h2v2h-2zM120 372h2v2h-2zM84 372h16v2h-16zM194 372h16v2h-16zM104 374h18v2h-18zM84 374h14v2h-14zM196 374h14v2h-14zM50 374h4v4h-4zM166 376h2v2h-2zM104 376h20v2h-20zM194 376h16v2h-16zM88 376h10v4h-10zM106 378h14v2h-14zM46 378h6v2h-6zM194 378h12v2h-12zM122 378h2v4h-2zM166 378h6v4h-6zM44 380h6v2h-6zM192 380h14v2h-14zM108 380h4v2h-4zM90 380h12v2h-12zM162 382h16v2h-16zM44 382h8v2h-8zM194 382h12v2h-12zM92 382h24v2h-24zM120 382h4v4h-4zM128 384h4v2h-4zM92 384h26v2h-26zM162 384h2v2h-2zM58 384h2v2h-2zM194 384h10v4h-10zM46 384h4v4h-4zM166 384h16v4h-16zM92 386h38v2h-38zM164 388h18v2h-18zM94 388h34v2h-34zM46 388h2v2h-2zM190 388h14v2h-14zM56 388h4v4h-4zM96 390h32v2h-32zM212 390h2v2h-2zM162 390h20v2h-20zM186 390h22v2h-22zM164 392h18v2h-18zM132 392h6v2h-6zM186 392h30v2h-30zM98 392h26v2h-26zM32 392h4v4h-4zM58 394h4v2h-4zM98 394h42v2h-42zM164 394h54v2h-54zM54 396h2v2h-2zM100 396h42v2h-42zM158 396h56v2h-56zM52 398h6v2h-6zM102 398h44v2h-44zM148 398h64v2h-64zM80 400h2v2h-2zM50 400h10v2h-10zM104 400h108v2h-108zM96 400h2v2h-2zM34 400h2v4h-2zM24 400h2v4h-2zM88 402h2v2h-2zM110 402h102v2h-102zM94 402h6v2h-6zM48 402h14v2h-14zM0 402h2v4h-2zM82 402h4v4h-4zM22 404h6v2h-6zM94 404h4v2h-4zM46 404h16v2h-16zM116 404h94v2h-94zM214 404h2v2h-2zM88 404h4v2h-4zM70 406h2v2h-2zM52 406h8v2h-8zM120 406h10v2h-10zM138 406h68v2h-68zM46 406h4v2h-4zM88 406h8v2h-8zM18 406h10v4h-10zM84 408h6v2h-6zM138 408h22v2h-22zM178 408h20v2h-20zM170 408h6v2h-6zM44 408h16v2h-16zM14 408h2v2h-2zM200 408h2v2h-2zM0 406h4v6h-4zM136 410h12v2h-12zM44 410h18v2h-18zM6 410h2v2h-2zM172 410h2v2h-2zM84 410h4v2h-4zM76 410h4v2h-4zM20 410h4v2h-4zM178 410h16v4h-16zM46 412h16v2h-16zM64 412h6v2h-6zM142 412h6v2h-6zM0 412h10v4h-10zM180 414h4v2h-4zM158 414h4v2h-4zM46 414h24v2h-24zM144 414h4v2h-4zM0 416h12v2h-12zM48 416h24v2h-24zM74 416h6v2h-6zM136 416h4v4h-4zM2 418h12v2h-12zM48 418h32v2h-32zM148 418h2v4h-2zM2 420h6v2h-6zM46 420h32v2h-32zM10 420h4v2h-4zM2 422h2v2h-2zM150 422h2v2h-2zM52 422h26v2h-26zM4 424h4v2h-4zM146 424h6v2h-6zM52 424h24v2h-24zM90 426h4v2h-4zM50 426h24v2h-24zM202 426h4v2h-4zM146 426h2v2h-2zM208 426h2v2h-2zM4 426h10v2h-10zM34 428h2v2h-2zM88 428h2v2h-2zM48 428h24v2h-24zM94 428h2v2h-2zM202 428h2v2h-2zM4 428h12v4h-12zM170 428h2v4h-2zM462 430h2v2h-2zM204 430h2v2h-2zM20 430h2v2h-2zM60 430h4v2h-4zM208 430h2v2h-2zM48 430h10v2h-10zM96 430h2v2h-2zM38 430h4v2h-4zM4 432h22v2h-22zM88 432h2v2h-2zM52 432h4v2h-4zM38 432h6v2h-6zM94 432h6v2h-6zM54 434h2v2h-2zM24 434h6v2h-6zM88 434h18v2h-18zM16 434h4v2h-4zM176 434h4v2h-4zM36 434h2v4h-2zM464 436h4v2h-4zM26 436h2v2h-2zM16 436h6v2h-6zM90 436h20v2h-20zM168 436h4v2h-4zM90 438h22v2h-22zM28 438h2v2h-2zM20 438h2v2h-2zM32 438h4v2h-4zM28 440h8v2h-8zM86 440h26v2h-26zM142 440h2v2h-2zM162 440h6v2h-6zM176 440h4v2h-4zM142 442h4v2h-4zM28 442h10v2h-10zM82 442h32v2h-32zM466 442h2v2h-2zM162 442h8v2h-8zM28 444h8v2h-8zM114 444h6v2h-6zM82 444h30v2h-30zM136 444h2v2h-2zM162 444h6v2h-6zM142 444h10v2h-10zM122 444h4v2h-4zM136 446h4v2h-4zM158 446h6v2h-6zM142 446h12v2h-12zM116 446h2v2h-2zM80 446h30v2h-30zM124 446h4v2h-4zM160 448h2v2h-2zM134 448h20v2h-20zM124 448h6v2h-6zM114 448h8v2h-8zM78 448h32v2h-32zM76 450h40v2h-40zM118 450h34v4h-34zM74 452h40v2h-40zM154 452h4v2h-4zM118 454h40v2h-40zM74 454h18v2h-18zM96 454h18v2h-18zM470 454h2v2h-2zM98 456h68v2h-68zM74 456h20v2h-20zM98 458h74v2h-74zM72 458h24v2h-24zM72 460h102v2h-102zM142 462h34v2h-34zM68 462h72v2h-72zM472 462h2v2h-2zM68 464h24v2h-24zM146 464h34v2h-34zM116 464h18v2h-18zM474 464h2v2h-2zM96 464h16v2h-16zM98 466h10v2h-10zM146 466h36v2h-36zM110 466h24v4h-24zM70 466h20v4h-20zM176 468h6v2h-6zM148 468h26v2h-26zM98 468h6v2h-6zM136 470h2v2h-2zM180 470h2v2h-2zM144 470h26v2h-26zM110 470h22v2h-22zM72 470h34v2h-34zM440 472h4v2h-4zM72 472h102v4h-102zM476 472h2v4h-2zM444 474h2v2h-2zM176 474h2v2h-2zM84 476h90v2h-90zM446 476h2v2h-2zM72 476h10v2h-10zM174 478h4v2h-4zM86 478h86v2h-86zM174 480h2v2h-2zM130 480h38v2h-38zM124 480h4v2h-4zM84 480h38v2h-38zM84 482h32v2h-32zM128 482h2v2h-2zM134 482h32v2h-32zM84 484h20v2h-20zM160 484h6v2h-6zM108 484h4v2h-4zM122 484h10v2h-10zM134 484h24v2h-24zM122 486h36v2h-36zM86 486h16v2h-16zM164 486h4v4h-4zM152 488h2v2h-2zM122 488h28v2h-28zM86 488h12v2h-12zM148 490h4v2h-4zM138 490h8v2h-8zM90 490h6v2h-6zM130 490h6v2h-6zM92 492h4v2h-4zM132 492h2v2h-2zM138 492h14v2h-14zM94 494h2v2h-2zM152 496h10v2h-10zM150 498h12v2h-12zM132 498h2v2h-2zM150 500h10v2h-10zM148 502h10v2h-10zM212 504h2v2h-2zM150 504h4v2h-4zM132 504h4v4h-4zM394 506h4v2h-4zM210 508h2v2h-2zM396 508h2v2h-2zM154 512h6v2h-6zM140 512h4v2h-4zM134 514h4v2h-4zM140 514h6v2h-6zM148 514h12v2h-12zM134 516h26v2h-26zM132 518h34v2h-34zM132 520h36v2h-36zM182 522h4v2h-4zM168 522h6v2h-6zM132 522h30v2h-30zM136 524h28v2h-28zM166 524h12v4h-12zM136 526h26v4h-26zM168 528h12v2h-12z"/>
<path fill="#ff9000" d="M2 100h4v2h-4zM8 100h8v2h-8zM112 102h16v2h-16zM0 102h34v2h-34zM0 104h44v2h-44zM104 104h32v2h-32zM90 104h12v2h-12zM6 106h40v2h-40zM88 106h32v2h-32zM126 106h16v2h-16zM130 108h12v2h-12zM38 108h10v2h-10zM84 108h24v2h-24zM22 108h10v2h-10zM40 110h10v2h-10zM24 110h6v2h-6zM132 110h10v4h-10zM46 112h4v4h-4zM130 114h14v2h-14zM128 116h16v2h-16zM44 116h6v4h-6zM126 118h18v2h-18zM82 110h10v12h-10zM44 120h8v2h-8zM122 120h22v2h-22zM138 122h6v2h-6zM112 122h24v2h-24zM82 122h12v2h-12zM80 124h22v2h-22zM44 122h10v6h-10zM110 124h32v4h-32zM78 126h28v2h-28zM40 128h16v2h-16zM76 128h30v2h-30zM108 128h36v2h-36zM76 130h66v2h-66zM38 130h14v4h-14zM78 132h62v2h-62zM82 134h50v2h-50zM134 134h4v2h-4zM34 134h16v4h-16zM84 136h46v2h-46zM136 136h2v4h-2zM32 138h14v2h-14zM106 138h16v2h-16zM84 138h20v2h-20zM136 140h6v2h-6zM30 140h16v4h-16zM84 140h38v4h-38zM138 142h8v2h-8zM86 144h30v2h-30zM32 144h16v2h-16zM138 144h6v2h-6zM136 146h6v2h-6zM32 146h18v2h-18zM86 146h26v2h-26zM88 148h24v2h-24zM30 148h20v2h-20zM134 148h6v4h-6zM90 150h22v2h-22zM32 150h24v2h-24zM132 152h10v2h-10zM32 152h26v2h-26zM92 152h18v2h-18zM86 154h24v2h-24zM130 154h6v2h-6zM32 154h28v2h-28zM84 156h26v2h-26zM132 156h4v2h-4zM38 156h22v2h-22zM48 158h60v2h-60zM40 158h2v2h-2zM132 158h2v4h-2zM96 160h12v2h-12zM56 160h28v2h-28zM100 162h10v2h-10zM62 162h10v2h-10zM102 164h8v2h-8zM102 166h6v6h-6zM104 172h4v4h-4zM104 176h6v2h-6zM102 178h8v2h-8zM102 180h6v2h-6zM102 182h4v2h-4zM100 184h4v2h-4zM98 186h6v2h-6zM96 188h6v2h-6zM92 190h6v2h-6zM90 192h6v2h-6zM90 194h4v2h-4zM88 196h6v2h-6zM86 198h6v4h-6zM84 202h8v2h-8zM84 204h6v4h-6zM86 208h4v4h-4zM86 212h6v4h-6zM88 216h6v4h-6zM88 220h8v2h-8zM88 222h6v2h-6zM86 224h8v2h-8zM86 226h6v2h-6zM84 228h6v2h-6zM84 230h4v2h-4zM82 232h4v4h-4zM84 236h2v4h-2zM84 240h4v6h-4zM86 246h2v4h-2zM86 250h6v2h-6zM88 252h6v2h-6zM90 254h10v2h-10zM138 254h4v2h-4zM92 256h10v2h-10zM136 256h8v2h-8zM94 258h12v2h-12zM0 258h6v2h-6zM132 258h14v2h-14zM10 258h2v2h-2zM132 260h18v2h-18zM96 260h12v2h-12zM0 260h16v2h-16zM26 262h6v2h-6zM132 262h22v2h-22zM0 262h18v2h-18zM96 262h14v2h-14zM0 264h32v2h-32zM96 264h16v2h-16zM46 264h4v2h-4zM130 264h26v2h-26zM14 266h26v2h-26zM0 266h12v2h-12zM42 266h16v2h-16zM128 266h38v2h-38zM98 266h20v4h-20zM120 268h2v2h-2zM176 268h4v2h-4zM126 268h46v2h-46zM0 268h4v2h-4zM8 268h52v2h-52zM98 270h82v2h-82zM8 270h54v2h-54zM0 270h2v4h-2zM20 272h2v2h-2zM24 272h38v2h-38zM102 272h78v2h-78zM10 272h6v2h-6zM144 274h36v2h-36zM12 274h4v2h-4zM104 274h38v2h-38zM38 274h16v2h-16zM58 274h6v4h-6zM106 276h72v2h-72zM42 276h4v2h-4zM48 276h4v2h-4zM10 276h4v4h-4zM60 278h6v2h-6zM102 278h2v2h-2zM106 278h42v4h-42zM150 278h26v4h-26zM232 280h2v2h-2zM62 280h4v2h-4zM104 282h70v4h-70zM62 282h6v4h-6zM58 286h12v2h-12zM104 286h72v2h-72zM106 288h72v2h-72zM58 288h14v2h-14zM54 290h22v2h-22zM106 290h70v2h-70zM146 292h34v2h-34zM54 292h26v2h-26zM106 292h34v2h-34zM102 292h2v2h-2zM56 294h28v2h-28zM100 294h40v2h-40zM144 294h36v4h-36zM60 296h26v2h-26zM96 296h44v2h-44zM142 298h36v2h-36zM60 298h80v2h-80zM142 300h38v2h-38zM64 300h14v2h-14zM80 300h60v2h-60zM90 302h50v2h-50zM84 302h2v2h-2zM146 302h34v4h-34zM94 304h6v2h-6zM102 304h38v2h-38zM146 306h36v2h-36zM104 306h36v2h-36zM102 308h40v2h-40zM148 308h34v2h-34zM150 310h32v2h-32zM104 310h38v2h-38zM110 312h30v2h-30zM146 310h2v6h-2zM150 312h14v4h-14zM172 312h12v4h-12zM110 314h26v2h-26zM214 314h4v2h-4zM126 316h8v2h-8zM170 316h14v2h-14zM144 316h4v2h-4zM110 316h12v2h-12zM150 316h16v2h-16zM102 316h2v2h-2zM110 318h24v2h-24zM140 318h18v2h-18zM160 318h24v2h-24zM98 318h8v2h-8zM126 320h8v2h-8zM98 320h10v2h-10zM140 320h14v2h-14zM162 320h22v2h-22zM114 320h6v2h-6zM160 322h22v2h-22zM126 322h14v2h-14zM98 322h12v2h-12zM142 322h12v2h-12zM148 324h8v2h-8zM96 324h16v2h-16zM124 324h22v2h-22zM160 324h16v2h-16zM116 326h40v2h-40zM158 326h20v2h-20zM96 326h18v2h-18zM96 328h82v2h-82zM94 330h82v2h-82zM48 330h6v2h-6zM90 332h88v2h-88zM46 332h8v2h-8zM194 332h2v4h-2zM90 334h90v2h-90zM40 334h20v2h-20zM90 336h88v2h-88zM40 336h22v2h-22zM40 338h24v2h-24zM90 338h44v2h-44zM138 338h40v2h-40zM90 340h88v2h-88zM46 340h20v4h-20zM72 342h2v2h-2zM88 342h90v4h-90zM48 344h16v2h-16zM82 344h2v2h-2zM82 346h46v2h-46zM48 346h14v2h-14zM76 346h2v2h-2zM130 346h48v2h-48zM52 348h8v2h-8zM76 348h48v2h-48zM128 348h46v4h-46zM56 350h2v2h-2zM244 350h2v2h-2zM78 350h46v4h-46zM126 352h48v2h-48zM148 354h28v2h-28zM88 354h56v2h-56zM148 356h26v2h-26zM90 356h56v2h-56zM90 358h84v2h-84zM104 360h70v2h-70zM90 360h12v2h-12zM90 362h86v2h-86zM184 362h2v2h-2zM90 364h24v2h-24zM120 364h50v2h-50zM184 364h4v2h-4zM208 364h2v2h-2zM100 366h12v2h-12zM90 366h6v2h-6zM180 366h14v2h-14zM126 366h44v2h-44zM120 368h10v2h-10zM208 368h2v2h-2zM92 368h18v2h-18zM180 368h12v2h-12zM132 368h44v4h-44zM94 370h16v2h-16zM122 370h8v2h-8zM178 370h14v2h-14zM132 372h62v2h-62zM118 372h2v2h-2zM122 372h6v2h-6zM100 372h4v2h-4zM184 374h12v2h-12zM122 374h54v2h-54zM98 374h6v4h-6zM168 376h8v2h-8zM184 376h10v4h-10zM120 378h2v2h-2zM172 378h4v2h-4zM98 378h8v2h-8zM124 376h42v6h-42zM102 380h6v2h-6zM172 380h20v2h-20zM112 380h10v2h-10zM116 382h4v2h-4zM178 382h16v2h-16zM124 382h38v2h-38zM124 384h4v2h-4zM118 384h2v2h-2zM164 384h2v2h-2zM132 384h16v2h-16zM150 384h12v2h-12zM182 384h12v4h-12zM130 386h36v2h-36zM128 388h36v2h-36zM182 388h8v2h-8zM128 390h34v2h-34zM182 390h4v4h-4zM138 392h26v2h-26zM124 392h8v2h-8zM140 394h24v2h-24zM142 396h16v2h-16zM146 398h2v2h-2zM206 426h2v2h-2zM208 428h2v2h-2zM206 430h2v2h-2zM94 430h2v2h-2zM88 430h2v2h-2zM92 432h2v2h-2zM176 436h2v4h-2zM470 456h2v2h-2zM474 462h2v2h-2zM140 462h2v2h-2zM112 464h4v2h-4zM92 464h4v2h-4zM134 464h12v4h-12zM108 466h2v2h-2zM96 466h2v4h-2zM90 468h2v2h-2zM134 468h14v2h-14zM104 468h6v2h-6zM474 468h4v4h-4zM106 470h4v2h-4zM138 470h6v2h-6zM132 470h4v2h-4zM478 474h2v4h-2zM212 506h2v2h-2z"/>
<path fill="#ff6800" d="M120 106h6v2h-6zM0 106h6v2h-6zM0 108h22v2h-22zM108 108h22v2h-22zM32 108h6v2h-6zM30 110h10v2h-10zM0 110h24v2h-24zM92 110h40v4h-40zM0 112h46v4h-46zM92 114h38v2h-38zM92 116h36v2h-36zM92 118h34v2h-34zM92 120h30v2h-30zM94 122h18v2h-18zM102 124h8v2h-8zM0 116h44v12h-44zM106 126h4v2h-4zM0 128h40v2h-40zM106 128h2v2h-2zM0 130h38v4h-38zM0 134h34v4h-34zM0 138h32v2h-32zM104 138h2v2h-2zM0 140h30v4h-30zM8 144h24v2h-24zM10 146h22v2h-22zM14 148h16v2h-16zM18 150h14v4h-14zM20 154h12v2h-12zM22 156h16v2h-16zM24 158h16v2h-16zM42 158h6v2h-6zM84 160h12v2h-12zM22 160h34v2h-34zM16 162h2v2h-2zM22 162h40v2h-40zM72 162h28v2h-28zM0 162h8v4h-8zM16 164h12v2h-12zM38 164h44v2h-44zM92 164h10v2h-10zM48 166h28v2h-28zM96 166h6v2h-6zM14 166h10v2h-10zM0 166h12v2h-12zM56 168h14v2h-14zM0 168h16v2h-16zM20 168h2v2h-2zM98 168h4v4h-4zM58 170h6v2h-6zM0 170h8v2h-8zM10 170h2v2h-2zM100 172h4v6h-4zM100 178h2v2h-2zM98 180h4v2h-4zM96 182h6v2h-6zM94 184h6v2h-6zM92 186h6v2h-6zM90 188h6v2h-6zM86 190h6v2h-6zM84 192h6v4h-6zM84 196h4v2h-4zM82 198h4v4h-4zM80 202h4v2h-4zM82 204h2v4h-2zM82 208h4v4h-4zM80 212h6v2h-6zM78 214h8v2h-8zM78 216h10v2h-10zM76 218h12v6h-12zM76 224h10v2h-10zM78 226h8v2h-8zM78 228h6v4h-6zM78 232h4v4h-4zM80 236h4v6h-4zM82 242h2v4h-2zM82 246h4v4h-4zM0 248h4v2h-4zM10 248h2v2h-2zM8 250h4v2h-4zM84 250h2v2h-2zM0 250h6v2h-6zM0 252h12v2h-12zM84 252h4v2h-4zM0 254h18v2h-18zM86 254h4v2h-4zM36 254h2v2h-2zM24 256h8v2h-8zM40 256h6v2h-6zM86 256h6v2h-6zM34 256h4v2h-4zM0 256h20v2h-20zM88 258h6v2h-6zM6 258h4v2h-4zM12 258h36v2h-36zM16 260h42v2h-42zM88 260h8v4h-8zM32 262h28v2h-28zM18 262h8v2h-8zM50 264h12v2h-12zM32 264h14v2h-14zM90 264h6v2h-6zM40 266h2v2h-2zM58 266h6v2h-6zM60 268h6v2h-6zM90 266h8v6h-8zM62 270h4v2h-4zM92 272h10v2h-10zM62 272h6v2h-6zM64 274h4v2h-4zM94 274h10v2h-10zM142 274h2v2h-2zM94 276h12v2h-12zM64 276h6v2h-6zM230 278h4v2h-4zM104 278h2v2h-2zM94 278h8v2h-8zM148 278h2v4h-2zM66 278h4v4h-4zM230 280h2v2h-2zM94 280h12v2h-12zM68 282h6v2h-6zM68 284h8v2h-8zM94 282h10v6h-10zM86 286h6v2h-6zM70 286h10v2h-10zM72 288h34v2h-34zM76 290h30v2h-30zM104 292h2v2h-2zM80 292h22v2h-22zM140 292h6v2h-6zM84 294h16v2h-16zM140 294h4v4h-4zM86 296h10v2h-10zM140 298h2v4h-2zM140 302h6v6h-6zM142 308h6v2h-6zM142 310h4v2h-4zM140 312h6v2h-6zM164 312h2v4h-2zM170 312h2v4h-2zM136 314h10v2h-10zM148 310h2v8h-2zM166 316h4v2h-4zM134 316h10v2h-10zM214 316h4v4h-4zM158 318h2v2h-2zM134 318h6v4h-6zM154 320h8v2h-8zM140 322h2v2h-2zM154 322h6v2h-6zM156 324h4v2h-4zM146 324h2v2h-2zM156 326h2v2h-2zM134 338h4v2h-4zM128 346h2v2h-2zM124 348h4v4h-4zM242 350h2v2h-2zM124 352h2v2h-2zM210 366h2v2h-2zM176 374h2v6h-2zM182 374h2v6h-2zM148 384h2v2h-2zM90 428h4v2h-4zM204 428h2v2h-2zM90 432h2v2h-2zM178 436h2v4h-2zM90 466h2v2h-2zM94 468h2v2h-2zM210 504h2v4h-2z"/>
<path fill="#ff4000" d="M0 144h8v2h-8zM0 146h10v2h-10zM0 148h14v2h-14zM0 150h18v4h-18zM0 154h20v2h-20zM0 156h22v2h-22zM0 158h24v2h-24zM0 160h22v2h-22zM18 162h4v2h-4zM8 162h8v4h-8zM28 164h10v2h-10zM82 164h10v2h-10zM76 166h20v2h-20zM24 166h24v2h-24zM12 166h2v2h-2zM70 168h14v2h-14zM22 168h34v2h-34zM16 168h4v2h-4zM92 168h6v2h-6zM94 170h4v2h-4zM12 170h46v2h-46zM8 170h2v2h-2zM64 170h14v2h-14zM48 172h30v2h-30zM40 172h4v2h-4zM94 172h6v2h-6zM0 172h36v2h-36zM0 174h30v2h-30zM52 174h24v2h-24zM0 176h26v2h-26zM54 176h22v2h-22zM96 174h4v6h-4zM0 178h24v2h-24zM56 178h20v2h-20zM0 180h4v2h-4zM60 180h6v2h-6zM94 180h4v2h-4zM10 180h12v2h-12zM72 180h4v2h-4zM14 182h6v2h-6zM92 182h4v2h-4zM60 182h4v2h-4zM62 184h2v2h-2zM86 184h8v2h-8zM70 186h10v2h-10zM84 186h8v2h-8zM70 188h20v2h-20zM0 188h2v2h-2zM74 190h12v2h-12zM74 192h10v4h-10zM78 196h6v2h-6zM76 198h6v4h-6zM76 202h4v2h-4zM76 204h6v8h-6zM74 212h6v2h-6zM72 214h6v2h-6zM68 216h10v2h-10zM66 218h10v2h-10zM10 222h6v2h-6zM68 220h8v6h-8zM24 224h4v2h-4zM0 224h12v4h-12zM20 226h10v2h-10zM70 226h8v6h-8zM72 232h6v2h-6zM0 228h40v8h-40zM74 234h4v2h-4zM76 236h4v2h-4zM74 238h6v2h-6zM76 240h4v2h-4zM0 236h44v8h-44zM76 242h6v2h-6zM0 244h50v2h-50zM0 246h52v2h-52zM78 244h4v6h-4zM4 248h6v2h-6zM12 248h42v4h-42zM6 250h2v2h-2zM78 250h6v4h-6zM12 252h44v2h-44zM18 254h18v2h-18zM38 254h20v2h-20zM80 254h6v2h-6zM82 256h4v2h-4zM32 256h2v2h-2zM38 256h2v2h-2zM46 256h14v2h-14zM20 256h4v2h-4zM82 258h6v2h-6zM48 258h14v2h-14zM58 260h6v2h-6zM84 260h4v4h-4zM60 262h6v2h-6zM62 264h10v2h-10zM82 264h8v4h-8zM64 266h8v2h-8zM66 268h6v2h-6zM84 268h6v4h-6zM66 270h8v2h-8zM82 272h10v2h-10zM68 272h6v4h-6zM80 274h14v4h-14zM70 276h6v2h-6zM70 278h24v4h-24zM74 282h20v2h-20zM76 284h18v2h-18zM80 286h6v2h-6zM92 286h2v2h-2zM166 312h4v2h-4zM166 314h2v2h-2zM208 366h2v2h-2zM178 374h4v2h-4zM178 378h4v2h-4zM206 428h2v2h-2zM90 430h4v2h-4zM94 466h2v2h-2zM92 468h2v2h-2z"/>
<path fill="#ff0000" d="M84 168h8v2h-8zM78 170h16v4h-16zM44 172h4v2h-4zM36 172h4v2h-4zM30 174h22v2h-22zM26 176h28v2h-28zM76 174h20v6h-20zM24 178h32v2h-32zM76 180h18v2h-18zM46 180h14v2h-14zM22 180h20v2h-20zM4 180h6v2h-6zM66 180h6v2h-6zM50 182h10v2h-10zM64 182h28v2h-28zM20 182h18v2h-18zM0 182h14v2h-14zM32 184h4v2h-4zM64 184h22v2h-22zM52 184h10v2h-10zM0 184h30v2h-30zM80 186h4v2h-4zM0 186h26v2h-26zM52 186h18v4h-18zM2 188h22v2h-22zM52 190h22v2h-22zM0 190h24v2h-24zM0 192h26v2h-26zM50 192h24v4h-24zM46 196h32v2h-32zM42 196h2v4h-2zM0 194h28v8h-28zM46 198h30v4h-30zM42 202h34v2h-34zM0 202h34v2h-34zM10 204h26v2h-26zM38 204h38v2h-38zM0 204h6v4h-6zM10 206h66v4h-66zM0 208h8v2h-8zM0 210h76v2h-76zM0 212h74v2h-74zM0 214h72v2h-72zM0 216h68v2h-68zM0 218h66v2h-66zM0 220h68v2h-68zM16 222h52v2h-52zM0 222h10v2h-10zM28 224h40v2h-40zM12 224h12v2h-12zM30 226h40v2h-40zM12 226h8v2h-8zM40 228h30v4h-30zM40 232h32v2h-32zM40 234h34v2h-34zM66 236h10v2h-10zM44 236h18v4h-18zM68 238h6v2h-6zM68 240h8v2h-8zM44 240h16v2h-16zM70 242h6v2h-6zM44 242h18v2h-18zM50 244h12v2h-12zM52 246h12v2h-12zM72 244h6v6h-6zM54 248h10v2h-10zM70 250h8v2h-8zM54 250h12v2h-12zM56 252h10v2h-10zM68 252h10v2h-10zM58 254h22v2h-22zM60 256h22v2h-22zM62 258h20v2h-20zM64 260h20v2h-20zM66 262h18v2h-18zM72 264h10v4h-10zM72 268h12v2h-12zM74 270h10v2h-10zM74 272h8v2h-8zM74 274h6v2h-6zM76 276h4v2h-4zM168 314h2v2h-2zM178 376h4v2h-4zM92 466h2v2h-2z"/>
<path fill="#e00020" d="M42 180h4v2h-4zM38 182h12v2h-12zM36 184h16v2h-16zM30 184h2v2h-2zM26 186h26v2h-26zM24 188h28v4h-28zM26 192h24v2h-24zM28 194h22v2h-22zM44 196h2v4h-2zM28 196h14v4h-14zM28 200h18v2h-18zM34 202h8v2h-8zM36 204h2v2h-2zM6 204h4v4h-4zM8 208h2v2h-2zM62 236h4v2h-4zM62 238h6v2h-6zM60 240h8v2h-8zM62 242h8v2h-8zM62 244h10v2h-10zM64 246h8v4h-8zM66 250h4v2h-4zM66 252h2v2h-2z"/>
</g>
<g fill="none" stroke="#000" stroke-width="1.1" stroke-linejoin="round">
<path d="M185.7 76.0L181.6 171.2"/>
<path d="M155.5 169.7L181.6 171.2L230.0 173.3L288.0 175.0L350.0 176.2L420.0 176.6L490.0 176.2L552.0 175.0L569.3 174.5"/>
<path d="M155.5 202.7L220.0 205.3L287.5 207.4L284.5 334.0"/>
<path d="M284.5 334.0L288.0 335.5L291.0 337.5L294.6 340.0L299.6 345.0L304.5 347.4L309.5 345.0L315.2 347.4L318.5 343.3L323.5 345.8L327.6 350.7L329.3 356.5L337.5 359.0L344.1 361.5L354.0 363.9L360.6 361.5L366.4 367.2L373.8 363.9L383.7 364.8L387.0 363.9L388.7 370.5L393.6 374.7L396.1 379.6L400.2 382.1L405.2 378.8L410.1 374.7L415.0 377.1L420.0 378.8L422.0 379.5L423.5 384.0L426.0 384.5L429.0 381.8L432.5 381.2L435.0 378.5L437.2 380.0L436.2 387.0L438.5 390.5L441.0 391.0L442.5 387.0L443.2 383.0L446.0 381.0L447.5 376.5L450.5 376.3L453.0 380.0L455.0 381.8L458.0 384.0L460.0 384.6L462.0 381.5L463.0 379.0L465.0 378.5L466.5 382.0L469.5 384.2L473.0 385.5L477.0 387.0L480.0 388.0L483.0 392.0L485.0 390.0L487.0 387.0L491.0 386.8L494.3 383.7L502.5 381.3L509.1 382.9L515.7 379.6L524.0 377.1L528.9 379.6L538.8 379.6L542.1 373.8L552.0 378.8L558.6 381.3L561.9 387.0L570.2 388.7L575.1 392.0L582.5 392.8L586.7 396.1L589.1 399.4L599.9 396.9L607.3 398.6L609.3 434.0L609.9 472.0L610.2 480.0L610.4 499.9L613.3 501.8L614.8 504.0L617.8 505.9L619.6 507.8L620.8 510.8L624.5 514.1L624.7 517.5L625.6 519.0L625.3 522.0L624.1 525.8L625.3 529.5L630.3 531.4L629.8 533.7L633.1 536.6L635.0 540.3L633.6 544.5L637.3 547.3L638.7 550.1L639.2 553.4L641.6 553.9L641.1 557.2L643.4 562.3L639.7 565.6L642.5 569.4L641.1 573.1L641.6 577.8L637.8 583.4L635.0 588.1L634.5 591.9L632.6 594.7L633.1 597.5L635.0 599.8L634.0 604.3"/>
<path d="M568.0 76.0L569.3 174.5L571.5 206.4L583.0 275.7L583.4 392.8"/>
<path d="M571.5 206.4L620.0 205.6L683.5 203.0"/>
<path d="M609.3 434.0L650.0 433.0L683.5 431.3"/>
</g>
<path d="M448.0 376.3L450.5 376.3L453.0 380.0L455.0 381.8L458.0 384.0L460.0 384.6L462.0 381.5L463.0 379.0L465.0 378.5L466.5 382.0L469.5 384.2L470.8 381.0L471.0 378.0L469.0 374.0L465.0 370.2M469.0 374.0L470.5 371.5L472.5 368.3" fill="none" stroke="#000" stroke-width="2.7" stroke-linejoin="round" stroke-linecap="round"/>
<path d="M160.5 80.3L162.3 80.1L164.0 79.9L165.8 79.7L167.6 79.5L169.4 79.3L171.2 79.1M168.1 77.9L171.2 79.1L168.4 80.9M181.2 80.1L183.7 79.9L186.2 79.8L188.7 79.7L191.2 79.5L193.7 79.4L196.2 79.2M193.1 77.9L196.2 79.2L193.4 80.9M205.3 81.2L207.4 80.7L209.5 80.2L211.5 79.7L213.6 79.1L215.6 78.4L217.6 77.7M214.3 77.3L217.6 77.7L215.4 80.1M229.9 84.4L231.4 82.9L232.9 81.3L234.4 79.7L235.8 78.1L237.2 76.4L238.6 74.7M235.6 76.1L238.6 74.7L237.9 77.9M255.4 85.6L256.1 83.6L256.9 81.6L257.6 79.7L258.3 77.7L259.1 75.7L259.8 73.8M257.4 76.0L259.8 73.8L260.2 77.0M281.8 87.6L282.0 85.0L282.2 82.3L282.3 79.7L282.5 77.0L282.7 74.4L282.9 71.7M281.1 74.7L282.9 71.7L284.3 75.0M306.6 90.3L306.2 86.8L305.8 83.2L305.4 79.7L305.1 76.1L304.8 72.5L304.5 69.0M302.7 73.3L304.5 69.0L307.0 73.0M329.7 91.3L329.2 87.4L328.7 83.6L328.3 79.7L327.8 75.8L327.4 71.9L327.0 68.0M325.2 72.6L327.0 68.0L329.7 72.2M352.5 92.0L352.0 87.9L351.6 83.8L351.1 79.7L350.7 75.6L350.3 71.5L349.9 67.4M348.0 72.0L349.9 67.4L352.6 71.6M375.3 92.4L374.8 88.2L374.4 83.9L374.0 79.7L373.5 75.4L373.1 71.2L372.8 66.9M370.9 71.6L372.8 66.9L375.4 71.2M398.0 92.9L397.6 88.5L397.2 84.1L396.8 79.7L396.5 75.3L396.1 70.8L395.8 66.4M393.9 71.0L395.8 66.4L398.4 70.7M420.2 93.7L420.0 89.1L419.8 84.4L419.7 79.7L419.5 75.0L419.4 70.3L419.2 65.6M417.1 70.1L419.2 65.6L421.6 70.0M442.5 94.3L442.5 89.4L442.5 84.6L442.5 79.7L442.5 74.8L442.6 69.9L442.6 65.0M440.3 69.5L442.6 65.0L444.8 69.5M465.0 94.5L465.1 89.5L465.3 84.6L465.4 79.7L465.5 74.7L465.6 69.8L465.7 64.9M463.4 69.3L465.7 64.9L467.9 69.4M487.6 94.4L487.8 89.5L488.0 84.6L488.2 79.7L488.4 74.7L488.6 69.8L488.9 64.9M486.4 69.3L488.9 64.9L490.9 69.5M510.2 94.2L510.5 89.4L510.8 84.5L511.1 79.7L511.4 74.8L511.7 70.0L512.0 65.1M509.4 69.4L512.0 65.1L514.0 69.7M532.7 93.8L533.1 89.1L533.5 84.4L533.9 79.7L534.3 74.9L534.7 70.2L535.1 65.5M532.5 69.8L535.1 65.5L537.0 70.1M555.5 92.8L555.9 88.4L556.4 84.0L556.8 79.7L557.2 75.3L557.6 70.9L558.0 66.5M555.3 70.8L558.0 66.5L559.9 71.2M578.6 90.9L579.0 87.2L579.3 83.4L579.6 79.7L580.0 75.9L580.3 72.2L580.6 68.4M578.0 72.6L580.6 68.4L582.5 73.0M602.1 89.3L602.2 86.1L602.3 82.9L602.5 79.7L602.6 76.5L602.8 73.3L602.9 70.1M600.8 73.7L602.9 70.1L604.7 73.9M625.4 89.1L625.4 85.9L625.3 82.8L625.3 79.7L625.3 76.5L625.3 73.4L625.4 70.3M623.4 73.9L625.4 70.3L627.2 74.0M648.3 89.0L648.3 85.9L648.2 82.8L648.2 79.7L648.1 76.6L648.1 73.4L648.1 70.3M646.2 74.0L648.1 70.3L650.0 74.0M671.1 88.1L671.1 85.3L671.0 82.5L671.0 79.7L671.0 76.9L671.0 74.1L671.0 71.3M669.3 74.6L671.0 71.3L672.7 74.6M149.1 99.7L150.8 99.5L152.6 99.3L154.4 99.1L156.2 98.9L158.0 98.7L159.8 98.5M156.7 97.3L159.8 98.5L157.0 100.3M171.9 99.3L173.7 99.2L175.5 99.2L177.2 99.1L179.0 99.0L180.8 99.0L182.6 99.0M179.6 97.5L182.6 99.0L179.7 100.5M192.9 99.5L195.3 99.4L197.7 99.3L200.1 99.1L202.5 98.9L204.9 98.7L207.2 98.4M204.1 97.3L207.2 98.4L204.5 100.3M217.5 101.8L219.4 101.0L221.2 100.1L223.0 99.1L224.7 98.1L226.4 97.0L228.0 95.9M224.8 96.4L228.0 95.9L226.5 98.8M243.9 104.9L244.6 103.0L245.2 101.0L245.8 99.1L246.4 97.2L247.0 95.2L247.7 93.3M245.3 95.6L247.7 93.3L248.1 96.6M268.2 103.9L268.8 102.3L269.4 100.7L270.0 99.1L270.6 97.5L271.2 95.9L271.8 94.3M269.4 96.6L271.8 94.3L272.3 97.5M294.4 108.5L294.3 105.4L294.1 102.2L294.0 99.1L293.9 96.0L293.7 92.8L293.5 89.7M291.8 93.5L293.5 89.7L295.6 93.3M318.4 110.4L317.9 106.6L317.4 102.9L316.9 99.1L316.3 95.3L315.8 91.6L315.4 87.8M313.7 92.5L315.4 87.8L318.2 91.9M341.3 111.2L340.7 107.2L340.2 103.1L339.7 99.1L339.2 95.1L338.7 91.0L338.2 87.0M336.5 91.7L338.2 87.0L341.0 91.1M364.0 111.7L363.5 107.5L363.0 103.3L362.6 99.1L362.1 94.9L361.6 90.7L361.1 86.5M359.3 91.2L361.1 86.5L363.8 90.7M386.9 112.0L386.4 107.7L385.9 103.4L385.4 99.1L384.9 94.8L384.4 90.5L384.0 86.2M382.2 90.9L384.0 86.2L386.7 90.4M409.3 112.7L408.9 108.1L408.6 103.6L408.2 99.1L407.9 94.6L407.6 90.1L407.2 85.5M405.3 90.2L407.2 85.5L409.8 89.8M431.2 114.0L431.1 109.0L431.1 104.1L431.1 99.1L431.1 94.1L431.1 89.2L431.0 84.2M428.8 88.7L431.0 84.2L433.3 88.6M453.8 114.0L453.8 109.1L453.9 104.1L454.0 99.1L454.0 94.1L454.1 89.1L454.2 84.2M451.8 88.6L454.2 84.2L456.4 88.7M476.4 114.1L476.5 109.1L476.7 104.1L476.8 99.1L476.9 94.1L477.1 89.1L477.2 84.2M474.8 88.5L477.2 84.2L479.4 88.7M499.0 114.0L499.2 109.0L499.4 104.1L499.7 99.1L499.9 94.1L500.1 89.2L500.3 84.2M497.9 88.6L500.3 84.2L502.4 88.8M521.5 113.8L521.8 108.9L522.2 104.0L522.5 99.1L522.8 94.2L523.2 89.3L523.6 84.5M521.0 88.7L523.6 84.5L525.5 89.1M544.0 113.5L544.4 108.7L544.9 103.9L545.4 99.1L545.8 94.3L546.3 89.5L546.7 84.7M544.1 88.9L546.7 84.7L548.6 89.3M567.0 111.5L567.4 107.4L567.8 103.2L568.2 99.1L568.6 95.0L569.0 90.8L569.4 86.7M566.7 90.9L569.4 86.7L571.2 91.3M590.4 109.0L590.6 105.7L590.8 102.4L591.1 99.1L591.3 95.8L591.5 92.5L591.8 89.2M589.5 92.9L591.8 89.2L593.5 93.2M614.3 107.0L614.2 104.3L614.0 101.7L613.9 99.1L613.8 96.5L613.7 93.9L613.6 91.2M612.1 94.4L613.6 91.2L615.3 94.3M637.4 109.7L637.1 106.1L636.9 102.6L636.8 99.1L636.6 95.6L636.4 92.0L636.3 88.5M634.3 92.7L636.3 88.5L638.6 92.6M660.0 107.6L659.9 104.7L659.7 101.9L659.6 99.1L659.5 96.3L659.4 93.5L659.3 90.6M657.7 94.0L659.3 90.6L661.1 93.9M160.2 119.3L162.1 119.0L163.9 118.8L165.8 118.5L167.7 118.3L169.6 118.1L171.5 117.9M168.4 116.7L171.5 117.9L168.7 119.7M183.2 118.3L185.0 118.4L186.9 118.4L188.7 118.5L190.5 118.6L192.3 118.7L194.1 118.8M191.2 117.2L194.1 118.8L191.1 120.2M206.4 119.2L208.1 119.0L209.8 118.8L211.5 118.5L213.2 118.3L214.9 117.9L216.5 117.5M213.3 116.8L216.5 117.5L214.1 119.7M231.3 122.7L232.4 121.4L233.4 120.0L234.4 118.5L235.4 117.1L236.3 115.7L237.3 114.2M234.4 115.8L237.3 114.2L236.9 117.5M255.7 123.9L256.3 122.1L257.0 120.3L257.6 118.5L258.2 116.8L258.9 115.0L259.5 113.2M257.1 115.5L259.5 113.2L259.9 116.5M281.4 126.8L281.6 124.1L282.0 121.3L282.3 118.5L282.7 115.8L283.1 113.0L283.5 110.2M281.4 113.3L283.5 110.2L284.7 113.7M306.7 128.5L306.3 125.2L305.8 121.9L305.4 118.5L305.0 115.2L304.7 111.9L304.3 108.5M302.7 112.7L304.3 108.5L306.7 112.2M330.0 129.9L329.4 126.1L328.8 122.3L328.3 118.5L327.7 114.7L327.2 111.0L326.6 107.2M325.0 111.9L326.6 107.2L329.5 111.3M352.6 130.8L352.1 126.7L351.6 122.6L351.1 118.5L350.6 114.5L350.1 110.4L349.6 106.3M347.9 111.0L349.6 106.3L352.4 110.5M375.3 131.1L374.9 126.9L374.4 122.7L374.0 118.5L373.5 114.3L373.0 110.1L372.6 105.9M370.8 110.6L372.6 105.9L375.3 110.1M398.0 131.5L397.6 127.2L397.2 122.9L396.8 118.5L396.4 114.2L396.0 109.9L395.6 105.6M393.8 110.2L395.6 105.6L398.3 109.8M420.2 132.5L420.0 127.8L419.8 123.2L419.7 118.5L419.5 113.9L419.3 109.2L419.1 104.6M417.0 109.1L419.1 104.6L421.6 109.0M442.5 133.2L442.5 128.3L442.5 123.4L442.5 118.5L442.5 113.7L442.5 108.8L442.6 103.9M440.3 108.3L442.6 103.9L444.8 108.4M465.2 133.3L465.3 128.4L465.3 123.4L465.4 118.5L465.4 113.6L465.5 108.7L465.6 103.8M463.3 108.2L465.6 103.8L467.8 108.3M487.9 133.2L488.0 128.3L488.1 123.4L488.2 118.5L488.3 113.6L488.5 108.7L488.6 103.8M486.2 108.2L488.6 103.8L490.8 108.4M510.5 133.1L510.7 128.2L510.9 123.4L511.1 118.5L511.3 113.7L511.5 108.8L511.8 104.0M509.3 108.3L511.8 104.0L513.8 108.6M533.0 132.8L533.3 128.0L533.6 123.3L533.9 118.5L534.3 113.8L534.6 109.0L535.0 104.3M532.4 108.6L535.0 104.3L536.9 108.9M555.5 131.8L555.9 127.4L556.3 122.9L556.8 118.5L557.2 114.1L557.6 109.7L558.1 105.3M555.4 109.5L558.1 105.3L559.9 110.0M578.9 129.9L579.1 126.1L579.4 122.3L579.6 118.5L579.9 114.7L580.2 110.9L580.4 107.2M577.8 111.4L580.4 107.2L582.4 111.8M602.8 128.2L602.7 125.0L602.6 121.8L602.5 118.5L602.4 115.3L602.3 112.1L602.3 108.8M600.4 112.7L602.3 108.8L604.3 112.6M626.5 127.7L626.1 124.7L625.7 121.6L625.3 118.5L624.9 115.5L624.5 112.4L624.2 109.3M622.8 113.1L624.2 109.3L626.5 112.7M649.0 126.8L648.7 124.0L648.4 121.3L648.2 118.5L647.9 115.8L647.7 113.0L647.4 110.3M646.1 113.7L647.4 110.3L649.3 113.4M671.5 125.5L671.3 123.2L671.2 120.8L671.0 118.5L670.9 116.2L670.7 113.9L670.6 111.6M669.3 114.6L670.6 111.6L672.3 114.4M148.4 139.3L150.4 138.9L152.4 138.4L154.4 138.0L156.4 137.5L158.4 137.1L160.4 136.7M157.2 135.8L160.4 136.7L157.8 138.7M171.6 138.9L173.5 138.6L175.4 138.3L177.2 138.0L179.1 137.6L181.0 137.3L182.9 137.1M179.8 136.0L182.9 137.1L180.2 139.0M195.9 139.0L197.3 138.7L198.7 138.3L200.1 138.0L201.5 137.6L202.9 137.2L204.3 136.7M201.0 136.2L204.3 136.7L201.9 139.1M220.5 141.7L221.4 140.5L222.2 139.2L223.0 138.0L223.7 136.7L224.5 135.4L225.3 134.1M222.4 135.8L225.3 134.1L225.0 137.4M243.1 142.8L244.0 141.2L244.9 139.6L245.8 138.0L246.7 136.4L247.5 134.7L248.4 133.1M245.7 135.1L248.4 133.1L248.4 136.4M269.8 144.8L269.9 142.5L269.9 140.2L270.0 138.0L270.1 135.7L270.2 133.4L270.4 131.1M268.7 133.9L270.4 131.1L271.7 134.2M296.0 146.1L295.2 143.4L294.6 140.7L294.0 138.0L293.4 135.2L293.0 132.4L292.6 129.7M291.4 133.2L292.6 129.7L294.7 132.7M318.8 148.2L318.2 144.8L317.5 141.4L316.9 138.0L316.2 134.6L315.6 131.2L315.0 127.7M313.6 132.1L315.0 127.7L317.7 131.4M341.0 149.5L340.6 145.7L340.2 141.8L339.7 138.0L339.2 134.1L338.7 130.3L338.2 126.4M336.6 131.1L338.2 126.4L341.1 130.5M363.5 150.3L363.2 146.2L362.9 142.1L362.6 138.0L362.2 133.9L361.8 129.8L361.4 125.7M359.6 130.3L361.4 125.7L364.1 129.9M386.4 150.5L386.1 146.3L385.8 142.1L385.4 138.0L385.0 133.8L384.7 129.6L384.3 125.4M382.4 130.1L384.3 125.4L387.0 129.6M408.9 151.0L408.7 146.7L408.5 142.3L408.2 138.0L408.0 133.6L407.7 129.3L407.5 124.9M405.5 129.5L407.5 124.9L410.0 129.2M431.2 152.0L431.1 147.3L431.1 142.6L431.1 138.0L431.1 133.3L431.0 128.6L431.0 123.9M428.8 128.4L431.0 123.9L433.3 128.3M454.0 152.3L453.9 147.5L453.9 142.7L454.0 138.0L454.0 133.2L454.0 128.4L454.0 123.6M451.7 128.1L454.0 123.6L456.3 128.1M476.8 152.2L476.8 147.5L476.8 142.7L476.8 138.0L476.8 133.2L476.9 128.4L476.9 123.7M474.6 128.1L476.9 123.7L479.1 128.2M499.6 152.1L499.6 147.4L499.6 142.7L499.7 138.0L499.7 133.2L499.8 128.5L499.9 123.8M497.5 128.2L499.9 123.8L502.1 128.3M522.2 151.9L522.3 147.3L522.4 142.6L522.5 138.0L522.6 133.3L522.8 128.7L523.0 124.0M520.6 128.4L523.0 124.0L525.1 128.6M544.6 151.3L544.8 146.9L545.1 142.4L545.4 138.0L545.6 133.5L546.0 129.1L546.3 124.6M543.7 128.9L546.3 124.6L548.2 129.2M567.3 150.1L567.5 146.1L567.9 142.0L568.2 138.0L568.5 133.9L568.9 129.8L569.2 125.8M566.6 130.0L569.2 125.8L571.1 130.4M591.3 149.0L591.2 145.3L591.1 141.6L591.1 138.0L591.0 134.3L591.0 130.6L591.0 127.0M588.8 131.3L591.0 127.0L593.2 131.3M615.2 148.2L614.7 144.8L614.3 141.4L613.9 138.0L613.5 134.6L613.1 131.1L612.8 127.7M611.2 132.0L612.8 127.7L615.3 131.5M638.2 148.4L637.6 145.0L637.2 141.5L636.8 138.0L636.3 134.5L635.9 131.0L635.5 127.5M633.9 131.8L635.5 127.5L638.1 131.3M660.4 147.7L660.1 144.4L659.9 141.2L659.6 138.0L659.3 134.7L659.1 131.5L658.8 128.2M657.2 132.2L658.8 128.2L661.1 131.9M160.0 159.4L162.0 158.7L163.9 158.0L165.8 157.4L167.8 156.7L169.7 156.1L171.7 155.5M168.4 155.0L171.7 155.5L169.3 157.8M183.2 158.9L185.0 158.3L186.8 157.9L188.7 157.4L190.5 156.9L192.4 156.4L194.2 155.9M191.0 155.3L194.2 155.9L191.8 158.2M207.2 160.3L208.7 159.4L210.1 158.4L211.5 157.4L212.9 156.4L214.3 155.3L215.6 154.3M212.4 154.9L215.6 154.3L214.3 157.3M230.7 162.3L231.9 160.6L233.1 159.0L234.4 157.4L235.6 155.8L236.8 154.1L238.0 152.5M235.0 154.0L238.0 152.5L237.5 155.7M255.1 163.4L256.0 161.4L256.8 159.4L257.6 157.4L258.4 155.4L259.1 153.3L259.8 151.2M257.5 153.6L259.8 151.2L260.3 154.5M284.1 162.9L283.6 161.0L283.0 159.2L282.3 157.4L281.7 155.6L280.9 153.8L280.3 152.0M279.9 155.2L280.3 152.0L282.7 154.3M307.3 166.3L306.8 163.3L306.1 160.4L305.4 157.4L304.7 154.4L303.9 151.5L303.1 148.6M302.3 152.5L303.1 148.6L305.8 151.5M329.4 168.2L329.1 164.6L328.7 161.0L328.3 157.4L327.8 153.8L327.3 150.2L326.8 146.6M325.3 151.1L326.8 146.6L329.6 150.5M351.7 169.4L351.5 165.4L351.4 161.4L351.1 157.4L350.9 153.4L350.6 149.4L350.3 145.4M348.4 150.0L350.3 145.4L352.9 149.7M374.4 169.9L374.3 165.7L374.2 161.6L374.0 157.4L373.8 153.2L373.6 149.0L373.3 144.9M371.3 149.5L373.3 144.9L375.9 149.2M397.3 170.2L397.1 165.9L397.0 161.7L396.8 157.4L396.6 153.1L396.4 148.8L396.2 144.6M394.2 149.2L396.2 144.6L398.7 148.9M419.9 170.8L419.8 166.4L419.8 161.9L419.7 157.4L419.6 152.9L419.5 148.4L419.4 143.9M417.2 148.4L419.4 143.9L421.8 148.3M442.7 171.3L442.6 166.7L442.6 162.0L442.5 157.4L442.5 152.7L442.5 148.1L442.5 143.5M440.2 147.9L442.5 143.5L444.7 147.9M465.6 171.4L465.5 166.7L465.4 162.1L465.4 157.4L465.3 152.7L465.3 148.1L465.3 143.4M463.0 147.9L465.3 143.4L467.6 147.8M488.5 171.2L488.4 166.6L488.3 162.0L488.2 157.4L488.2 152.8L488.1 148.2L488.1 143.6M485.8 148.0L488.1 143.6L490.4 148.0M511.4 171.0L511.2 166.4L511.1 161.9L511.1 157.4L511.0 152.9L511.0 148.3L511.0 143.8M508.7 148.3L511.0 143.8L513.3 148.3M534.1 170.6L534.0 166.2L533.9 161.8L533.9 157.4L533.9 153.0L534.0 148.6L534.1 144.2M531.7 148.6L534.1 144.2L536.2 148.7M556.7 169.8L556.7 165.7L556.7 161.5L556.8 157.4L556.9 153.2L557.1 149.1L557.3 145.0M554.8 149.3L557.3 145.0L559.3 149.6M580.1 169.0L579.9 165.1L579.7 161.3L579.6 157.4L579.5 153.5L579.5 149.7L579.5 145.8M577.2 150.3L579.5 145.8L581.8 150.3M603.9 168.1L603.4 164.6L602.9 161.0L602.5 157.4L602.0 153.8L601.6 150.2L601.3 146.6M599.5 151.1L601.3 146.6L603.8 150.6M627.6 166.8L626.8 163.7L626.0 160.6L625.3 157.4L624.6 154.2L624.0 151.1L623.4 147.9M622.2 152.0L623.4 147.9L626.0 151.3M650.0 165.3L649.3 162.7L648.7 160.0L648.2 157.4L647.6 154.7L647.1 152.1L646.7 149.4M645.6 152.8L646.7 149.4L648.8 152.3M671.3 167.5L671.1 164.1L671.1 160.8L671.0 157.4L671.0 154.0L670.9 150.6L670.9 147.3M668.9 151.3L670.9 147.3L673.0 151.2M147.3 180.4L149.6 179.2L152.0 178.0L154.4 176.8L156.8 175.6L159.2 174.4L161.5 173.2M158.0 173.2L161.5 173.2L159.5 176.1M170.9 180.7L173.0 179.4L175.1 178.1L177.2 176.8L179.4 175.5L181.5 174.2L183.6 172.9M180.3 173.1L183.6 172.9L181.8 175.7M194.6 180.3L196.4 179.1L198.3 178.0L200.1 176.8L201.9 175.7L203.7 174.5L205.5 173.3M202.3 173.7L205.5 173.3L203.9 176.2M218.9 182.3L220.3 180.5L221.6 178.7L223.0 176.8L224.3 175.0L225.6 173.1L226.9 171.3M224.0 172.8L226.9 171.3L226.4 174.5M241.4 184.6L242.9 182.0L244.3 179.4L245.8 176.8L247.3 174.2L248.7 171.6L250.1 169.0M246.9 171.2L250.1 169.0L250.0 172.9M266.4 185.2L267.7 182.4L268.9 179.6L270.0 176.8L271.2 174.0L272.2 171.1L273.0 168.2M270.3 171.2L273.0 168.2L273.8 172.1M293.5 185.6L293.8 182.7L294.0 179.7L294.0 176.8L294.0 173.9L294.0 171.0L293.8 168.1M292.3 171.6L293.8 168.1L295.8 171.4M317.2 187.1L317.2 183.7L317.0 180.3L316.9 176.8L316.7 173.4L316.4 170.0L316.0 166.5M314.4 170.8L316.0 166.5L318.5 170.4M339.5 188.6L339.7 184.6L339.7 180.7L339.7 176.8L339.7 172.9L339.6 169.0L339.4 165.1M337.3 169.6L339.4 165.1L341.9 169.4M362.2 189.4L362.4 185.2L362.5 181.0L362.6 176.8L362.6 172.6L362.6 168.4L362.6 164.2M360.4 168.7L362.6 164.2L364.9 168.7M385.2 189.8L385.3 185.5L385.4 181.1L385.4 176.8L385.4 172.5L385.4 168.2L385.3 163.8M383.1 168.3L385.3 163.8L387.7 168.3M408.3 190.1L408.3 185.7L408.3 181.3L408.2 176.8L408.2 172.4L408.2 168.0L408.1 163.5M405.9 168.0L408.1 163.5L410.4 167.9M431.3 190.4L431.2 185.9L431.2 181.4L431.1 176.8L431.0 172.3L431.0 167.7L430.9 163.2M428.7 167.7L430.9 163.2L433.3 167.6M454.3 190.6L454.2 186.0L454.0 181.4L454.0 176.8L453.9 172.2L453.8 167.7L453.7 163.1M451.5 167.6L453.7 163.1L456.0 167.5M477.3 190.4L477.1 185.9L477.0 181.4L476.8 176.8L476.6 172.3L476.5 167.7L476.4 163.2M474.2 167.7L476.4 163.2L478.8 167.6M500.4 190.1L500.1 185.7L499.9 181.3L499.7 176.8L499.4 172.4L499.3 167.9L499.1 163.5M497.0 168.0L499.1 163.5L501.5 167.9M523.4 189.7L523.1 185.4L522.8 181.1L522.5 176.8L522.2 172.5L522.0 168.2L521.9 163.9M519.8 168.5L521.9 163.9L524.3 168.3M546.3 189.1L545.9 185.0L545.6 180.9L545.4 176.8L545.1 172.7L544.9 168.6L544.8 164.5M542.6 169.0L544.8 164.5L547.2 168.9M569.1 188.5L568.8 184.6L568.5 180.7L568.2 176.8L567.9 172.9L567.7 169.0L567.6 165.1M565.5 169.7L567.6 165.1L570.0 169.5M592.3 187.7L591.9 184.0L591.5 180.4L591.1 176.8L590.6 173.2L590.3 169.6L589.9 166.0M588.2 170.4L589.9 166.0L592.5 170.0M616.3 186.7L615.5 183.4L614.7 180.1L613.9 176.8L613.1 173.5L612.4 170.2L611.7 166.9M610.5 171.2L611.7 166.9L614.5 170.4M640.0 183.0L638.9 181.0L637.8 178.9L636.8 176.8L635.7 174.7L634.8 172.6L633.9 170.4M633.6 173.7L633.9 170.4L636.4 172.6M661.3 181.0L660.7 179.6L660.2 178.2L659.6 176.8L659.0 175.4L658.5 174.0L658.0 172.6M657.6 175.8L658.0 172.6L660.4 174.9M157.5 201.3L160.3 199.7L163.1 198.0L165.8 196.2L168.6 194.5L171.4 192.8L174.1 191.1M169.8 191.4L174.1 191.1L171.9 194.8M180.4 201.1L183.1 199.5L185.9 197.9L188.7 196.2L191.4 194.6L194.2 192.9L196.8 191.1M192.6 191.6L196.8 191.1L194.8 194.8M204.3 203.1L206.8 200.9L209.2 198.6L211.5 196.2L213.9 193.9L216.2 191.5L218.4 189.0M214.3 190.6L218.4 189.0L217.2 193.2M228.5 204.9L230.5 202.1L232.5 199.2L234.4 196.2L236.3 193.3L238.1 190.4L240.0 187.4M236.0 189.8L240.0 187.4L239.6 192.0M252.1 206.1L254.0 202.9L255.8 199.6L257.6 196.2L259.4 192.9L261.1 189.6L262.8 186.2M258.8 189.2L262.8 186.2L262.8 191.2M278.7 206.8L279.9 203.3L281.1 199.8L282.3 196.2L283.6 192.7L284.7 189.2L285.7 185.6M282.4 189.2L285.7 185.6L286.7 190.4M304.8 206.6L305.0 203.1L305.3 199.7L305.4 196.2L305.6 192.8L305.7 189.4L305.8 185.9M303.7 189.9L305.8 185.9L307.8 190.0M327.3 208.0L327.7 204.1L328.0 200.2L328.3 196.2L328.5 192.3L328.7 188.4L328.8 184.5M326.4 188.9L328.8 184.5L331.0 189.0M349.5 209.0L350.1 204.8L350.7 200.5L351.1 196.2L351.6 192.0L351.9 187.7L352.2 183.4M349.7 187.7L352.2 183.4L354.2 188.0M373.0 209.4L373.4 205.0L373.7 200.6L374.0 196.2L374.3 191.9L374.5 187.5L374.7 183.1M372.2 187.4L374.7 183.1L376.8 187.6M396.5 209.6L396.6 205.2L396.7 200.7L396.8 196.2L396.9 191.8L397.0 187.3L397.1 182.9M394.7 187.3L397.1 182.9L399.3 187.4M419.7 209.8L419.7 205.3L419.7 200.8L419.7 196.2L419.7 191.7L419.6 187.2L419.6 182.7M417.4 187.2L419.6 182.7L421.9 187.2M442.9 209.8L442.7 205.3L442.6 200.8L442.5 196.2L442.4 191.7L442.3 187.2L442.2 182.7M440.1 187.2L442.2 182.7L444.6 187.1M466.0 209.7L465.8 205.2L465.6 200.7L465.4 196.2L465.2 191.8L465.0 187.3L464.8 182.8M462.7 187.3L464.8 182.8L467.3 187.1M489.2 209.4L488.8 205.0L488.5 200.6L488.2 196.2L487.9 191.9L487.7 187.5L487.4 183.1M485.4 187.7L487.4 183.1L489.9 187.4M512.5 208.9L512.0 204.7L511.5 200.5L511.1 196.2L510.7 192.0L510.3 187.8L509.9 183.6M508.0 188.2L509.9 183.6L512.6 187.9M535.7 208.2L535.1 204.2L534.5 200.2L533.9 196.2L533.4 192.3L532.9 188.2L532.5 184.2M530.7 188.9L532.5 184.2L535.2 188.4M558.6 207.7L557.9 203.9L557.3 200.1L556.8 196.2L556.2 192.4L555.7 188.6L555.3 184.7M553.5 189.4L555.3 184.7L558.0 188.9M580.8 207.3L580.4 203.6L580.0 199.9L579.6 196.2L579.2 192.6L578.9 188.9L578.5 185.2M576.7 189.8L578.5 185.2L581.1 189.3M603.3 205.4L603.1 202.3L602.8 199.3L602.5 196.2L602.1 193.2L601.8 190.2L601.4 187.1M600.0 191.0L601.4 187.1L603.7 190.5M626.4 200.8L626.1 199.3L625.7 197.8L625.3 196.2L624.9 194.7L624.5 193.2L624.0 191.7M623.4 195.0L624.0 191.7L626.3 194.1M650.9 200.7L650.1 199.2L649.2 197.7L648.2 196.2L647.2 194.8L646.2 193.4L645.2 191.9M645.6 195.2L645.2 191.9L648.1 193.5M671.6 201.3L671.4 199.6L671.2 197.9L671.0 196.2L670.9 194.6L670.7 192.9L670.4 191.2M669.3 194.3L670.4 191.2L672.3 193.9M144.0 221.3L147.4 219.4L150.9 217.6L154.4 215.7L157.9 213.8L161.3 211.9L164.8 210.0M159.8 210.2L164.8 210.0L162.0 214.1M166.9 221.0L170.3 219.2L173.8 217.4L177.2 215.7L180.7 213.9L184.2 212.2L187.6 210.3M182.6 210.4L187.6 210.3L184.8 214.4M192.6 220.9L195.2 219.2L197.7 217.5L200.1 215.7L202.5 213.8L204.9 211.9L207.2 210.0M203.3 210.9L207.2 210.0L205.7 213.7M216.7 222.8L218.9 220.5L221.0 218.1L223.0 215.7L224.9 213.2L226.9 210.7L228.9 208.3M225.1 210.0L228.9 208.3L228.1 212.4M239.2 223.5L241.4 220.9L243.6 218.3L245.8 215.7L248.0 213.1L250.0 210.4L252.0 207.6M248.0 209.7L252.0 207.6L251.4 212.0M266.5 224.8L267.6 221.7L268.8 218.7L270.0 215.7L271.2 212.6L272.4 209.6L273.6 206.6M270.4 209.4L273.6 206.6L274.0 210.9M291.8 227.0L292.6 223.2L293.3 219.4L294.0 215.7L294.7 211.9L295.4 208.1L296.0 204.4M293.0 208.4L296.0 204.4L297.5 209.1M315.3 227.7L315.8 223.7L316.4 219.7L316.9 215.7L317.3 211.7L317.8 207.7L318.2 203.6M315.5 207.9L318.2 203.6L320.0 208.3M337.8 228.6L338.4 224.3L339.1 220.0L339.7 215.7L340.3 211.4L341.0 207.1L341.6 202.7M338.7 206.8L341.6 202.7L343.2 207.5M360.8 229.1L361.4 224.6L362.0 220.2L362.6 215.7L363.1 211.2L363.7 206.7L364.2 202.3M361.4 206.4L364.2 202.3L365.9 206.9M384.6 229.2L384.9 224.7L385.1 220.2L385.4 215.7L385.7 211.2L385.9 206.7L386.1 202.2M383.6 206.5L386.1 202.2L388.2 206.8M408.1 229.2L408.2 224.7L408.2 220.2L408.2 215.7L408.3 211.2L408.4 206.7L408.4 202.2M406.1 206.6L408.4 202.2L410.6 206.6M431.4 229.2L431.3 224.7L431.2 220.2L431.1 215.7L431.0 211.2L431.0 206.6L430.9 202.1M428.7 206.6L430.9 202.1L433.2 206.6M454.6 229.1L454.4 224.7L454.1 220.2L454.0 215.7L453.8 211.2L453.6 206.7L453.4 202.2M451.3 206.8L453.4 202.2L455.8 206.6M477.9 228.8L477.5 224.4L477.1 220.0L476.8 215.7L476.5 211.3L476.2 206.9L475.9 202.6M473.9 207.2L475.9 202.6L478.4 206.9M501.3 228.2L500.7 224.0L500.1 219.8L499.7 215.7L499.2 211.5L498.7 207.3L498.3 203.2M496.5 207.8L498.3 203.2L501.0 207.4M524.6 227.4L523.8 223.5L523.2 219.6L522.5 215.7L521.8 211.8L521.2 207.8L520.7 203.9M519.1 208.6L520.7 203.9L523.5 208.0M547.5 226.9L546.8 223.2L546.1 219.4L545.4 215.7L544.6 211.9L543.9 208.2L543.1 204.5M541.8 209.3L543.1 204.5L546.2 208.4M569.8 227.2L569.3 223.4L568.7 219.5L568.2 215.7L567.7 211.8L567.1 208.0L566.6 204.1M565.0 208.9L566.6 204.1L569.5 208.2M591.7 226.2L591.5 222.7L591.3 219.2L591.1 215.7L590.8 212.2L590.6 208.7L590.3 205.2M588.5 209.4L590.3 205.2L592.7 209.1M613.6 224.3L613.7 221.4L613.8 218.5L613.9 215.7L614.0 212.8L614.0 210.0L613.9 207.1M612.3 210.5L613.9 207.1L615.7 210.4M636.4 222.5L636.5 220.3L636.6 218.0L636.8 215.7L636.9 213.4L636.9 211.1L636.8 208.8M635.4 211.8L636.8 208.8L638.4 211.7M660.7 222.9L660.4 220.5L660.0 218.1L659.6 215.7L659.2 213.3L658.8 210.9L658.3 208.5M657.4 211.7L658.3 208.5L660.3 211.1M153.6 241.8L157.7 239.6L161.8 237.4L165.8 235.1L169.9 232.8L173.9 230.6L178.0 228.4M173.0 228.5L178.0 228.4L175.2 232.5M177.6 240.7L181.3 238.8L185.0 236.9L188.7 235.1L192.4 233.3L196.0 231.3L199.6 229.3M194.6 229.5L199.6 229.3L196.9 233.5M202.5 241.5L205.6 239.5L208.6 237.3L211.5 235.1L214.5 232.9L217.4 230.6L220.2 228.2M215.4 229.3L220.2 228.2L218.3 232.7M228.3 240.7L230.3 238.9L232.4 237.0L234.4 235.1L236.4 233.2L238.3 231.3L240.2 229.2M236.8 230.5L240.2 229.2L239.2 232.8M253.9 243.0L255.3 240.4L256.5 237.8L257.6 235.1L258.7 232.4L259.8 229.8L261.0 227.1M258.0 229.6L261.0 227.1L261.2 230.9M279.4 248.0L280.4 243.7L281.3 239.4L282.3 235.1L283.4 230.8L284.4 226.6L285.4 222.3M282.2 226.1L285.4 222.3L286.6 227.1M303.4 247.8L304.1 243.6L304.7 239.3L305.4 235.1L306.1 230.9L306.8 226.7L307.4 222.4M304.5 226.5L307.4 222.4L309.0 227.2M326.3 248.1L326.9 243.8L327.6 239.4L328.3 235.1L328.9 230.8L329.6 226.4L330.2 222.1M327.3 226.2L330.2 222.1L331.8 226.9M349.2 248.5L349.8 244.0L350.5 239.6L351.1 235.1L351.8 230.6L352.4 226.2L353.1 221.7M350.2 225.8L353.1 221.7L354.7 226.5M372.8 248.7L373.2 244.1L373.6 239.6L374.0 235.1L374.4 230.6L374.8 226.1L375.2 221.6M372.5 225.8L375.2 221.6L377.0 226.2M396.6 248.6L396.7 244.1L396.7 239.6L396.8 235.1L396.9 230.6L397.0 226.1L397.1 221.6M394.7 226.0L397.1 221.6L399.3 226.1M419.9 248.7L419.8 244.2L419.7 239.6L419.7 235.1L419.6 230.6L419.6 226.1L419.5 221.5M417.3 226.0L419.5 221.5L421.8 226.0M443.1 248.6L442.9 244.1L442.7 239.6L442.5 235.1L442.4 230.6L442.2 226.1L442.0 221.6M439.9 226.1L442.0 221.6L444.5 226.0M466.4 248.3L466.0 243.9L465.7 239.5L465.4 235.1L465.1 230.7L464.7 226.3L464.5 221.9M462.5 226.5L464.5 221.9L467.0 226.2M489.9 247.7L489.3 243.5L488.7 239.3L488.2 235.1L487.7 230.9L487.2 226.7L486.8 222.5M485.0 227.2L486.8 222.5L489.5 226.7M513.4 246.6L512.6 242.8L511.8 239.0L511.1 235.1L510.3 231.3L509.6 227.4L509.0 223.5M507.5 228.3L509.0 223.5L512.0 227.5M536.7 245.8L535.7 242.2L534.8 238.7L533.9 235.1L533.1 231.5L532.3 228.0L531.5 224.4M530.3 229.0L531.5 224.4L534.6 228.1M559.2 245.9L558.2 242.3L557.4 238.7L556.8 235.1L556.1 231.5L555.5 227.8L554.9 224.2M553.5 228.8L554.9 224.2L557.8 228.1M581.9 247.3L580.9 243.3L580.2 239.2L579.6 235.1L579.1 231.0L578.6 226.9L578.1 222.8M576.3 227.5L578.1 222.8L580.8 226.9M603.0 243.6L602.7 240.8L602.5 237.9L602.5 235.1L602.4 232.3L602.4 229.4L602.4 226.6M600.7 229.9L602.4 226.6L604.1 229.9M624.7 245.6L624.7 242.1L624.9 238.6L625.3 235.1L625.7 231.6L626.1 228.1L626.5 224.7M624.0 228.5L626.5 224.7L628.2 229.0M649.3 238.5L649.0 237.3L648.6 236.2L648.2 235.1L647.8 234.0L647.4 232.9L647.0 231.7M646.4 235.0L647.0 231.7L649.3 234.2M670.9 239.1L671.0 237.8L671.0 236.4L671.0 235.1L671.0 233.8L671.0 232.4L671.0 231.1M669.6 234.1L671.0 231.1L672.6 234.0M140.8 261.4L145.4 259.1L149.9 256.8L154.4 254.5L158.9 252.3L163.4 250.0L167.9 247.7M162.9 247.7L167.9 247.7L165.0 251.7M161.9 262.2L167.0 259.7L172.1 257.1L177.2 254.5L182.4 252.0L187.5 249.4L192.5 246.7M187.5 246.8L192.5 246.7L189.7 250.8M187.9 261.8L192.0 259.4L196.1 257.0L200.1 254.5L204.1 252.1L208.1 249.6L212.1 246.9M207.1 247.5L212.1 246.9L209.6 251.3M213.4 261.8L216.7 259.5L219.8 257.0L223.0 254.5L226.1 252.0L229.1 249.4L232.1 246.8M227.3 248.1L232.1 246.8L230.3 251.5M237.3 264.3L240.2 261.2L243.1 257.9L245.8 254.5L248.5 251.2L251.1 247.7L253.5 244.1M249.1 246.6L253.5 244.1L252.9 249.1M267.0 266.8L268.0 262.7L269.0 258.6L270.0 254.5L271.0 250.4L272.0 246.3L273.1 242.2M269.8 246.0L273.1 242.2L274.2 247.1M292.4 266.9L292.9 262.8L293.4 258.7L294.0 254.5L294.6 250.4L295.2 246.3L295.9 242.2M292.9 246.2L295.9 242.2L297.4 247.0M314.8 267.4L315.5 263.1L316.2 258.8L316.9 254.5L317.5 250.2L318.2 246.0L318.9 241.7M315.9 245.7L318.9 241.7L320.4 246.4M337.5 267.8L338.3 263.4L339.0 259.0L339.7 254.5L340.4 250.1L341.1 245.7L341.8 241.3M338.9 245.3L341.8 241.3L343.4 246.0M360.9 268.0L361.5 263.5L362.0 259.0L362.6 254.5L363.1 250.0L363.6 245.5L364.1 241.0M361.4 245.2L364.1 241.0L365.9 245.7M384.9 268.1L385.0 263.6L385.2 259.1L385.4 254.5L385.6 250.0L385.8 245.5L386.0 241.0M383.5 245.3L386.0 241.0L388.0 245.5M408.3 268.1L408.3 263.6L408.3 259.1L408.2 254.5L408.2 250.0L408.2 245.5L408.2 241.0M406.0 245.4L408.2 241.0L410.5 245.4M431.4 268.0L431.3 263.5L431.2 259.0L431.1 254.5L431.0 250.0L430.9 245.5L430.8 241.0M428.6 245.5L430.8 241.0L433.1 245.4M454.7 267.8L454.5 263.4L454.2 259.0L454.0 254.5L453.7 250.1L453.4 245.7L453.2 241.3M451.2 245.8L453.2 241.3L455.7 245.6M478.2 267.3L477.7 263.1L477.3 258.8L476.8 254.5L476.3 250.3L475.9 246.0L475.5 241.7M473.7 246.4L475.5 241.7L478.2 245.9M502.0 266.1L501.2 262.2L500.4 258.4L499.7 254.5L498.9 250.7L498.2 246.8L497.5 243.0M496.1 247.7L497.5 243.0L500.5 247.0M525.9 264.3L524.7 261.1L523.6 257.8L522.5 254.5L521.4 251.3L520.5 247.9L519.5 244.6M518.6 249.1L519.5 244.6L522.6 248.0M549.5 262.9L548.0 260.2L546.6 257.4L545.4 254.5L544.1 251.7L543.0 248.8L541.9 245.8M541.4 249.9L541.9 245.8L544.9 248.7M573.7 264.3L571.7 261.2L569.8 257.9L568.2 254.5L566.6 251.2L565.1 247.7L563.8 244.2M563.2 249.1L563.8 244.2L567.4 247.6M594.8 261.0L593.4 258.9L592.2 256.8L591.1 254.5L589.9 252.3L589.0 250.0L588.1 247.7M587.7 251.0L588.1 247.7L590.5 249.9M616.9 259.4L615.8 257.8L614.8 256.2L613.9 254.5L613.0 252.9L612.2 251.1L611.5 249.3M611.2 252.6L611.5 249.3L614.0 251.6M637.4 258.7L637.1 257.3L636.9 255.9L636.8 254.5L636.6 253.2L636.4 251.8L636.3 250.4M635.1 253.5L636.3 250.4L638.1 253.2M658.4 261.6L658.7 259.2L659.1 256.9L659.6 254.5L660.1 252.2L660.5 249.9L660.9 247.5M658.9 250.2L660.9 247.5L661.9 250.7M151.8 281.5L156.5 278.9L161.1 276.4L165.8 274.0L170.5 271.5L175.2 269.1L179.9 266.6M174.9 266.7L179.9 266.6L177.1 270.7M173.7 283.5L178.7 280.4L183.7 277.2L188.7 274.0L193.6 270.7L198.6 267.6L203.7 264.4M198.7 264.9L203.7 264.4L201.1 268.7M197.3 283.1L202.1 280.0L206.8 277.0L211.5 274.0L216.3 270.9L220.9 267.8L225.5 264.5M220.5 265.2L225.5 264.5L223.2 268.9M224.1 282.8L227.6 279.9L231.0 277.0L234.4 274.0L237.7 270.9L240.9 267.8L244.0 264.5M239.3 266.2L244.0 264.5L242.6 269.3M253.7 282.3L255.0 279.5L256.3 276.8L257.6 274.0L258.9 271.2L260.1 268.4L261.2 265.5M258.2 268.2L261.2 265.5L261.6 269.6M282.6 283.1L282.6 280.1L282.5 277.0L282.3 274.0L282.2 270.9L282.1 267.9L282.2 264.8M280.3 268.3L282.2 264.8L284.0 268.5M303.7 286.1L304.2 282.0L304.8 278.0L305.4 274.0L306.0 269.9L306.7 265.9L307.3 261.9M304.4 266.0L307.3 261.9L308.8 266.6M326.2 286.7L326.9 282.5L327.6 278.2L328.3 274.0L329.0 269.7L329.7 265.5L330.4 261.2M327.4 265.2L330.4 261.2L331.9 266.0M348.9 287.3L349.6 282.8L350.4 278.4L351.1 274.0L351.9 269.5L352.6 265.1L353.3 260.7M350.4 264.7L353.3 260.7L354.9 265.4M373.1 287.5L373.4 283.0L373.7 278.5L374.0 274.0L374.3 269.5L374.6 265.0L374.9 260.5M372.3 264.8L374.9 260.5L376.9 265.1M396.7 287.5L396.8 283.0L396.8 278.5L396.8 274.0L396.9 269.5L396.9 264.9L396.9 260.4M394.6 264.9L396.9 260.4L399.2 264.9M419.7 287.5L419.7 283.0L419.7 278.5L419.7 274.0L419.7 269.5L419.6 265.0L419.6 260.5M417.4 265.0L419.6 260.5L421.9 264.9M443.0 287.1L442.9 282.7L442.7 278.3L442.5 274.0L442.4 269.6L442.2 265.2L442.0 260.8M439.9 265.4L442.0 260.8L444.5 265.2M466.4 286.7L466.1 282.5L465.7 278.2L465.4 274.0L465.0 269.7L464.7 265.5L464.4 261.2M462.4 265.9L464.4 261.2L467.0 265.5M490.0 286.0L489.4 282.0L488.8 278.0L488.2 274.0L487.7 270.0L487.1 266.0L486.5 262.0M484.9 266.7L486.5 262.0L489.4 266.1M514.2 283.4L513.1 280.3L512.1 277.1L511.1 274.0L510.1 270.8L509.1 267.6L508.2 264.4M507.4 268.7L508.2 264.4L511.2 267.7M538.4 280.6L536.8 278.4L535.3 276.2L533.9 274.0L532.5 271.7L531.2 269.4L530.0 267.1M530.0 270.6L530.0 267.1L532.8 269.1M561.3 276.8L559.8 275.9L558.3 274.9L556.8 274.0L555.3 273.0L553.9 271.9L552.5 270.8M553.7 273.8L552.5 270.8L555.7 271.6M583.8 276.2L582.4 275.5L581.0 274.7L579.6 274.0L578.2 273.2L576.9 272.4L575.5 271.5M577.2 274.4L575.5 271.5L578.8 271.9M606.2 274.0L604.9 273.9L603.7 274.0L602.5 274.0L601.2 274.0L600.0 274.0L598.8 273.8M601.6 275.6L598.8 273.8L601.9 272.6M628.2 272.8L627.2 273.1L626.3 273.5L625.3 274.0L624.4 274.4L623.4 274.9L622.5 275.3M625.8 275.5L622.5 275.3L624.6 272.7M649.7 274.9L649.2 274.6L648.7 274.3L648.2 274.0L647.7 273.7L647.2 273.3L646.7 273.0M648.3 275.9L646.7 273.0L649.9 273.4M672.1 274.2L671.7 274.1L671.4 274.0L671.0 274.0L670.7 273.9L670.3 273.8L670.0 273.7M672.4 276.0L670.0 273.7L673.2 273.1M141.7 301.0L145.9 298.5L150.2 295.9L154.4 293.4L158.6 290.9L162.8 288.3L167.0 285.7M162.0 286.1L167.0 285.7L164.4 290.0M163.3 303.2L168.0 300.0L172.7 296.8L177.2 293.4L181.8 290.0L186.5 286.8L191.2 283.6M186.2 284.2L191.2 283.6L188.8 288.0M185.0 303.1L190.0 299.8L195.0 296.6L200.1 293.4L205.2 290.2L210.2 287.0L215.2 283.7M210.3 284.2L215.2 283.7L212.7 288.0M212.7 301.0L216.2 298.5L219.6 296.0L223.0 293.4L226.3 290.8L229.5 288.0L232.7 285.1M227.9 286.5L232.7 285.1L230.9 289.8M240.6 303.6L242.3 300.2L244.1 296.8L245.8 293.4L247.5 290.0L249.3 286.6L251.1 283.3M247.0 286.1L251.1 283.3L251.0 288.3M267.7 303.5L268.5 300.1L269.2 296.8L270.0 293.4L270.8 290.0L271.5 286.7L272.1 283.3M269.3 286.9L272.1 283.3L273.4 287.6M293.0 303.7L293.3 300.3L293.7 296.8L294.0 293.4L294.3 290.0L294.6 286.5L295.0 283.1M292.5 286.9L295.0 283.1L296.7 287.3M315.2 305.0L315.7 301.2L316.3 297.3L316.9 293.4L317.4 289.5L318.0 285.6L318.6 281.8M315.7 285.8L318.6 281.8L320.1 286.5M337.7 306.1L338.4 301.9L339.0 297.6L339.7 293.4L340.4 289.2L341.0 284.9L341.7 280.7M338.8 284.7L341.7 280.7L343.2 285.4M361.2 306.7L361.6 302.3L362.1 297.8L362.6 293.4L363.0 289.0L363.5 284.5L364.0 280.1M361.2 284.2L364.0 280.1L365.7 284.7M385.0 306.9L385.2 302.4L385.3 297.9L385.4 293.4L385.5 288.9L385.6 284.4L385.8 279.9M383.4 284.3L385.8 279.9L387.9 284.4M408.3 306.7L408.3 302.3L408.3 297.8L408.2 293.4L408.2 289.0L408.2 284.5L408.2 280.1M406.0 284.6L408.2 280.1L410.5 284.5M431.4 306.3L431.3 302.0L431.2 297.7L431.1 293.4L431.0 289.1L430.9 284.8L430.8 280.5M428.6 285.0L430.8 280.5L433.2 284.9M454.7 305.6L454.4 301.6L454.2 297.5L454.0 293.4L453.7 289.3L453.5 285.2L453.2 281.2M451.2 285.7L453.2 281.2L455.7 285.5M478.2 304.7L477.7 300.9L477.2 297.2L476.8 293.4L476.4 289.6L475.9 285.9L475.5 282.1M473.7 286.8L475.5 282.1L478.3 286.3M501.9 302.7L501.2 299.6L500.4 296.5L499.7 293.4L498.9 290.3L498.2 287.2L497.5 284.0M496.4 288.1L497.5 284.0L500.2 287.3M525.8 299.8L524.6 297.7L523.6 295.5L522.5 293.4L521.4 291.3L520.4 289.1L519.4 286.9M519.3 290.2L519.4 286.9L522.0 289.0M549.0 296.2L547.7 295.3L546.5 294.4L545.4 293.4L544.2 292.4L543.0 291.4L541.9 290.4M543.0 293.5L541.9 290.4L545.1 291.3M572.0 294.6L570.7 294.2L569.5 293.8L568.2 293.4L566.9 293.0L565.7 292.6L564.4 292.2M566.7 294.5L564.4 292.2L567.6 291.7M594.8 296.8L593.5 295.7L592.3 294.5L591.1 293.4L589.8 292.3L588.5 291.2L587.1 290.2M588.6 293.1L587.1 290.2L590.4 290.7M617.1 295.0L616.0 294.5L615.0 293.9L613.9 293.4L612.8 292.9L611.8 292.3L610.7 291.8M612.7 294.4L610.7 291.8L614.0 291.7M638.5 295.0L638.0 294.5L637.4 293.9L636.8 293.4L636.1 292.9L635.5 292.4L634.8 291.9M636.4 294.8L634.8 291.9L638.1 292.4M660.7 294.3L660.3 294.0L660.0 293.7L659.6 293.4L659.2 293.1L658.9 292.8L658.5 292.6M660.0 295.5L658.5 292.6L661.7 293.1M153.9 320.5L157.9 318.0L161.9 315.5L165.8 312.8L169.7 310.2L173.7 307.6L177.6 304.9M172.6 305.5L177.6 304.9L175.1 309.3M174.9 321.3L179.5 318.4L184.1 315.6L188.7 312.8L193.3 310.1L197.9 307.3L202.5 304.6M197.5 304.9L202.5 304.6L199.8 308.8M200.2 319.0L204.0 316.9L207.7 314.9L211.5 312.8L215.3 310.8L218.9 308.5L222.4 306.0M217.5 306.8L222.4 306.0L220.1 310.5M229.6 321.3L231.5 318.7L233.0 315.8L234.4 312.8L235.7 309.8L237.1 306.9L238.5 303.9M235.1 306.5L238.5 303.9L238.6 308.2M254.7 321.8L255.7 318.8L256.7 315.8L257.6 312.8L258.5 309.8L259.4 306.8L260.3 303.8M257.5 306.9L260.3 303.8L261.1 307.9M281.1 322.6L281.5 319.4L282.0 316.1L282.3 312.8L282.7 309.6L283.1 306.3L283.5 303.0M281.1 306.6L283.5 303.0L285.0 307.1M304.0 322.7L304.5 319.4L305.0 316.1L305.4 312.8L305.9 309.6L306.3 306.3L306.7 303.0M304.3 306.6L306.7 303.0L308.2 307.1M326.2 324.8L326.9 320.8L327.6 316.8L328.3 312.8L328.9 308.8L329.6 304.8L330.2 300.8M327.3 304.9L330.2 300.8L331.8 305.6M349.3 325.9L349.9 321.5L350.5 317.2L351.1 312.8L351.7 308.5L352.3 304.1L352.9 299.7M350.0 303.9L352.9 299.7L354.5 304.4M373.0 326.3L373.4 321.8L373.7 317.3L374.0 312.8L374.3 308.4L374.5 303.9L374.8 299.4M372.3 303.7L374.8 299.4L376.8 304.0M396.6 326.1L396.7 321.7L396.8 317.2L396.8 312.8L396.9 308.4L396.9 304.0L396.9 299.6M394.6 304.0L396.9 299.6L399.2 304.1M419.8 325.5L419.8 321.3L419.7 317.1L419.7 312.8L419.6 308.6L419.6 304.4L419.5 300.2M417.3 304.6L419.5 300.2L421.8 304.6M443.0 324.7L442.8 320.8L442.7 316.8L442.5 312.8L442.4 308.9L442.2 304.9L442.1 300.9M440.0 305.5L442.1 300.9L444.5 305.3M466.3 323.7L466.0 320.1L465.7 316.4L465.4 312.8L465.1 309.2L464.8 305.6L464.5 302.0M462.7 306.4L464.5 302.0L467.0 306.1M489.8 322.1L489.3 319.0L488.7 315.9L488.2 312.8L487.7 309.7L487.2 306.6L486.7 303.5M485.4 307.5L486.7 303.5L489.1 306.9M513.4 319.7L512.6 317.4L511.9 315.1L511.1 312.8L510.3 310.5L509.5 308.2L508.8 305.9M508.3 309.2L508.8 305.9L511.1 308.3M536.6 316.7L535.7 315.4L534.8 314.1L533.9 312.8L533.0 311.5L532.2 310.2L531.3 308.9M531.7 312.2L531.3 308.9L534.2 310.6M559.0 313.7L558.2 313.4L557.5 313.1L556.8 312.8L556.0 312.6L555.3 312.3L554.6 312.0M556.8 314.5L554.6 312.0L557.8 311.6M582.8 314.2L581.8 313.6L580.7 313.2L579.6 312.8L578.5 312.5L577.4 312.1L576.3 311.8M578.7 314.1L576.3 311.8L579.5 311.2M605.0 316.7L604.2 315.4L603.4 314.1L602.5 312.8L601.6 311.6L600.7 310.3L599.7 309.1M600.4 312.3L599.7 309.1L602.7 310.5M625.4 315.2L625.4 314.4L625.4 313.6L625.3 312.8L625.3 312.0L625.2 311.2L625.1 310.4M624.0 313.5L625.1 310.4L627.0 313.2M647.3 318.1L647.5 316.3L647.8 314.6L648.2 312.8L648.5 311.1L648.8 309.3L649.1 307.6M647.2 310.3L649.1 307.6L650.1 310.7M670.0 319.7L670.3 317.4L670.7 315.1L671.0 312.8L671.4 310.5L671.7 308.3L672.0 306.0M670.1 308.7L672.0 306.0L673.1 309.1M143.6 338.4L147.2 336.4L150.8 334.3L154.4 332.3L158.0 330.2L161.6 328.1L165.1 325.9M160.1 326.3L165.1 325.9L162.5 330.2M165.2 339.5L169.2 337.1L173.3 334.7L177.2 332.3L181.2 329.8L185.2 327.4L189.3 325.0M184.3 325.3L189.3 325.0L186.6 329.2M187.7 339.4L191.8 337.0L196.0 334.7L200.1 332.3L204.2 329.9L208.4 327.5L212.5 325.1M207.5 325.4L212.5 325.1L209.8 329.3M211.7 339.5L215.5 337.2L219.3 334.8L223.0 332.3L226.6 329.7L230.2 327.0L233.4 324.0M228.6 325.3L233.4 324.0L231.7 328.7M241.2 337.5L242.8 335.8L244.4 334.1L245.8 332.3L247.2 330.4L248.6 328.5L249.7 326.6M246.9 328.3L249.7 326.6L249.5 329.8M267.7 339.7L268.5 337.3L269.3 334.8L270.0 332.3L270.7 329.8L271.4 327.2L272.0 324.7M269.7 327.3L272.0 324.7L272.8 328.0M291.8 340.5L292.6 337.8L293.3 335.0L294.0 332.3L294.7 329.5L295.2 326.7L295.6 323.8M293.4 326.9L295.6 323.8L296.8 327.4M313.9 344.0L314.9 340.1L315.9 336.2L316.9 332.3L317.8 328.3L318.6 324.4L319.4 320.4M316.3 324.3L319.4 320.4L320.8 325.2M337.1 345.2L338.0 340.9L338.9 336.6L339.7 332.3L340.5 327.9L341.3 323.6L342.0 319.2M339.1 323.2L342.0 319.2L343.5 324.0M360.8 345.6L361.4 341.2L362.0 336.7L362.6 332.3L363.1 327.8L363.6 323.3L364.1 318.9M361.4 323.0L364.1 318.9L365.9 323.5M384.6 345.4L384.9 341.0L385.2 336.7L385.4 332.3L385.6 327.9L385.9 323.5L386.0 319.1M383.6 323.4L386.0 319.1L388.1 323.6M408.1 344.9L408.1 340.7L408.2 336.5L408.2 332.3L408.3 328.1L408.3 323.9L408.4 319.7M406.1 324.1L408.4 319.7L410.6 324.1M431.3 344.0L431.2 340.1L431.2 336.2L431.1 332.3L431.0 328.3L431.0 324.4L430.9 320.5M428.7 325.0L430.9 320.5L433.2 324.9M454.4 342.9L454.3 339.4L454.1 335.8L454.0 332.3L453.8 328.7L453.6 325.2L453.4 321.6M451.5 325.9L453.4 321.6L455.8 325.7M477.8 341.6L477.5 338.5L477.1 335.4L476.8 332.3L476.5 329.1L476.1 326.0L475.8 322.9M474.3 326.8L475.8 322.9L478.0 326.4M501.3 339.9L500.8 337.3L500.2 334.8L499.7 332.3L499.1 329.7L498.5 327.2L498.0 324.7M497.1 328.0L498.0 324.7L500.2 327.3M525.0 337.5L524.2 335.7L523.3 334.0L522.5 332.3L521.7 330.5L520.9 328.8L520.1 327.0M519.9 330.3L520.1 327.0L522.7 329.1M547.5 335.8L546.8 334.6L546.1 333.4L545.4 332.3L544.6 331.1L543.9 329.9L543.2 328.8M543.5 332.1L543.2 328.8L546.0 330.4M569.9 337.6L569.3 335.8L568.7 334.0L568.2 332.3L567.7 330.5L567.1 328.7L566.4 327.0M566.1 330.3L566.4 327.0L568.9 329.2M591.6 335.3L591.4 334.3L591.2 333.3L591.1 332.3L590.9 331.2L590.8 330.2L590.6 329.2M589.7 332.4L590.6 329.2L592.6 331.8M614.1 334.4L614.0 333.7L613.9 333.0L613.9 332.3L613.9 331.5L613.8 330.8L613.7 330.1M612.5 333.1L613.7 330.1L615.5 332.9M636.9 338.4L636.8 336.3L636.8 334.3L636.8 332.3L636.7 330.2L636.7 328.2L636.8 326.2M635.2 329.1L636.8 326.2L638.2 329.1M660.0 337.7L659.8 335.9L659.7 334.1L659.6 332.3L659.5 330.5L659.5 328.6L659.5 326.8M658.0 329.8L659.5 326.8L661.0 329.8M156.0 356.6L159.3 355.0L162.6 353.3L165.8 351.7L169.1 350.0L172.3 348.4L175.6 346.6M170.7 346.7L175.6 346.6L172.8 350.6M178.6 357.2L181.9 355.4L185.3 353.6L188.7 351.7L192.0 349.8L195.4 347.9L198.7 346.0M193.7 346.3L198.7 346.0L196.0 350.2M200.1 358.7L203.9 356.4L207.7 354.0L211.5 351.7L215.4 349.4L219.2 347.0L223.0 344.6M218.0 345.1L223.0 344.6L220.4 348.9M225.7 357.6L228.6 355.7L231.5 353.7L234.4 351.7L237.2 349.7L240.0 347.6L242.7 345.4M238.2 346.4L242.7 345.4L240.9 349.6M253.1 358.6L254.7 356.4L256.2 354.1L257.6 351.7L259.0 349.3L260.3 346.9L261.6 344.5M258.6 346.6L261.6 344.5L261.6 348.1M278.1 361.6L279.6 358.3L281.0 355.0L282.3 351.7L283.7 348.4L285.0 345.0L286.1 341.6M282.7 344.9L286.1 341.6L286.8 346.3M301.1 364.3L302.6 360.1L304.0 355.9L305.4 351.7L306.8 347.5L308.2 343.2L309.5 338.9M306.0 342.5L309.5 338.9L310.4 343.9M325.0 364.8L326.1 360.5L327.2 356.1L328.3 351.7L329.3 347.3L330.4 342.9L331.4 338.5M328.2 342.3L331.4 338.5L332.6 343.4M348.8 365.1L349.6 360.6L350.4 356.2L351.1 351.7L351.9 347.2L352.7 342.8L353.4 338.3M350.4 342.3L353.4 338.3L354.9 343.1M372.6 364.9L373.1 360.5L373.5 356.1L374.0 351.7L374.4 347.3L374.8 342.9L375.3 338.5M372.6 342.7L375.3 338.5L377.1 343.2M396.3 364.3L396.5 360.1L396.6 355.9L396.8 351.7L397.0 347.5L397.2 343.3L397.3 339.0M394.9 343.4L397.3 339.0L399.4 343.6M419.6 363.5L419.6 359.6L419.7 355.6L419.7 351.7L419.7 347.7L419.7 343.8L419.7 339.8M417.4 344.3L419.7 339.8L422.0 344.3M442.8 362.5L442.7 358.9L442.6 355.3L442.5 351.7L442.4 348.1L442.3 344.5L442.2 340.9M440.2 345.2L442.2 340.9L444.5 345.1M466.1 361.2L465.8 358.0L465.6 354.9L465.4 351.7L465.1 348.5L464.9 345.3L464.7 342.2M463.1 346.0L464.7 342.2L466.9 345.8M489.5 359.7L489.1 357.1L488.6 354.4L488.2 351.7L487.8 349.0L487.4 346.3L487.0 343.6M485.9 347.0L487.0 343.6L489.1 346.5M513.1 357.8L512.4 355.8L511.8 353.7L511.1 351.7L510.4 349.6L509.7 347.6L509.1 345.5M508.5 348.8L509.1 345.5L511.4 347.9M536.5 355.8L535.6 354.4L534.8 353.1L533.9 351.7L533.1 350.3L532.2 349.0L531.3 347.6M531.6 350.9L531.3 347.6L534.2 349.3M558.7 354.4L558.0 353.5L557.4 352.6L556.8 351.7L556.2 350.8L555.6 349.9L555.0 348.9M555.3 352.2L555.0 348.9L557.8 350.6M582.8 356.0L581.7 354.6L580.6 353.2L579.6 351.7L578.6 350.2L577.7 348.7L576.8 347.1M577.0 350.4L576.8 347.1L579.5 348.9M605.2 352.6L604.3 352.3L603.4 352.0L602.5 351.7L601.6 351.4L600.7 351.1L599.8 350.8M602.0 353.2L599.8 350.8L603.0 350.4M626.3 353.4L626.0 352.8L625.6 352.3L625.3 351.7L625.0 351.1L624.7 350.5L624.4 349.9M624.4 353.2L624.4 349.9L627.1 351.9M650.0 354.4L649.4 353.5L648.7 352.6L648.2 351.7L647.6 350.8L647.1 349.8L646.6 348.8M646.6 352.1L646.6 348.8L649.2 350.8M671.2 355.6L671.1 354.3L671.1 353.0L671.0 351.7L671.0 350.4L671.0 349.1L670.9 347.8M669.5 350.8L670.9 347.8L672.5 350.7M145.8 375.8L148.7 374.2L151.5 372.7L154.4 371.1L157.3 369.6L160.2 368.0L163.0 366.5M158.7 366.6L163.0 366.5L160.6 370.0M168.9 375.8L171.7 374.2L174.5 372.7L177.2 371.1L180.0 369.6L182.8 368.0L185.6 366.5M181.4 366.7L185.6 366.5L183.3 370.0M191.1 377.4L194.1 375.3L197.1 373.2L200.1 371.1L203.1 369.0L206.0 366.9L209.1 364.8M204.3 365.5L209.1 364.8L206.8 369.1M210.4 380.2L214.6 377.2L218.8 374.2L223.0 371.1L227.1 368.1L231.2 365.0L235.3 361.8M230.4 362.7L235.3 361.8L233.2 366.3M235.9 381.7L239.2 378.2L242.6 374.7L245.8 371.1L249.0 367.5L252.2 363.9L255.3 360.1M250.7 362.2L255.3 360.1L254.2 365.0M263.1 381.8L265.5 378.3L267.8 374.7L270.0 371.1L272.2 367.5L274.3 363.8L276.3 360.1M272.2 363.0L276.3 360.1L276.2 365.1M288.5 383.4L290.4 379.3L292.3 375.2L294.0 371.1L295.7 367.0L297.4 362.8L299.0 358.6M295.3 362.0L299.0 358.6L299.5 363.6M313.0 384.3L314.3 379.9L315.6 375.5L316.9 371.1L318.1 366.7L319.4 362.3L320.6 357.9M317.2 361.6L320.6 357.9L321.6 362.8M337.1 384.4L338.0 380.0L338.8 375.5L339.7 371.1L340.6 366.7L341.4 362.3L342.3 357.8M339.2 361.8L342.3 357.8L343.7 362.7M360.9 384.2L361.5 379.8L362.0 375.5L362.6 371.1L363.1 366.8L363.7 362.4L364.2 358.0M361.4 362.2L364.2 358.0L365.9 362.7M384.5 383.8L384.8 379.6L385.1 375.4L385.4 371.1L385.7 366.9L386.0 362.7L386.3 358.4M383.7 362.7L386.3 358.4L388.2 363.0M408.0 383.2L408.1 379.2L408.2 375.1L408.2 371.1L408.3 367.1L408.4 363.1L408.5 359.1M406.2 363.5L408.5 359.1L410.7 363.6M431.3 382.2L431.2 378.5L431.2 374.8L431.1 371.1L431.0 367.4L431.0 363.7L430.9 360.0M428.8 364.4L430.9 360.0L433.2 364.3M454.5 381.1L454.3 377.7L454.1 374.4L454.0 371.1L453.8 367.8L453.6 364.5L453.4 361.2M451.6 365.2L453.4 361.2L455.6 365.0M477.8 379.7L477.5 376.8L477.1 374.0L476.8 371.1L476.5 368.3L476.1 365.4L475.8 362.6M474.5 366.1L475.8 362.6L477.9 365.7M501.2 378.1L500.7 375.8L500.2 373.4L499.7 371.1L499.1 368.8L498.6 366.5L498.1 364.2M497.3 367.4L498.1 364.2L500.2 366.7M524.6 376.2L523.9 374.5L523.2 372.8L522.5 371.1L521.8 369.4L521.1 367.7L520.4 366.0M520.1 369.3L520.4 366.0L522.9 368.2M547.8 374.2L547.0 373.2L546.2 372.2L545.4 371.1L544.5 370.1L543.8 369.0L543.0 368.0M543.5 371.3L543.0 368.0L545.9 369.5M571.8 371.9L570.6 371.7L569.4 371.4L568.2 371.1L567.0 370.9L565.8 370.5L564.7 370.1M567.0 372.5L564.7 370.1L567.9 369.6M594.0 372.0L593.0 371.7L592.0 371.4L591.1 371.1L590.1 370.8L589.1 370.5L588.1 370.2M590.4 372.6L588.1 370.2L591.4 369.7M617.0 373.6L616.0 372.7L614.9 371.9L613.9 371.1L612.9 370.3L611.8 369.5L610.7 368.8M612.3 371.7L610.7 368.8L614.0 369.3M638.2 372.6L637.7 372.1L637.2 371.6L636.8 371.1L636.3 370.6L635.8 370.1L635.3 369.6M636.3 372.8L635.3 369.6L638.4 370.6M661.0 373.2L660.5 372.5L660.1 371.8L659.6 371.1L659.1 370.4L658.7 369.7L658.2 369.1M658.6 372.3L658.2 369.1L661.1 370.7M157.7 395.9L160.4 394.1L163.1 392.3L165.8 390.5L168.6 388.8L171.3 387.0L174.0 385.3M169.8 385.7L174.0 385.3L171.9 389.0M180.3 396.5L183.1 394.5L185.9 392.5L188.7 390.5L191.5 388.6L194.3 386.6L197.1 384.7M192.6 385.3L197.1 384.7L194.9 388.7M200.5 398.0L204.2 395.5L207.8 393.0L211.5 390.5L215.2 388.1L218.8 385.5L222.3 382.8M217.4 383.7L222.3 382.8L220.2 387.3M224.3 400.9L227.8 397.6L231.1 394.1L234.4 390.5L237.6 387.0L240.9 383.4L244.1 379.9M239.4 381.6L244.1 379.9L242.8 384.7M248.6 402.2L251.7 398.4L254.7 394.5L257.6 390.5L260.5 386.6L263.4 382.6L266.2 378.6M261.8 380.9L266.2 378.6L265.5 383.5M274.5 403.2L277.2 399.0L279.8 394.8L282.3 390.5L284.9 386.3L287.3 381.9L289.5 377.5M285.5 380.5L289.5 377.5L289.5 382.5M301.0 403.8L302.5 399.4L303.9 395.0L305.4 390.5L306.9 386.1L308.4 381.7L309.9 377.3M306.3 380.8L309.9 377.3L310.6 382.2M325.3 403.8L326.3 399.4L327.3 395.0L328.3 390.5L329.3 386.1L330.2 381.7L331.2 377.3M328.0 381.2L331.2 377.3L332.5 382.2M349.4 403.4L349.9 399.1L350.5 394.8L351.1 390.5L351.7 386.3L352.3 382.0L353.0 377.7M350.1 381.7L353.0 377.7L354.6 382.4M372.8 403.2L373.2 399.0L373.6 394.8L374.0 390.5L374.4 386.3L374.7 382.1L375.1 377.9M372.5 382.1L375.1 377.9L377.0 382.5M396.2 402.8L396.4 398.7L396.6 394.6L396.8 390.5L397.0 386.5L397.2 382.4L397.4 378.3M394.9 382.6L397.4 378.3L399.5 382.9M419.6 402.1L419.7 398.2L419.7 394.4L419.7 390.5L419.7 386.7L419.7 382.9L419.7 379.0M417.4 383.5L419.7 379.0L422.0 383.5M442.9 401.0L442.8 397.5L442.6 394.0L442.5 390.5L442.4 387.1L442.3 383.6L442.2 380.1M440.2 384.3L442.2 380.1L444.4 384.1M466.1 399.7L465.9 396.7L465.6 393.6L465.4 390.5L465.1 387.5L464.9 384.4L464.6 381.4M463.1 385.1L464.6 381.4L466.8 384.8M489.4 398.3L489.0 395.7L488.6 393.1L488.2 390.5L487.8 388.0L487.4 385.4L487.1 382.8M486.0 386.1L487.1 382.8L489.1 385.6M512.7 396.8L512.1 394.7L511.6 392.6L511.1 390.5L510.5 388.5L510.0 386.4L509.4 384.3M508.7 387.6L509.4 384.3L511.6 386.8M535.9 395.2L535.2 393.6L534.6 392.1L533.9 390.5L533.3 389.0L532.6 387.5L531.9 385.9M531.7 389.2L531.9 385.9L534.5 388.0M558.9 393.7L558.2 392.7L557.5 391.6L556.8 390.5L556.1 389.5L555.4 388.4L554.6 387.4M555.1 390.6L554.6 387.4L557.5 388.9M581.7 393.0L581.0 392.2L580.3 391.4L579.6 390.5L578.9 389.7L578.2 388.9L577.4 388.1M578.4 391.3L577.4 388.1L580.5 389.2M605.0 393.4L604.2 392.5L603.3 391.5L602.5 390.5L601.6 389.6L600.7 388.7L599.8 387.8M600.9 390.9L599.8 387.8L603.0 388.8M626.9 392.5L626.4 391.9L625.9 391.2L625.3 390.5L624.8 389.9L624.3 389.3L623.7 388.6M624.5 391.8L623.7 388.6L626.8 389.9M649.7 392.9L649.2 392.1L648.7 391.3L648.2 390.5L647.7 389.8L647.2 389.0L646.6 388.2M647.1 391.5L646.6 388.2L649.5 389.8M672.5 393.0L672.0 392.2L671.5 391.4L671.0 390.5L670.5 389.7L670.1 388.9L669.6 388.1M669.8 391.4L669.6 388.1L672.3 389.8M147.0 415.5L149.4 413.7L151.9 411.8L154.4 410.0L156.9 408.1L159.4 406.3L161.8 404.5M157.8 405.1L161.8 404.5L160.0 408.1M168.9 417.1L171.7 414.7L174.5 412.4L177.2 410.0L180.0 407.6L182.9 405.3L185.8 403.0M181.0 404.0L185.8 403.0L183.7 407.4M189.7 417.7L193.1 415.1L196.5 412.5L200.1 410.0L203.7 407.5L207.2 405.0L210.7 402.4M205.8 403.2L210.7 402.4L208.4 406.9M214.6 418.4L217.4 415.6L220.2 412.8L223.0 410.0L225.7 407.2L228.5 404.4L231.3 401.5M226.5 403.1L231.3 401.5L229.8 406.3M236.2 421.1L239.4 417.4L242.6 413.7L245.8 410.0L249.0 406.3L252.2 402.5L255.3 398.7M250.7 400.8L255.3 398.7L254.2 403.6M261.2 422.3L264.1 418.2L267.1 414.1L270.0 410.0L272.9 405.9L275.8 401.7L278.5 397.4M274.2 400.0L278.5 397.4L278.0 402.4M288.3 423.0L290.3 418.7L292.2 414.4L294.0 410.0L295.8 405.6L297.4 401.2L299.1 396.7M295.4 400.1L299.1 396.7L299.7 401.7M313.2 423.1L314.5 418.8L315.7 414.4L316.9 410.0L318.0 405.6L319.1 401.2L320.3 396.7M317.0 400.5L320.3 396.7L321.4 401.6M337.3 422.8L338.1 418.5L338.9 414.3L339.7 410.0L340.5 405.7L341.2 401.4L341.9 397.1M338.9 401.2L341.9 397.1L343.4 401.9M360.9 422.6L361.5 418.4L362.0 414.2L362.6 410.0L363.1 405.8L363.5 401.6L364.0 397.4M361.3 401.6L364.0 397.4L365.8 402.1M384.3 422.4L384.7 418.2L385.0 414.1L385.4 410.0L385.8 405.8L386.1 401.7L386.4 397.6M383.8 401.9L386.4 397.6L388.3 402.2M407.7 421.8L407.9 417.9L408.1 413.9L408.2 410.0L408.4 406.0L408.5 402.1L408.6 398.1M406.2 402.5L408.6 398.1L410.8 402.6M431.2 421.0L431.2 417.3L431.1 413.6L431.1 410.0L431.1 406.3L431.0 402.7L431.0 399.0M428.8 403.3L431.0 399.0L433.2 403.3M454.4 419.8L454.3 416.5L454.1 413.3L454.0 410.0L453.8 406.7L453.6 403.4L453.5 400.2M451.7 404.1L453.5 400.2L455.6 403.9M477.7 418.5L477.4 415.7L477.1 412.8L476.8 410.0L476.5 407.1L476.2 404.3L475.9 401.5M474.6 405.0L475.9 401.5L478.0 404.6M500.9 417.2L500.5 414.8L500.1 412.4L499.7 410.0L499.2 407.6L498.8 405.2L498.4 402.8M497.4 405.9L498.4 402.8L500.4 405.4M524.0 415.9L523.5 413.9L523.0 412.0L522.5 410.0L522.0 408.0L521.4 406.0L520.9 404.1M520.2 407.3L520.9 404.1L523.1 406.5M547.2 414.8L546.6 413.2L546.0 411.6L545.4 410.0L544.7 408.4L544.1 406.8L543.5 405.2M543.2 408.5L543.5 405.2L546.0 407.4M570.6 413.8L569.8 412.5L569.0 411.2L568.2 410.0L567.4 408.7L566.5 407.5L565.7 406.2M566.1 409.5L565.7 406.2L568.6 407.8M592.7 413.8L592.2 412.5L591.6 411.2L591.1 410.0L590.5 408.7L589.9 407.5L589.3 406.3M589.3 409.6L589.3 406.3L591.9 408.2M615.1 414.3L614.7 412.9L614.3 411.4L613.9 410.0L613.5 408.5L613.1 407.1L612.7 405.7M612.1 408.9L612.7 405.7L615.0 408.0M638.4 413.9L637.8 412.6L637.3 411.3L636.8 410.0L636.2 408.7L635.7 407.3L635.1 406.0M634.9 409.3L635.1 406.0L637.6 408.2M661.0 412.6L660.5 411.8L660.1 410.9L659.6 410.0L659.1 409.1L658.7 408.2L658.2 407.3M658.2 410.6L658.2 407.3L660.9 409.2M158.8 435.7L161.1 433.6L163.5 431.5L165.8 429.4L168.2 427.3L170.6 425.2L172.9 423.2M168.9 424.2L172.9 423.2L171.4 427.0M179.8 438.0L182.7 435.1L185.7 432.2L188.7 429.4L191.7 426.6L194.7 423.8L197.8 421.0M192.9 422.3L197.8 421.0L196.0 425.7M203.9 438.8L206.4 435.7L209.0 432.5L211.5 429.4L214.1 426.3L216.7 423.2L219.3 420.2M214.7 422.0L219.3 420.2L218.1 425.0M227.0 439.1L229.4 435.8L231.9 432.6L234.4 429.4L236.9 426.2L239.5 423.1L242.0 420.0M237.5 422.0L242.0 420.0L241.0 424.9M249.7 440.9L252.4 437.1L255.0 433.3L257.6 429.4L260.2 425.5L262.8 421.7L265.5 417.9M261.1 420.2L265.5 417.9L264.8 422.8M275.3 441.5L277.7 437.5L280.1 433.5L282.3 429.4L284.6 425.3L286.8 421.2L289.0 417.1M284.9 420.0L289.0 417.1L289.0 422.1M300.4 442.1L302.1 437.9L303.8 433.7L305.4 429.4L307.0 425.1L308.5 420.8L310.0 416.5M306.4 420.0L310.0 416.5L310.7 421.4M324.6 442.2L325.9 438.0L327.1 433.7L328.3 429.4L329.4 425.1L330.5 420.8L331.6 416.5M328.3 420.3L331.6 416.5L332.7 421.3M348.4 442.1L349.4 437.9L350.3 433.7L351.1 429.4L352.0 425.2L352.7 420.9L353.5 416.6M350.5 420.6L353.5 416.6L355.0 421.4M372.0 442.0L372.7 437.8L373.4 433.6L374.0 429.4L374.6 425.2L375.2 421.0L375.7 416.8M372.9 420.9L375.7 416.8L377.4 421.5M395.5 441.6L396.0 437.5L396.4 433.5L396.8 429.4L397.2 425.3L397.6 421.3L397.9 417.2M395.3 421.5L397.9 417.2L399.8 421.8M419.1 440.8L419.3 437.0L419.5 433.2L419.7 429.4L419.8 425.6L420.0 421.8L420.1 418.0M417.7 422.4L420.1 418.0L422.2 422.5M442.6 439.8L442.6 436.3L442.6 432.9L442.5 429.4L442.5 426.0L442.4 422.5L442.4 419.0M440.4 423.1L442.4 419.0L444.5 423.1M466.0 438.7L465.8 435.6L465.6 432.5L465.4 429.4L465.2 426.3L465.0 423.2L464.8 420.2M463.2 423.9L464.8 420.2L466.9 423.7M489.2 437.5L488.9 434.8L488.6 432.1L488.2 429.4L487.9 426.7L487.6 424.0L487.2 421.4M486.0 424.7L487.2 421.4L489.2 424.3M512.3 436.3L511.9 434.0L511.5 431.7L511.1 429.4L510.7 427.1L510.2 424.8L509.8 422.6M508.9 425.7L509.8 422.6L511.8 425.2M535.3 435.3L534.8 433.3L534.4 431.4L533.9 429.4L533.5 427.5L533.0 425.5L532.5 423.6M531.8 426.8L532.5 423.6L534.7 426.1M558.1 434.8L557.7 433.0L557.2 431.2L556.8 429.4L556.3 427.6L555.8 425.8L555.3 424.0M554.7 427.3L555.3 424.0L557.6 426.4M580.9 434.2L580.5 432.6L580.1 431.0L579.6 429.4L579.2 427.8L578.7 426.3L578.2 424.7M577.7 427.9L578.2 424.7L580.5 427.1M604.3 434.0L603.7 432.5L603.1 431.0L602.5 429.4L601.9 427.9L601.3 426.3L600.7 424.8M600.4 428.0L600.7 424.8L603.2 427.0M627.0 432.8L626.4 431.6L625.9 430.5L625.3 429.4L624.8 428.3L624.3 427.2L623.7 426.0M623.6 429.3L623.7 426.0L626.3 428.1M649.5 432.2L649.1 431.3L648.6 430.3L648.2 429.4L647.7 428.5L647.3 427.6L646.8 426.7M646.8 430.0L646.8 426.7L649.5 428.6M672.0 431.5L671.7 430.8L671.3 430.1L671.0 429.4L670.7 428.7L670.4 428.0L670.0 427.3M669.9 430.6L670.0 427.3L672.7 429.3M147.8 455.6L150.0 453.3L152.2 451.1L154.4 448.8L156.6 446.6L158.8 444.4L161.1 442.1M157.1 443.4L161.1 442.1L159.8 446.1M169.0 458.1L171.7 455.0L174.5 451.9L177.2 448.8L180.0 445.8L182.8 442.7L185.6 439.7M180.9 441.4L185.6 439.7L184.2 444.5M192.4 458.9L195.0 455.6L197.5 452.2L200.1 448.8L202.7 445.5L205.2 442.1L207.8 438.7M203.3 440.9L207.8 438.7L206.9 443.7M216.5 459.6L218.6 456.0L220.8 452.4L223.0 448.8L225.1 445.2L227.3 441.7L229.6 438.2M225.3 440.7L229.6 438.2L229.1 443.2M237.9 461.7L240.4 457.3L243.0 453.0L245.8 448.8L248.6 444.6L251.4 440.5L254.2 436.3M249.8 438.7L254.2 436.3L253.6 441.3M262.0 461.4L264.6 457.1L267.2 453.0L270.0 448.8L272.8 444.7L275.5 440.6L278.1 436.4M273.8 439.0L278.1 436.4L277.7 441.4M288.0 461.1L290.0 457.0L292.0 452.9L294.0 448.8L296.0 444.7L297.9 440.6L299.8 436.5M295.9 439.6L299.8 436.5L300.0 441.5M312.3 461.3L313.8 457.2L315.4 453.0L316.9 448.8L318.3 444.7L319.8 440.5L321.2 436.3M317.6 439.8L321.2 436.3L321.9 441.2M335.8 461.6L337.2 457.4L338.5 453.1L339.7 448.8L340.9 444.6L342.1 440.3L343.2 436.0M339.9 439.7L343.2 436.0L344.3 440.9M359.4 461.6L360.5 457.4L361.6 453.1L362.6 448.8L363.5 444.6L364.5 440.3L365.3 436.0M362.2 439.9L365.3 436.0L366.7 440.8M383.2 461.4L384.0 457.2L384.7 453.0L385.4 448.8L386.1 444.7L386.7 440.5L387.4 436.2M384.5 440.3L387.4 436.2L389.0 441.0M406.9 460.7L407.4 456.8L407.8 452.8L408.2 448.8L408.7 444.9L409.0 440.9L409.4 437.0M406.7 441.2L409.4 437.0L411.3 441.6M430.6 459.7L430.8 456.0L430.9 452.4L431.1 448.8L431.3 445.2L431.4 441.6L431.5 438.0M429.2 442.2L431.5 438.0L433.5 442.3M454.1 458.6L454.1 455.4L454.0 452.1L454.0 448.8L453.9 445.6L453.8 442.3L453.7 439.1M451.9 442.9L453.7 439.1L455.8 442.8M477.6 457.6L477.3 454.7L477.1 451.8L476.8 448.8L476.5 445.9L476.3 443.0L476.0 440.1M474.6 443.7L476.0 440.1L478.1 443.4M500.8 456.5L500.4 453.9L500.0 451.4L499.7 448.8L499.3 446.3L498.9 443.8L498.5 441.2M497.5 444.4L498.5 441.2L500.5 444.0M523.7 455.3L523.3 453.1L522.9 451.0L522.5 448.8L522.1 446.7L521.7 444.6L521.3 442.4M520.4 445.6L521.3 442.4L523.3 445.0M546.2 454.2L545.9 452.4L545.6 450.6L545.4 448.8L545.1 447.1L544.8 445.3L544.4 443.5M543.5 446.6L544.4 443.5L546.4 446.1M568.6 453.8L568.4 452.1L568.3 450.5L568.2 448.8L568.1 447.2L567.9 445.6L567.7 443.9M566.6 447.0L567.7 443.9L569.6 446.7M592.7 452.3L592.1 451.1L591.6 450.0L591.1 448.8L590.5 447.7L590.0 446.5L589.5 445.4M589.3 448.6L589.5 445.4L592.0 447.5M615.3 451.8L614.8 450.8L614.4 449.8L613.9 448.8L613.4 447.8L613.0 446.8L612.5 445.9M612.4 449.2L612.5 445.9L615.1 447.9M638.2 451.8L637.7 450.8L637.2 449.8L636.8 448.8L636.3 447.9L635.8 446.9L635.3 445.9M635.3 449.2L635.3 445.9L638.0 447.9M660.1 452.0L660.0 450.9L659.8 449.9L659.6 448.8L659.4 447.8L659.2 446.7L659.0 445.7M658.1 448.9L659.0 445.7L661.1 448.3M159.7 475.9L161.8 473.3L163.8 470.8L165.8 468.3L167.9 465.7L169.9 463.2L172.0 460.7M168.1 462.4L172.0 460.7L171.1 464.9M182.4 476.6L184.5 473.8L186.6 471.1L188.7 468.3L190.8 465.5L192.9 462.7L195.0 459.9M190.8 461.9L195.0 459.9L194.2 464.5M204.9 479.0L207.1 475.4L209.3 471.9L211.5 468.3L213.7 464.7L215.9 461.1L218.1 457.5M213.8 460.1L218.1 457.5L217.7 462.5M228.7 480.0L230.5 476.1L232.4 472.1L234.4 468.3L236.3 464.4L238.3 460.6L240.4 456.8M236.3 459.6L240.4 456.8L240.3 461.8M252.0 480.7L253.7 476.5L255.6 472.3L257.6 468.3L259.6 464.2L261.7 460.2L264.0 456.3M259.8 459.0L264.0 456.3L263.8 461.3M276.9 480.2L278.7 476.2L280.5 472.2L282.3 468.3L284.2 464.3L286.1 460.4L288.1 456.5M284.1 459.5L288.1 456.5L288.1 461.5M300.8 480.1L302.4 476.1L303.9 472.2L305.4 468.3L307.0 464.3L308.5 460.4L310.1 456.5M306.3 459.8L310.1 456.5L310.5 461.5M323.9 480.7L325.3 476.6L326.8 472.4L328.3 468.3L329.7 464.1L331.2 460.0L332.6 455.8M329.0 459.3L332.6 455.8L333.3 460.8M346.8 481.2L348.3 476.9L349.7 472.6L351.1 468.3L352.5 464.0L353.9 459.6L355.1 455.3M351.7 458.9L355.1 455.3L356.1 460.2M370.8 481.1L371.9 476.8L373.0 472.5L374.0 468.3L375.0 464.0L376.0 459.7L376.9 455.4M373.7 459.3L376.9 455.4L378.2 460.2M394.7 480.7L395.4 476.6L396.1 472.4L396.8 468.3L397.5 464.1L398.2 459.9L398.8 455.8M395.9 459.8L398.8 455.8L400.4 460.5M418.5 479.5L418.9 475.8L419.3 472.0L419.7 468.3L420.1 464.5L420.4 460.8L420.7 457.0M418.1 461.2L420.7 457.0L422.6 461.6M442.2 478.4L442.3 475.0L442.4 471.6L442.5 468.3L442.6 464.9L442.7 461.5L442.8 458.2M440.7 462.1L442.8 458.2L444.7 462.2M465.8 477.5L465.7 474.4L465.5 471.3L465.4 468.3L465.2 465.2L465.1 462.1L464.9 459.1M463.3 462.8L464.9 459.1L466.9 462.6M489.2 476.5L488.9 473.8L488.6 471.0L488.2 468.3L487.9 465.5L487.6 462.7L487.2 460.0M486.0 463.4L487.2 460.0L489.3 463.0M512.2 475.3L511.9 472.9L511.5 470.6L511.1 468.3L510.7 465.9L510.3 463.6L509.9 461.3M508.9 464.4L509.9 461.3L511.9 463.9M535.0 473.9L534.6 472.0L534.3 470.2L533.9 468.3L533.6 466.4L533.2 464.5L532.9 462.6M531.9 465.8L532.9 462.6L534.9 465.2M557.2 472.1L557.0 470.9L556.9 469.6L556.8 468.3L556.6 467.0L556.5 465.7L556.4 464.4M555.2 467.5L556.4 464.4L558.2 467.2M580.1 472.2L579.9 470.9L579.8 469.6L579.6 468.3L579.5 467.0L579.3 465.7L579.2 464.4M578.0 467.5L579.2 464.4L581.0 467.1M603.1 471.4L602.9 470.4L602.7 469.3L602.5 468.3L602.3 467.2L602.0 466.2L601.8 465.1M601.0 468.3L601.8 465.1L603.9 467.6M626.2 471.5L625.9 470.4L625.6 469.3L625.3 468.3L625.0 467.2L624.8 466.1L624.5 465.1M623.8 468.3L624.5 465.1L626.7 467.5M649.1 470.8L648.8 470.0L648.5 469.1L648.2 468.3L647.9 467.4L647.5 466.6L647.2 465.7M646.8 469.0L647.2 465.7L649.6 467.9M671.6 470.8L671.4 469.9L671.2 469.1L671.0 468.3L670.8 467.4L670.6 466.6L670.4 465.8M669.6 469.0L670.4 465.8L672.6 468.3M149.4 495.1L151.1 492.6L152.7 490.1L154.4 487.7L156.1 485.3L157.8 482.9L159.6 480.5M156.1 482.2L159.6 480.5L158.9 484.3M171.2 496.7L173.2 493.7L175.2 490.7L177.2 487.7L179.3 484.7L181.4 481.8L183.5 478.9M179.3 481.1L183.5 478.9L182.8 483.6M192.4 500.9L194.8 496.4L197.4 492.0L200.1 487.7L202.8 483.4L205.5 479.0L208.2 474.7M203.9 477.3L208.2 474.7L207.8 479.7M218.2 498.0L219.8 494.6L221.4 491.1L223.0 487.7L224.5 484.3L226.1 480.8L227.8 477.4M223.8 480.5L227.8 477.4L227.9 482.4M242.3 499.3L243.5 495.5L244.6 491.6L245.8 487.7L247.0 483.8L248.2 480.0L249.6 476.2M246.0 479.6L249.6 476.2L250.2 481.1M266.2 498.8L267.4 495.1L268.7 491.4L270.0 487.7L271.4 484.0L272.8 480.4L274.3 476.7M270.5 480.0L274.3 476.7L274.7 481.7M290.0 498.3L291.3 494.7L292.7 491.2L294.0 487.7L295.3 484.2L296.7 480.7L298.1 477.2M294.4 480.5L298.1 477.2L298.6 482.1M312.6 499.3L314.0 495.5L315.4 491.6L316.9 487.7L318.3 483.8L319.7 479.9L321.1 476.1M317.4 479.5L321.1 476.1L321.7 481.0M335.4 500.3L336.8 496.1L338.3 491.9L339.7 487.7L341.1 483.5L342.6 479.3L344.0 475.1M340.4 478.6L344.0 475.1L344.7 480.1M358.8 500.5L360.1 496.3L361.3 492.0L362.6 487.7L363.8 483.4L365.0 479.1L366.2 474.9M362.8 478.5L366.2 474.9L367.2 479.8M382.8 500.2L383.6 496.0L384.5 491.9L385.4 487.7L386.3 483.5L387.1 479.4L388.0 475.2M384.9 479.1L388.0 475.2L389.3 480.0M406.6 499.3L407.2 495.5L407.7 491.6L408.2 487.7L408.8 483.8L409.3 479.9L409.8 476.1M407.0 480.2L409.8 476.1L411.5 480.8M430.4 498.1L430.6 494.6L430.9 491.2L431.1 487.7L431.3 484.2L431.6 480.8L431.8 477.3M429.5 481.2L431.8 477.3L433.6 481.5M453.9 497.1L454.0 493.9L454.0 490.8L454.0 487.7L453.9 484.6L453.9 481.5L453.9 478.3M452.1 482.0L453.9 478.3L455.8 482.0M477.4 496.1L477.2 493.3L477.0 490.5L476.8 487.7L476.6 484.9L476.4 482.1L476.2 479.3M474.7 482.7L476.2 479.3L478.1 482.4M500.6 495.0L500.3 492.6L500.0 490.1L499.7 487.7L499.3 485.3L499.0 482.8L498.7 480.4M497.6 483.5L498.7 480.4L500.6 483.1M523.6 493.7L523.2 491.7L522.9 489.7L522.5 487.7L522.1 485.7L521.8 483.7L521.4 481.7M520.5 484.8L521.4 481.7L523.4 484.3M546.2 492.4L545.9 490.8L545.6 489.3L545.4 487.7L545.1 486.1L544.8 484.6L544.5 483.0M543.6 486.2L544.5 483.0L546.5 485.7M568.8 491.5L568.6 490.3L568.4 489.0L568.2 487.7L568.0 486.4L567.8 485.1L567.6 483.9M566.6 487.0L567.6 483.9L569.5 486.6M591.7 491.1L591.5 490.0L591.3 488.9L591.1 487.7L590.8 486.5L590.6 485.4L590.4 484.2M589.5 487.4L590.4 484.2L592.4 486.9M614.7 490.9L614.4 489.8L614.2 488.8L613.9 487.7L613.6 486.6L613.4 485.6L613.1 484.5M612.4 487.7L613.1 484.5L615.3 487.0M637.7 490.6L637.4 489.6L637.1 488.7L636.8 487.7L636.4 486.7L636.1 485.8L635.8 484.8M635.3 488.1L635.8 484.8L638.2 487.2M660.5 490.3L660.2 489.4L659.9 488.6L659.6 487.7L659.3 486.8L659.0 486.0L658.7 485.1M658.2 488.4L658.7 485.1L661.1 487.4M161.7 515.7L163.0 512.8L164.4 509.9L165.8 507.1L167.3 504.3L168.8 501.5L170.3 498.8M166.9 501.1L170.3 498.8L170.2 502.9M184.0 518.8L185.5 514.9L187.1 511.0L188.7 507.1L190.3 503.3L192.0 499.5L193.9 495.8M189.9 498.7L193.9 495.8L193.9 500.8M206.3 519.5L208.0 515.3L209.7 511.2L211.5 507.1L213.3 503.0L215.2 499.0L217.1 494.9M213.1 498.0L217.1 494.9L217.2 499.9M230.2 517.8L231.7 514.3L233.1 510.7L234.4 507.1L235.7 503.5L237.0 499.9L238.2 496.3M234.6 499.8L238.2 496.3L238.9 501.3M255.8 513.3L256.4 511.3L257.0 509.2L257.6 507.1L258.2 505.0L258.7 503.0L259.3 500.9M257.1 503.3L259.3 500.9L259.9 504.1M279.5 515.0L280.5 512.4L281.4 509.8L282.3 507.1L283.3 504.5L284.2 501.9L285.2 499.3M282.5 501.8L285.2 499.3L285.6 502.9M301.4 517.8L302.8 514.2L304.1 510.7L305.4 507.1L306.8 503.6L308.1 500.0L309.4 496.4M305.7 499.8L309.4 496.4L310.0 501.4M324.0 519.3L325.4 515.2L326.9 511.2L328.3 507.1L329.7 503.1L331.1 499.0L332.5 495.0M328.9 498.4L332.5 495.0L333.2 499.9M347.2 519.9L348.5 515.7L349.8 511.4L351.1 507.1L352.4 502.9L353.7 498.6L355.0 494.3M351.6 497.9L355.0 494.3L355.9 499.3M371.0 519.7L372.0 515.5L373.0 511.3L374.0 507.1L375.0 502.9L376.0 498.7L377.0 494.6M373.7 498.4L377.0 494.6L378.1 499.4M395.0 518.9L395.6 515.0L396.2 511.1L396.8 507.1L397.5 503.2L398.1 499.3L398.7 495.4M395.8 499.4L398.7 495.4L400.2 500.1M418.7 517.7L419.0 514.2L419.4 510.7L419.7 507.1L420.0 503.6L420.3 500.1L420.7 496.5M418.1 500.5L420.7 496.5L422.4 500.9M442.3 516.6L442.3 513.4L442.4 510.3L442.5 507.1L442.6 504.0L442.7 500.8L442.8 497.7M440.8 501.3L442.8 497.7L444.6 501.5M465.6 515.6L465.5 512.8L465.4 509.9L465.4 507.1L465.3 504.3L465.2 501.5L465.2 498.7M463.6 502.0L465.2 498.7L466.9 501.9M488.8 514.6L488.6 512.1L488.4 509.6L488.2 507.1L488.0 504.6L487.8 502.2L487.6 499.7M486.4 502.7L487.6 499.7L489.4 502.5M512.0 513.4L511.7 511.3L511.4 509.2L511.1 507.1L510.8 505.0L510.5 503.0L510.1 500.9M509.1 504.0L510.1 500.9L512.1 503.6M535.0 512.2L534.6 510.5L534.3 508.8L533.9 507.1L533.6 505.4L533.2 503.8L532.9 502.1M532.0 505.3L532.9 502.1L534.9 504.7M557.7 511.3L557.4 509.9L557.1 508.5L556.8 507.1L556.5 505.7L556.2 504.4L555.9 503.0M555.0 506.2L555.9 503.0L558.0 505.6M580.5 510.8L580.2 509.6L579.9 508.3L579.6 507.1L579.3 505.9L579.1 504.7L578.8 503.5M578.0 506.7L578.8 503.5L580.9 506.0M603.5 510.5L603.1 509.4L602.8 508.2L602.5 507.1L602.2 506.0L601.8 504.9L601.5 503.8M600.9 507.0L601.5 503.8L603.8 506.2M626.4 510.2L626.0 509.2L625.7 508.2L625.3 507.1L625.0 506.1L624.6 505.1L624.3 504.0M623.8 507.3L624.3 504.0L626.6 506.4M649.3 510.0L648.9 509.0L648.5 508.1L648.2 507.1L647.8 506.2L647.4 505.2L647.1 504.3M646.7 507.6L647.1 504.3L649.5 506.5M672.1 509.8L671.7 508.9L671.4 508.0L671.0 507.1L670.7 506.3L670.3 505.4L670.0 504.5M669.7 507.8L670.0 504.5L672.5 506.7M151.6 535.9L152.4 532.8L153.4 529.7L154.4 526.6L155.4 523.5L156.5 520.4L157.7 517.3M154.5 520.2L157.7 517.3L158.1 521.6M173.8 538.2L174.9 534.3L176.0 530.4L177.2 526.6L178.5 522.7L179.8 518.9L181.2 515.1M177.5 518.5L181.2 515.1L181.8 520.0M196.1 538.9L197.3 534.7L198.7 530.6L200.1 526.6L201.5 522.5L203.1 518.5L204.6 514.5M200.9 517.8L204.6 514.5L205.1 519.4M217.5 540.0L219.2 535.4L221.0 531.0L223.0 526.6L224.9 522.2L226.9 517.8L228.8 513.3M224.9 516.5L228.8 513.3L229.1 518.3M241.7 535.8L243.1 532.7L244.4 529.6L245.8 526.6L247.2 523.5L248.5 520.4L249.8 517.3M246.4 520.2L249.8 517.3L250.2 521.7M265.9 536.3L267.2 533.1L268.6 529.8L270.0 526.6L271.4 523.3L272.8 520.0L274.1 516.8M270.6 519.8L274.1 516.8L274.5 521.4M289.6 537.6L291.1 533.9L292.5 530.2L294.0 526.6L295.5 522.9L296.9 519.2L298.3 515.5M294.6 518.8L298.3 515.5L298.8 520.5M312.4 538.8L313.9 534.7L315.4 530.6L316.9 526.6L318.3 522.5L319.8 518.4L321.3 514.4M317.6 517.8L321.3 514.4L321.9 519.3M335.5 539.5L336.9 535.2L338.3 530.9L339.7 526.6L341.1 522.2L342.5 517.9L343.9 513.6M340.3 517.1L343.9 513.6L344.7 518.5M359.2 539.4L360.3 535.2L361.4 530.9L362.6 526.6L363.7 522.3L364.8 518.0L365.9 513.7M362.6 517.4L365.9 513.7L367.0 518.5M383.3 538.6L384.0 534.6L384.7 530.6L385.4 526.6L386.1 522.6L386.8 518.6L387.5 514.6M384.5 518.6L387.5 514.6L389.0 519.4M407.3 537.3L407.6 533.7L407.9 530.2L408.2 526.6L408.6 523.0L409.0 519.4L409.3 515.8M406.7 519.8L409.3 515.8L411.0 520.2M430.8 536.0L430.9 532.9L431.0 529.7L431.1 526.6L431.2 523.4L431.4 520.3L431.5 517.1M429.4 520.7L431.5 517.1L433.2 520.9M454.0 534.9L454.0 532.1L454.0 529.3L454.0 526.6L453.9 523.8L454.0 521.0L454.0 518.2M452.3 521.5L454.0 518.2L455.6 521.5M476.9 534.1L476.9 531.6L476.9 529.1L476.8 526.6L476.7 524.1L476.7 521.6L476.6 519.1M475.2 522.0L476.6 519.1L478.2 522.0M500.2 533.0L500.1 530.8L499.9 528.7L499.7 526.6L499.4 524.4L499.2 522.3L499.0 520.1M497.8 523.2L499.0 520.1L500.8 522.9M523.7 531.7L523.3 530.0L522.9 528.3L522.5 526.6L522.1 524.8L521.8 523.1L521.4 521.4M520.5 524.6L521.4 521.4L523.5 523.9M546.5 530.8L546.1 529.4L545.7 528.0L545.4 526.6L545.0 525.1L544.6 523.7L544.3 522.3M543.5 525.5L544.3 522.3L546.4 524.7M569.3 530.3L568.9 529.1L568.6 527.8L568.2 526.6L567.8 525.3L567.5 524.0L567.1 522.8M566.5 526.0L567.1 522.8L569.4 525.2M592.3 530.1L591.9 528.9L591.5 527.7L591.1 526.6L590.6 525.4L590.2 524.2L589.8 523.0M589.4 526.3L589.8 523.0L592.2 525.3M615.2 529.8L614.8 528.7L614.3 527.7L613.9 526.6L613.5 525.5L613.0 524.4L612.6 523.3M612.3 526.6L612.6 523.3L615.1 525.5M638.1 529.6L637.6 528.6L637.2 527.6L636.8 526.6L636.3 525.5L635.9 524.5L635.4 523.5M635.2 526.8L635.4 523.5L638.0 525.6M660.9 529.4L660.5 528.4L660.0 527.5L659.6 526.6L659.2 525.6L658.7 524.7L658.3 523.7M658.2 527.0L658.3 523.7L660.9 525.8M164.2 557.4L164.6 553.6L165.2 549.8L165.8 546.0L166.5 542.2L167.3 538.4L168.1 534.7M164.9 538.5L168.1 534.7L169.3 539.5M186.1 560.6L186.8 555.7L187.6 550.8L188.7 546.0L189.7 541.2L190.9 536.4L192.2 531.6M188.8 535.3L192.2 531.6L193.2 536.5M207.9 562.2L208.9 556.7L210.2 551.3L211.5 546.0L212.9 540.6L214.5 535.3L216.3 530.1M212.7 533.6L216.3 530.1L217.0 535.1M229.1 561.5L230.6 556.2L232.4 551.1L234.4 546.0L236.3 540.9L238.4 535.8L240.5 530.8M236.7 534.0L240.5 530.8L240.9 535.8M251.9 561.3L253.7 556.1L255.6 551.1L257.6 546.0L259.6 540.9L261.6 535.9L263.7 530.9M259.9 534.1L263.7 530.9L264.1 535.9M277.2 560.2L278.9 555.4L280.6 550.7L282.3 546.0L284.1 541.3L285.9 536.6L287.7 531.9M284.0 535.2L287.7 531.9L288.2 536.9M300.6 559.1L302.2 554.7L303.8 550.4L305.4 546.0L307.1 541.6L308.7 537.3L310.3 532.9M306.6 536.3L310.3 532.9L310.9 537.9M324.0 559.2L325.4 554.8L326.8 550.4L328.3 546.0L329.7 541.6L331.2 537.2L332.6 532.8M329.1 536.3L332.6 532.8L333.4 537.8M347.5 559.3L348.7 554.8L349.9 550.4L351.1 546.0L352.4 541.6L353.6 537.2L354.8 532.7M351.4 536.4L354.8 532.7L355.8 537.7M371.5 558.3L372.3 554.2L373.2 550.1L374.0 546.0L374.8 541.9L375.6 537.8L376.5 533.7M373.4 537.6L376.5 533.7L377.8 538.5M395.6 557.0L396.0 553.3L396.4 549.7L396.8 546.0L397.2 542.3L397.6 538.6L398.0 534.9M395.4 539.0L398.0 534.9L399.8 539.5M419.2 555.6L419.3 552.4L419.5 549.2L419.7 546.0L419.8 542.8L420.0 539.6L420.2 536.4M418.1 540.1L420.2 536.4L421.9 540.3M442.5 554.2L442.5 551.5L442.5 548.7L442.5 546.0L442.5 543.3L442.6 540.5L442.6 537.8M440.9 541.0L442.6 537.8L444.2 541.0M465.4 553.3L465.4 550.9L465.4 548.4L465.4 546.0L465.4 543.6L465.4 541.1L465.3 538.7M463.9 541.6L465.3 538.7L466.9 541.6M488.4 552.5L488.4 550.3L488.3 548.2L488.2 546.0L488.2 543.8L488.1 541.7L488.0 539.5M486.6 542.5L488.0 539.5L489.6 542.4M511.9 551.3L511.6 549.6L511.4 547.8L511.1 546.0L510.8 544.2L510.5 542.4L510.2 540.6M509.2 543.8L510.2 540.6L512.2 543.3M535.2 550.3L534.8 548.9L534.4 547.4L533.9 546.0L533.5 544.5L533.1 543.1L532.6 541.6M532.0 544.9L532.6 541.6L534.9 544.0M558.0 549.8L557.6 548.5L557.2 547.3L556.8 546.0L556.4 544.7L556.0 543.4L555.6 542.1M555.0 545.4L555.6 542.1L557.9 544.6M581.0 549.5L580.5 548.4L580.1 547.2L579.6 546.0L579.2 544.8L578.7 543.6L578.3 542.4M577.9 545.7L578.3 542.4L580.7 544.7M604.0 549.4L603.5 548.2L603.0 547.1L602.5 546.0L602.0 544.9L601.5 543.7L601.0 542.6M600.8 545.9L601.0 542.6L603.5 544.7M626.9 549.1L626.3 548.1L625.8 547.0L625.3 546.0L624.8 544.9L624.3 543.9L623.8 542.8M623.7 546.1L623.8 542.8L626.4 544.8M649.7 549.0L649.2 548.0L648.7 547.0L648.2 546.0L647.7 545.0L647.2 544.0L646.6 543.0M646.6 546.3L646.6 543.0L649.3 544.9M672.5 548.8L672.0 547.8L671.5 546.9L671.0 546.0L670.5 545.1L670.1 544.1L669.6 543.2M669.6 546.5L669.6 543.2L672.3 545.1M154.3 575.7L154.2 572.2L154.3 568.8L154.4 565.4L154.5 562.0L154.7 558.6L155.0 555.2M152.6 559.0L155.0 555.2L156.7 559.4M177.5 577.2L177.4 573.3L177.3 569.4L177.2 565.4L177.2 561.5L177.4 557.5L177.7 553.6M175.1 557.9L177.7 553.6L179.6 558.2M199.3 578.1L199.4 573.9L199.7 569.6L200.1 565.4L200.5 561.2L201.1 557.0L201.7 552.8M198.8 556.9L201.7 552.8L203.3 557.6M220.5 579.5L221.2 574.8L222.0 570.1L223.0 565.4L223.9 560.7L225.0 556.1L226.3 551.5M222.9 555.2L226.3 551.5L227.3 556.4M242.0 579.5L243.1 574.8L244.4 570.1L245.8 565.4L247.2 560.8L248.7 556.1L250.3 551.5M246.7 555.0L250.3 551.5L251.0 556.5M265.9 579.7L267.2 575.0L268.6 570.2L270.0 565.4L271.4 560.7L272.9 555.9L274.6 551.2M271.0 554.7L274.6 551.2L275.3 556.2M289.4 579.4L290.9 574.7L292.4 570.1L294.0 565.4L295.6 560.8L297.2 556.1L298.9 551.5M295.2 554.9L298.9 551.5L299.5 556.5M312.5 578.8L314.0 574.3L315.4 569.9L316.9 565.4L318.3 561.0L319.8 556.5L321.3 552.1M317.7 555.6L321.3 552.1L322.0 557.0M336.2 578.6L337.3 574.2L338.5 569.8L339.7 565.4L340.9 561.0L342.1 556.7L343.4 552.3M340.0 556.0L343.4 552.3L344.3 557.2M360.0 578.0L360.8 573.8L361.7 569.6L362.6 565.4L363.4 561.2L364.3 557.1L365.3 552.9M362.1 556.7L365.3 552.9L366.5 557.7M383.8 576.8L384.3 573.0L384.9 569.2L385.4 565.4L385.9 561.6L386.5 557.8L387.0 554.0M384.2 558.1L387.0 554.0L388.7 558.8M407.4 575.3L407.7 572.0L408.0 568.7L408.2 565.4L408.5 562.1L408.8 558.8L409.0 555.6M406.8 559.3L409.0 555.6L410.7 559.6M430.8 573.7L430.9 570.9L431.0 568.2L431.1 565.4L431.2 562.7L431.3 559.9L431.4 557.2M429.6 560.4L431.4 557.2L432.9 560.5M453.9 572.5L453.9 570.1L453.9 567.8L454.0 565.4L454.0 563.1L454.0 560.7L454.0 558.4M452.5 561.3L454.0 558.4L455.5 561.3M476.9 571.6L476.9 569.5L476.8 567.5L476.8 565.4L476.8 563.4L476.7 561.3L476.7 559.2M475.2 562.2L476.7 559.2L478.2 562.1M500.1 570.8L500.0 569.0L499.8 567.2L499.7 565.4L499.5 563.6L499.3 561.8L499.2 560.0M497.9 563.1L499.2 560.0L500.9 562.8M523.5 570.0L523.2 568.4L522.8 566.9L522.5 565.4L522.2 563.9L521.8 562.4L521.5 560.9M520.7 564.1L521.5 560.9L523.6 563.4M546.6 569.3L546.2 568.0L545.8 566.7L545.4 565.4L544.9 564.1L544.5 562.8L544.1 561.5M543.6 564.8L544.1 561.5L546.4 563.9M569.6 568.9L569.1 567.8L568.7 566.6L568.2 565.4L567.7 564.2L567.3 563.1L566.8 561.9M566.5 565.2L566.8 561.9L569.3 564.1M592.6 568.7L592.1 567.6L591.5 566.5L591.1 565.4L590.6 564.3L590.1 563.2L589.6 562.1M589.4 565.4L589.6 562.1L592.1 564.2M615.5 568.6L615.0 567.5L614.4 566.5L613.9 565.4L613.4 564.4L612.8 563.3L612.3 562.3M612.3 565.6L612.3 562.3L615.0 564.2M638.4 568.4L637.8 567.4L637.3 566.4L636.8 565.4L636.2 564.4L635.7 563.4L635.1 562.4M635.2 565.7L635.1 562.4L637.8 564.3M661.2 568.3L660.7 567.3L660.1 566.4L659.6 565.4L659.1 564.5L658.5 563.5L658.0 562.5M658.1 565.8L658.0 562.5L660.7 564.4M166.7 595.5L166.4 592.0L166.1 588.4L165.8 584.9L165.5 581.3L165.2 577.7L165.0 574.2M163.1 578.5L165.0 574.2L167.4 578.2M189.4 597.9L189.2 593.6L189.0 589.2L188.7 584.9L188.4 580.5L188.2 576.1L188.0 571.8M185.9 576.3L188.0 571.8L190.4 576.2M211.2 597.5L211.3 593.3L211.4 589.1L211.5 584.9L211.7 580.6L211.9 576.4L212.2 572.2M209.6 576.4L212.2 572.2L214.1 576.8M232.7 596.8L233.2 592.8L233.7 588.8L234.4 584.9L235.0 580.9L235.8 576.9L236.6 573.0M233.5 576.8L236.6 573.0L237.9 577.8M255.1 598.2L255.8 593.7L256.6 589.3L257.6 584.9L258.6 580.4L259.6 576.0L260.8 571.6M257.4 575.4L260.8 571.6L261.8 576.5M278.6 598.8L279.7 594.1L281.0 589.5L282.3 584.9L283.7 580.2L285.1 575.6L286.6 571.0M283.1 574.6L286.6 571.0L287.4 575.9M301.2 597.9L302.6 593.6L304.0 589.2L305.4 584.9L306.8 580.5L308.2 576.2L309.6 571.8M306.1 575.3L309.6 571.8L310.4 576.7M324.8 597.8L326.0 593.4L327.1 589.1L328.3 584.9L329.4 580.6L330.6 576.3L331.8 572.0M328.4 575.7L331.8 572.0L332.8 576.9M348.7 597.5L349.5 593.3L350.3 589.1L351.1 584.9L352.0 580.6L352.9 576.4L353.8 572.2M350.6 576.1L353.8 572.2L355.0 577.1M372.3 596.6L372.8 592.6L373.4 588.7L374.0 584.9L374.6 581.0L375.2 577.1L375.8 573.2M372.8 577.2L375.8 573.2L377.3 577.9M395.8 595.2L396.1 591.7L396.5 588.3L396.8 584.9L397.2 581.4L397.5 578.0L397.9 574.5M395.4 578.4L397.9 574.5L399.5 578.8M419.2 593.3L419.4 590.5L419.5 587.7L419.7 584.9L419.8 582.0L420.0 579.2L420.1 576.4M418.3 579.6L420.1 576.4L421.6 579.8M442.4 591.6L442.5 589.4L442.5 587.1L442.5 584.9L442.6 582.6L442.6 580.3L442.6 578.1M441.1 581.0L442.6 578.1L444.1 581.1M465.4 590.7L465.4 588.8L465.4 586.8L465.4 584.9L465.4 582.9L465.4 580.9L465.3 579.0M463.9 581.9L465.3 579.0L466.9 581.9M488.4 590.1L488.4 588.3L488.3 586.6L488.2 584.9L488.2 583.1L488.1 581.4L488.0 579.6M486.6 582.6L488.0 579.6L489.6 582.5M511.8 589.5L511.5 587.9L511.3 586.4L511.1 584.9L510.8 583.3L510.6 581.8L510.4 580.2M509.3 583.4L510.4 580.2L512.3 582.9M535.1 588.8L534.7 587.5L534.3 586.2L533.9 584.9L533.5 583.5L533.2 582.2L532.8 580.8M532.1 584.1L532.8 580.8L535.0 583.3M558.2 588.4L557.7 587.2L557.2 586.0L556.8 584.9L556.3 583.7L555.8 582.5L555.4 581.3M555.0 584.6L555.4 581.3L557.8 583.5M581.1 588.1L580.6 587.0L580.1 585.9L579.6 584.9L579.1 583.8L578.6 582.7L578.1 581.6M578.0 584.9L578.1 581.6L580.7 583.6M604.0 587.9L603.5 586.9L603.0 585.9L602.5 584.9L602.0 583.8L601.4 582.8L600.9 581.8M600.9 585.1L600.9 581.8L603.6 583.7M627.0 587.8L626.4 586.8L625.9 585.8L625.3 584.9L624.8 583.9L624.2 582.9L623.7 581.9M623.8 585.1L623.7 581.9L626.4 583.7M649.9 587.8L649.3 586.8L648.7 585.8L648.2 584.9L647.6 583.9L647.0 582.9L646.5 581.9M646.7 585.2L646.5 581.9L649.2 583.7M672.7 587.6L672.1 586.7L671.6 585.8L671.0 584.9L670.5 583.9L669.9 583.0L669.4 582.1M669.6 585.4L669.4 582.1L672.1 583.8M154.8 614.2L154.7 610.9L154.5 607.6L154.4 604.3L154.3 601.0L154.1 597.7L153.9 594.3M152.1 598.3L153.9 594.3L156.1 598.1M177.4 615.3L177.3 611.7L177.3 608.0L177.2 604.3L177.2 600.6L177.1 596.9L177.0 593.2M174.9 597.7L177.0 593.2L179.3 597.5M200.2 615.5L200.1 611.7L200.1 608.0L200.1 604.3L200.1 600.5L200.0 596.8L200.0 593.1M197.8 597.5L200.0 593.1L202.3 597.4M222.6 616.2L222.7 612.2L222.8 608.3L223.0 604.3L223.1 600.3L223.3 596.3L223.5 592.3M221.0 596.6L223.5 592.3L225.5 596.9M244.9 616.7L245.2 612.6L245.5 608.4L245.8 604.3L246.1 600.1L246.6 596.0L247.1 591.9M244.3 596.0L247.1 591.9L248.8 596.6M268.5 616.8L269.0 612.6L269.5 608.5L270.0 604.3L270.5 600.1L271.2 595.9L272.0 591.8M268.9 595.8L272.0 591.8L273.4 596.6M291.0 616.6L291.9 612.4L292.9 608.3L294.0 604.3L295.1 600.2L296.3 596.2L297.6 592.1M294.1 595.7L297.6 592.1L298.4 597.1M313.8 616.5L314.8 612.4L315.8 608.3L316.9 604.3L317.9 600.2L319.0 596.2L320.1 592.1M316.8 595.8L320.1 592.1L321.1 597.0M337.4 616.6L338.1 612.5L338.9 608.4L339.7 604.3L340.5 600.2L341.3 596.1L342.1 592.0M339.0 595.9L342.1 592.0L343.5 596.8M360.9 616.0L361.5 612.1L362.0 608.2L362.6 604.3L363.1 600.4L363.7 596.4L364.3 592.5M361.4 596.6L364.3 592.5L365.8 597.3M384.3 614.9L384.7 611.4L385.0 607.8L385.4 604.3L385.8 600.7L386.1 597.2L386.5 593.6M384.0 597.6L386.5 593.6L388.2 598.0M407.7 613.4L407.9 610.3L408.1 607.3L408.2 604.3L408.4 601.3L408.6 598.2L408.8 595.2M406.8 598.6L408.8 595.2L410.4 598.9M431.0 611.2L431.0 608.9L431.0 606.6L431.1 604.3L431.2 602.0L431.2 599.7L431.3 597.3M429.7 600.2L431.3 597.3L432.7 600.3M454.0 610.0L454.0 608.1L454.0 606.2L454.0 604.3L453.9 602.4L453.9 600.4L453.9 598.5M452.4 601.5L453.9 598.5L455.4 601.5M476.9 609.5L476.8 607.7L476.8 606.0L476.8 604.3L476.8 602.6L476.8 600.8L476.8 599.1M475.3 602.1L476.8 599.1L478.3 602.0M500.1 608.9L499.9 607.4L499.8 605.8L499.7 604.3L499.5 602.7L499.4 601.2L499.3 599.6M498.0 602.7L499.3 599.6L501.0 602.4M523.4 608.4L523.1 607.0L522.8 605.7L522.5 604.3L522.2 602.9L521.9 601.5L521.6 600.2M520.8 603.3L521.6 600.2L523.7 602.7M546.7 607.9L546.3 606.7L545.8 605.5L545.4 604.3L544.9 603.1L544.4 601.9L544.0 600.7M543.6 603.9L544.0 600.7L546.4 602.9M569.7 607.6L569.2 606.5L568.7 605.4L568.2 604.3L567.7 603.2L567.2 602.1L566.7 601.0M566.5 604.3L566.7 601.0L569.3 603.0M592.6 607.4L592.1 606.3L591.6 605.3L591.1 604.3L590.5 603.3L590.0 602.2L589.5 601.2M589.5 604.5L589.5 601.2L592.2 603.2M615.5 607.3L615.0 606.3L614.4 605.3L613.9 604.3L613.4 603.3L612.8 602.3L612.3 601.3M612.4 604.6L612.3 601.3L615.0 603.2M638.5 607.2L637.9 606.2L637.3 605.3L636.8 604.3L636.2 603.3L635.6 602.3L635.0 601.4M635.2 604.6L635.0 601.4L637.8 603.1M661.4 607.1L660.8 606.2L660.2 605.2L659.6 604.3L659.0 603.3L658.4 602.4L657.8 601.4M658.1 604.7L657.8 601.4L660.7 603.1" fill="none" stroke="#000" stroke-opacity="0.86" stroke-width="0.78"/>
<path d="M422.5 289.3L424.0 293.8L428.8 293.9L425.0 296.7L426.4 301.2L422.5 298.5L418.6 301.2L420.0 296.7L416.2 293.9L421.0 293.8z" fill="none" stroke="#000" stroke-width="1.2"/>
<path d="M458.0 447.3L459.5 451.8L464.3 451.9L460.5 454.7L461.9 459.2L458.0 456.5L454.1 459.2L455.5 454.7L451.7 451.9L456.5 451.8z" fill="none" stroke="#000" stroke-width="1.2"/>
</g>
<path d="M164.5 604.3v-14M277.6 604.3v-14M390.6 604.3v-14M504.0 604.3v-14M617.4 604.3v-14M188.0 76.2v14M290.8 76.2v14M393.5 76.2v14M496.4 76.2v14M599.2 76.2v14M155.5 104.1h14M155.5 235.4h14M155.5 366.3h14M155.5 497.3h14M683.4 235.4h-14M683.4 366.3h-14M683.4 497.3h-14" fill="none" stroke="#000" stroke-width="1.2"/>
<rect x="155.5" y="76.2" width="527.9" height="528.1" fill="none" stroke="#000" stroke-width="1.3"/>
<rect x="656.6" y="75.2" width="29.4" height="40" fill="#fff"/><rect x="656.8" y="76.1" width="29" height="38.9" fill="#fff" stroke="#555" stroke-width="0.7"/><text transform="translate(671.4 90.4) scale(1.04 1)" font-size="13.8" text-anchor="middle" stroke="#000" stroke-width="0.25">8</text><path d="M660 101.3H682.3" fill="none" stroke="#000" stroke-opacity="0.6" stroke-width="0.8"/><path d="M677.2 99.4L682.4 101.3L677.2 103.2L678.6 101.3Z" fill="#000" fill-opacity="0.35" stroke="#000" stroke-opacity="0.7" stroke-width="0.7" stroke-linejoin="round"/>
<rect x="163.10" y="628.4" width="22.58" height="14.2" fill="#0000ff"/><rect x="185.38" y="628.4" width="22.58" height="14.2" fill="#0040ff"/><rect x="207.66" y="628.4" width="22.58" height="14.2" fill="#0080ff"/><rect x="229.93" y="628.4" width="22.58" height="14.2" fill="#00c8ff"/><rect x="252.21" y="628.4" width="22.58" height="14.2" fill="#00f0f0"/><rect x="274.49" y="628.4" width="22.58" height="14.2" fill="#00e0b0"/><rect x="296.77" y="628.4" width="22.58" height="14.2" fill="#00d070"/><rect x="319.05" y="628.4" width="22.58" height="14.2" fill="#00b828"/><rect x="341.33" y="628.4" width="22.58" height="14.2" fill="#30c018"/><rect x="363.60" y="628.4" width="22.58" height="14.2" fill="#78d010"/><rect x="385.88" y="628.4" width="22.58" height="14.2" fill="#b8e810"/><rect x="408.16" y="628.4" width="22.58" height="14.2" fill="#ffff00"/><rect x="430.44" y="628.4" width="22.58" height="14.2" fill="#ffe800"/><rect x="452.72" y="628.4" width="22.58" height="14.2" fill="#ffd000"/><rect x="475.00" y="628.4" width="22.58" height="14.2" fill="#ffb000"/><rect x="497.27" y="628.4" width="22.58" height="14.2" fill="#ff9000"/><rect x="519.55" y="628.4" width="22.58" height="14.2" fill="#ff6800"/><rect x="541.83" y="628.4" width="22.58" height="14.2" fill="#ff4000"/><rect x="564.11" y="628.4" width="22.58" height="14.2" fill="#ff0000"/><rect x="586.39" y="628.4" width="22.58" height="14.2" fill="#e00020"/><rect x="608.67" y="628.4" width="22.58" height="14.2" fill="#b00048"/><rect x="630.94" y="628.4" width="22.58" height="14.2" fill="#880070"/><rect x="653.22" y="628.4" width="22.28" height="14.2" fill="#600098"/><path d="M185.38 628.4v14.2M207.66 628.4v14.2M229.93 628.4v14.2M252.21 628.4v14.2M274.49 628.4v14.2M296.77 628.4v14.2M319.05 628.4v14.2M341.33 628.4v14.2M363.60 628.4v14.2M385.88 628.4v14.2M408.16 628.4v14.2M430.44 628.4v14.2M452.72 628.4v14.2M475.00 628.4v14.2M497.27 628.4v14.2M519.55 628.4v14.2M541.83 628.4v14.2M564.11 628.4v14.2M586.39 628.4v14.2M608.67 628.4v14.2M630.94 628.4v14.2M653.22 628.4v14.2" stroke="#000" stroke-width="0.8" fill="none"/><rect x="163.10" y="628.4" width="512.40" height="14.2" fill="none" stroke="#555" stroke-width="0.6"/>
<text transform="translate(185.4 657.2) scale(1.04 1)" font-size="13.6" text-anchor="middle" stroke="#000" stroke-width="0.25">-4</text><text transform="translate(229.9 657.2) scale(1.04 1)" font-size="13.6" text-anchor="middle" stroke="#000" stroke-width="0.25">-2</text><text transform="translate(274.5 657.2) scale(1.04 1)" font-size="13.6" text-anchor="middle" stroke="#000" stroke-width="0.25">0</text><text transform="translate(319.0 657.2) scale(1.04 1)" font-size="13.6" text-anchor="middle" stroke="#000" stroke-width="0.25">2</text><text transform="translate(363.6 657.2) scale(1.04 1)" font-size="13.6" text-anchor="middle" stroke="#000" stroke-width="0.25">4</text><text transform="translate(408.2 657.2) scale(1.04 1)" font-size="13.6" text-anchor="middle" stroke="#000" stroke-width="0.25">6</text><text transform="translate(452.7 657.2) scale(1.04 1)" font-size="13.6" text-anchor="middle" stroke="#000" stroke-width="0.25">8</text><text transform="translate(497.3 657.2) scale(1.04 1)" font-size="13.6" text-anchor="middle" stroke="#000" stroke-width="0.25">10</text><text transform="translate(541.8 657.2) scale(1.04 1)" font-size="13.6" text-anchor="middle" stroke="#000" stroke-width="0.25">12</text><text transform="translate(586.4 657.2) scale(1.04 1)" font-size="13.6" text-anchor="middle" stroke="#000" stroke-width="0.25">14</text><text transform="translate(630.9 657.2) scale(1.04 1)" font-size="13.6" text-anchor="middle" stroke="#000" stroke-width="0.25">16</text>
<text transform="translate(298.6 26.4) scale(1.04 1)" font-size="13.8" font-weight="bold">2022/12/28/8UTC (2LT), Wednesday</text><text transform="translate(298.6 42.3) scale(1.04 1)" font-size="13.8" font-weight="bold">FV3M0B2L1_GFS025</text><text transform="translate(153.6 63.4) scale(1.03 1)" font-size="23.6" stroke="#000" stroke-width="0.25">2m temperature</text><text transform="translate(658.2 56.7) scale(1.0 1)" font-size="15.4" stroke="#000" stroke-width="0.25">o</text><text transform="translate(666.6 68.2) scale(1.02 1)" font-size="24" stroke="#000" stroke-width="0.25">C</text><text transform="translate(146.0 240.8) scale(1.03 1)" font-size="14.0" text-anchor="end" stroke="#000" stroke-width="0.25">36°N</text><text transform="translate(146.0 502.7) scale(1.03 1)" font-size="14.0" text-anchor="end" stroke="#000" stroke-width="0.25">32°N</text><text transform="translate(164.5 625.1) scale(1.03 1)" font-size="14.0" text-anchor="middle" stroke="#000" stroke-width="0.25">102°W</text><text transform="translate(390.6 625.1) scale(1.03 1)" font-size="14.0" text-anchor="middle" stroke="#000" stroke-width="0.25">98°W</text><text transform="translate(617.4 625.1) scale(1.03 1)" font-size="14.0" text-anchor="middle" stroke="#000" stroke-width="0.25">94°W</text><text transform="translate(191.4 619.8) scale(1.035 1)" font-size="14.1" stroke="#000" stroke-width="0.25">Min= -4.83 Max= 17.53</text>
</svg></body></html>
